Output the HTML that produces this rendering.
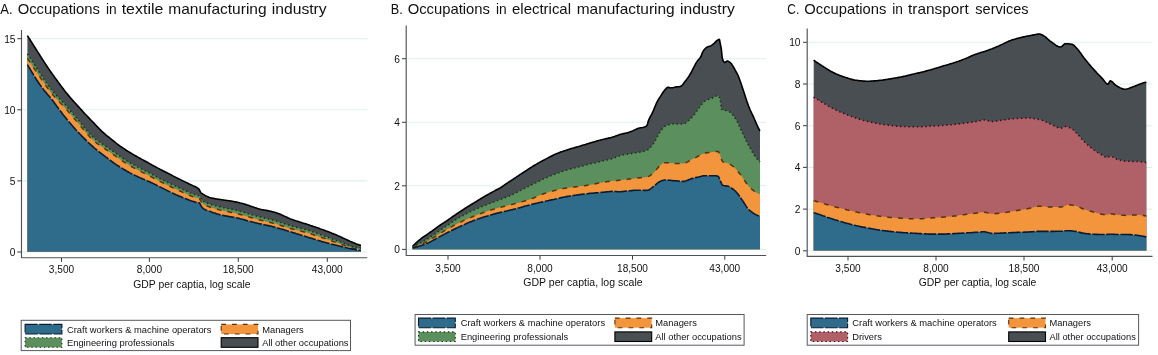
<!DOCTYPE html>
<html><head><meta charset="utf-8"><title>Occupations by industry</title>
<style>html,body{margin:0;padding:0;background:#fff;}body{width:1158px;height:355px;overflow:hidden;font-family:"Liberation Sans", sans-serif;}svg{display:block;will-change:transform;opacity:0.9999}</style>
</head><body>
<svg width="1158" height="355" viewBox="0 0 1158 355" font-family='"Liberation Sans", sans-serif'>
<rect width="1158" height="355" fill="#fff"/>
<text x="0.3" y="13.7" font-size="14.6" textLength="12.3" lengthAdjust="spacingAndGlyphs" fill="#111">A.</text>
<text x="17.7" y="13.7" font-size="14.6" textLength="82.3" lengthAdjust="spacingAndGlyphs" fill="#111">Occupations</text>
<text x="106.0" y="13.7" font-size="14.6" textLength="10.7" lengthAdjust="spacingAndGlyphs" fill="#111">in</text>
<text x="121.7" y="13.7" font-size="14.6" textLength="41.7" lengthAdjust="spacingAndGlyphs" fill="#111">textile</text>
<text x="168.3" y="13.7" font-size="14.6" textLength="98.3" lengthAdjust="spacingAndGlyphs" fill="#111">manufacturing</text>
<text x="271.7" y="13.7" font-size="14.6" textLength="55.0" lengthAdjust="spacingAndGlyphs" fill="#111">industry</text>
<text x="390.7" y="13.7" font-size="14.6" textLength="12.0" lengthAdjust="spacingAndGlyphs" fill="#111">B.</text>
<text x="407.7" y="13.7" font-size="14.6" textLength="82.3" lengthAdjust="spacingAndGlyphs" fill="#111">Occupations</text>
<text x="496.0" y="13.7" font-size="14.6" textLength="10.7" lengthAdjust="spacingAndGlyphs" fill="#111">in</text>
<text x="512.0" y="13.7" font-size="14.6" textLength="59.0" lengthAdjust="spacingAndGlyphs" fill="#111">electrical</text>
<text x="576.7" y="13.7" font-size="14.6" textLength="98.0" lengthAdjust="spacingAndGlyphs" fill="#111">manufacturing</text>
<text x="680.0" y="13.7" font-size="14.6" textLength="54.7" lengthAdjust="spacingAndGlyphs" fill="#111">industry</text>
<text x="787.3" y="13.7" font-size="14.6" textLength="12.0" lengthAdjust="spacingAndGlyphs" fill="#111">C.</text>
<text x="804.3" y="13.7" font-size="14.6" textLength="82.0" lengthAdjust="spacingAndGlyphs" fill="#111">Occupations</text>
<text x="892.3" y="13.7" font-size="14.6" textLength="10.7" lengthAdjust="spacingAndGlyphs" fill="#111">in</text>
<text x="908.0" y="13.7" font-size="14.6" textLength="60.7" lengthAdjust="spacingAndGlyphs" fill="#111">transport</text>
<text x="975.3" y="13.7" font-size="14.6" textLength="53.3" lengthAdjust="spacingAndGlyphs" fill="#111">services</text>
<line x1="22.5" y1="252.0" x2="367.3" y2="252.0" stroke="#DFEFEC" stroke-width="1.1"/>
<line x1="22.5" y1="180.9" x2="367.3" y2="180.9" stroke="#DFEFEC" stroke-width="1.1"/>
<line x1="22.5" y1="109.8" x2="367.3" y2="109.8" stroke="#DFEFEC" stroke-width="1.1"/>
<line x1="22.5" y1="38.7" x2="367.3" y2="38.7" stroke="#DFEFEC" stroke-width="1.1"/>
<path d="M27.4,35.6 L28.4,37.2 L29.4,38.8 L30.4,40.3 L31.4,41.9 L32.4,43.5 L33.4,45.1 L34.4,46.7 L35.4,48.2 L36.4,49.8 L37.4,51.4 L38.4,52.9 L39.4,54.5 L40.0,55.5 L40.4,56.1 L41.4,57.7 L42.4,59.2 L43.4,60.8 L44.4,62.4 L45.4,63.9 L46.4,65.4 L47.4,66.9 L48.4,68.4 L49.4,69.9 L50.4,71.3 L51.4,72.7 L52.4,74.1 L53.4,75.5 L54.4,76.9 L55.4,78.2 L56.4,79.6 L56.9,80.3 L57.4,81.0 L58.4,82.4 L59.4,83.8 L60.4,85.1 L61.4,86.5 L62.4,87.8 L63.4,89.1 L64.4,90.4 L65.4,91.7 L66.4,92.9 L67.4,94.1 L68.4,95.4 L69.3,96.4 L69.4,96.5 L70.4,97.7 L71.4,98.9 L72.4,100.0 L73.4,101.1 L74.4,102.2 L75.4,103.3 L76.4,104.4 L77.4,105.5 L78.4,106.6 L79.4,107.7 L80.4,108.8 L81.4,109.9 L82.4,111.0 L82.8,111.5 L83.4,112.1 L84.4,113.2 L85.4,114.3 L86.4,115.3 L87.4,116.4 L88.4,117.4 L89.4,118.4 L90.4,119.5 L91.4,120.5 L92.4,121.5 L93.4,122.5 L94.4,123.6 L95.4,124.7 L96.3,125.6 L96.4,125.7 L97.4,126.8 L98.4,127.9 L99.4,128.9 L100.0,129.5 L100.4,129.9 L101.4,130.9 L102.4,131.8 L103.4,132.7 L104.4,133.6 L105.4,134.4 L106.4,135.3 L107.4,136.1 L108.4,136.9 L109.4,137.7 L110.4,138.5 L111.3,139.2 L111.4,139.3 L112.4,140.1 L113.4,140.9 L114.4,141.7 L115.4,142.5 L116.4,143.3 L117.4,144.1 L118.4,144.8 L119.4,145.6 L120.4,146.3 L121.4,147.0 L122.4,147.7 L122.5,147.7 L123.4,148.3 L124.4,149.0 L125.4,149.7 L126.4,150.3 L127.4,151.0 L128.4,151.6 L129.4,152.2 L130.4,152.8 L131.4,153.4 L132.4,154.0 L133.4,154.6 L133.8,154.8 L134.4,155.2 L135.4,155.7 L136.4,156.3 L137.4,156.9 L138.4,157.4 L139.4,158.0 L140.4,158.5 L141.4,159.1 L142.4,159.6 L143.4,160.1 L144.4,160.7 L145.1,161.1 L145.4,161.2 L146.4,161.8 L147.4,162.3 L148.4,162.9 L149.4,163.5 L150.4,164.0 L151.4,164.6 L152.4,165.2 L153.4,165.7 L154.4,166.3 L155.4,166.8 L156.3,167.3 L156.4,167.4 L157.4,167.9 L158.4,168.4 L159.4,168.9 L160.4,169.5 L161.4,170.0 L162.4,170.5 L163.4,171.0 L164.4,171.5 L165.4,172.0 L166.4,172.5 L167.4,173.0 L167.6,173.1 L168.4,173.5 L169.4,174.0 L170.4,174.5 L171.4,175.0 L172.4,175.6 L173.4,176.1 L174.4,176.6 L175.4,177.1 L176.4,177.6 L177.4,178.1 L178.4,178.6 L178.9,178.9 L179.4,179.1 L180.4,179.6 L181.4,180.1 L182.4,180.6 L183.4,181.1 L184.4,181.6 L185.4,182.1 L186.4,182.6 L187.4,183.0 L188.4,183.5 L189.4,184.0 L190.1,184.3 L190.4,184.5 L191.4,184.9 L192.4,185.4 L193.4,185.9 L194.4,186.3 L195.4,186.8 L196.4,187.3 L197.4,187.9 L198.4,188.7 L199.0,189.2 L199.4,189.9 L200.4,191.9 L201.3,193.2 L201.4,193.3 L202.4,193.7 L203.0,194.2 L203.4,194.4 L204.4,195.0 L205.4,195.6 L206.4,196.1 L207.4,196.6 L208.4,197.0 L209.4,197.4 L210.4,197.7 L211.4,197.9 L212.4,198.2 L212.5,198.2 L213.4,198.4 L214.4,198.6 L215.4,198.8 L216.4,199.0 L217.4,199.1 L218.4,199.3 L219.4,199.4 L220.4,199.5 L221.4,199.7 L222.4,199.8 L223.4,200.0 L223.8,200.0 L224.4,200.1 L225.4,200.2 L226.4,200.4 L227.4,200.5 L228.4,200.7 L229.4,200.8 L230.4,201.0 L231.4,201.1 L232.4,201.3 L233.4,201.5 L234.4,201.7 L235.1,201.8 L235.4,201.9 L236.4,202.1 L237.4,202.3 L238.4,202.5 L239.4,202.7 L240.4,203.0 L241.4,203.2 L242.4,203.5 L243.4,203.8 L244.4,204.1 L245.4,204.4 L246.3,204.6 L246.4,204.7 L247.4,205.0 L248.4,205.3 L249.4,205.7 L250.4,206.0 L251.4,206.4 L252.4,206.8 L253.4,207.1 L254.4,207.5 L255.4,207.8 L256.4,208.1 L257.4,208.4 L257.6,208.5 L258.4,208.7 L259.4,209.0 L260.4,209.2 L261.4,209.5 L262.4,209.7 L263.4,209.9 L264.4,210.0 L265.4,210.2 L266.4,210.4 L267.4,210.6 L268.4,210.8 L268.9,210.9 L269.4,211.0 L270.4,211.2 L271.4,211.4 L272.4,211.7 L273.4,211.9 L274.4,212.2 L275.4,212.5 L276.4,212.8 L277.4,213.2 L278.4,213.5 L279.4,213.9 L280.1,214.2 L280.4,214.3 L281.4,214.8 L282.4,215.2 L283.4,215.7 L284.4,216.1 L285.4,216.6 L286.4,217.1 L287.4,217.5 L288.4,218.0 L289.4,218.4 L290.4,218.9 L291.4,219.3 L292.4,219.6 L293.4,220.0 L294.4,220.3 L295.4,220.7 L296.4,221.0 L297.4,221.3 L298.4,221.6 L299.4,221.9 L300.4,222.2 L301.4,222.5 L302.4,222.9 L303.4,223.2 L304.4,223.5 L305.4,223.8 L306.4,224.1 L306.9,224.3 L307.4,224.4 L308.4,224.7 L309.4,225.0 L310.4,225.4 L311.4,225.7 L312.4,226.0 L313.4,226.4 L314.4,226.7 L315.4,227.1 L316.4,227.4 L317.4,227.8 L318.4,228.1 L319.4,228.5 L320.4,228.9 L321.4,229.2 L322.4,229.6 L323.4,229.9 L323.8,230.1 L324.4,230.3 L325.4,230.7 L326.4,231.0 L327.4,231.4 L328.4,231.8 L329.4,232.2 L330.4,232.6 L331.4,233.0 L332.4,233.4 L333.4,233.8 L334.4,234.2 L335.4,234.6 L336.4,235.0 L337.4,235.4 L338.4,235.9 L339.4,236.3 L340.4,236.8 L340.7,236.9 L341.4,237.2 L342.4,237.7 L343.4,238.2 L344.4,238.6 L345.4,239.1 L346.4,239.6 L347.4,240.0 L348.4,240.5 L349.4,240.9 L350.4,241.4 L351.4,241.8 L352.4,242.2 L353.4,242.7 L354.2,243.0 L354.4,243.1 L355.4,243.5 L356.4,243.9 L357.4,244.2 L358.4,244.6 L359.4,244.9 L360.4,245.3 L361.0,245.4 L361.0,251.8 L27.4,251.8 Z" fill="#484E52" stroke="none"/>
<path d="M27.4,53.8 L28.4,55.4 L29.4,56.9 L30.4,58.5 L31.4,60.0 L32.4,61.6 L33.4,63.2 L34.4,64.7 L35.4,66.2 L36.4,67.8 L37.4,69.3 L38.4,70.8 L39.4,72.3 L40.4,73.8 L41.4,75.3 L42.4,76.7 L43.4,78.2 L44.4,79.7 L45.4,81.2 L45.6,81.5 L46.4,82.7 L47.4,84.1 L48.4,85.6 L49.4,87.0 L50.4,88.3 L51.4,89.6 L52.1,90.5 L52.4,90.9 L53.4,92.1 L54.4,93.2 L55.4,94.4 L56.4,95.4 L57.4,96.5 L58.4,97.5 L59.4,98.5 L60.4,99.6 L61.4,100.6 L62.4,101.7 L62.5,101.8 L63.4,102.7 L64.4,103.8 L65.4,105.0 L66.4,106.1 L67.4,107.2 L68.4,108.4 L69.4,109.6 L70.4,110.7 L71.4,111.9 L72.4,113.0 L73.4,114.2 L74.4,115.3 L75.4,116.5 L76.1,117.3 L76.4,117.6 L77.4,118.8 L78.4,120.0 L79.4,121.2 L80.4,122.5 L81.4,123.7 L82.4,125.0 L83.4,126.3 L84.4,127.5 L85.4,128.8 L86.4,130.0 L87.4,131.2 L88.4,132.3 L89.4,133.4 L90.4,134.5 L91.4,135.5 L91.8,135.9 L92.4,136.4 L93.4,137.3 L94.4,138.2 L95.4,139.0 L96.4,139.8 L97.4,140.6 L98.4,141.3 L99.4,142.0 L100.0,142.4 L100.4,142.7 L101.4,143.4 L102.4,144.1 L103.4,144.8 L104.4,145.5 L105.4,146.1 L106.4,146.8 L107.4,147.5 L108.4,148.1 L109.4,148.8 L110.4,149.5 L111.3,150.1 L111.4,150.2 L112.4,150.9 L113.4,151.6 L114.4,152.3 L115.4,153.0 L116.4,153.7 L117.4,154.5 L118.4,155.2 L119.4,155.9 L120.4,156.6 L121.4,157.4 L122.4,158.0 L122.5,158.1 L123.4,158.7 L124.4,159.4 L125.4,160.0 L126.4,160.7 L127.4,161.3 L128.4,161.9 L129.4,162.5 L130.4,163.0 L131.4,163.6 L132.4,164.1 L133.4,164.7 L133.8,164.9 L134.4,165.2 L135.4,165.8 L136.4,166.3 L137.4,166.8 L138.4,167.3 L139.4,167.8 L140.4,168.3 L141.4,168.9 L142.4,169.4 L143.4,169.9 L144.4,170.4 L145.1,170.7 L145.4,170.9 L146.4,171.4 L147.4,171.9 L148.4,172.4 L149.4,172.9 L150.4,173.4 L151.4,174.0 L152.4,174.5 L153.4,175.1 L154.4,175.6 L155.4,176.2 L156.3,176.7 L156.4,176.7 L157.4,177.3 L158.4,177.8 L159.4,178.3 L160.4,178.9 L161.4,179.4 L162.4,179.9 L163.4,180.4 L164.4,180.9 L165.4,181.3 L166.4,181.8 L167.4,182.3 L167.6,182.4 L168.4,182.8 L169.4,183.2 L170.4,183.7 L171.4,184.2 L172.4,184.6 L173.4,185.1 L174.4,185.6 L175.4,186.0 L176.4,186.5 L177.4,187.0 L178.4,187.5 L178.9,187.7 L179.4,187.9 L180.4,188.4 L181.4,188.9 L182.4,189.4 L183.4,189.8 L184.4,190.3 L185.4,190.8 L186.4,191.2 L187.4,191.7 L188.4,192.1 L189.4,192.5 L190.1,192.8 L190.4,192.9 L191.4,193.3 L192.4,193.7 L193.4,194.1 L194.4,194.4 L195.4,194.8 L196.4,195.0 L197.4,195.2 L198.4,195.4 L199.0,195.6 L199.4,195.8 L200.4,197.3 L201.4,199.2 L202.4,200.5 L203.4,201.2 L204.4,201.9 L205.4,202.4 L206.4,202.9 L207.4,203.3 L208.4,203.7 L209.4,204.0 L210.4,204.3 L211.4,204.6 L212.4,204.9 L212.5,205.0 L213.4,205.2 L214.4,205.5 L215.4,205.8 L216.4,206.0 L217.4,206.3 L218.4,206.5 L219.4,206.7 L220.4,207.0 L221.4,207.2 L222.4,207.4 L223.4,207.7 L223.8,207.7 L224.4,207.9 L225.4,208.1 L226.4,208.3 L227.4,208.5 L228.4,208.7 L229.4,208.9 L230.4,209.1 L231.4,209.3 L232.4,209.5 L233.4,209.7 L234.4,209.9 L235.1,210.0 L235.4,210.1 L236.4,210.4 L237.4,210.6 L238.4,210.9 L239.4,211.1 L240.4,211.4 L241.4,211.7 L242.4,212.0 L243.4,212.3 L244.4,212.6 L245.4,212.9 L246.3,213.1 L246.4,213.1 L247.4,213.4 L248.4,213.7 L249.4,214.0 L250.4,214.3 L251.4,214.6 L252.4,214.9 L253.4,215.2 L254.4,215.5 L255.4,215.8 L256.4,216.1 L257.4,216.3 L257.6,216.4 L258.4,216.6 L259.4,216.8 L260.4,217.1 L261.4,217.3 L262.4,217.5 L263.4,217.8 L264.4,218.0 L265.4,218.2 L266.4,218.4 L267.4,218.7 L268.4,218.9 L268.9,219.0 L269.4,219.2 L270.4,219.4 L271.4,219.7 L272.4,220.0 L273.4,220.3 L274.4,220.5 L275.4,220.8 L276.4,221.1 L277.4,221.4 L278.4,221.7 L279.4,222.1 L280.1,222.3 L280.4,222.4 L281.4,222.7 L282.4,223.0 L283.4,223.4 L284.4,223.7 L285.4,224.0 L286.4,224.4 L287.4,224.7 L288.4,225.0 L289.4,225.4 L290.4,225.7 L291.4,226.0 L292.4,226.2 L293.4,226.5 L294.4,226.8 L295.4,227.0 L296.4,227.3 L297.4,227.5 L298.4,227.8 L299.4,228.0 L300.4,228.2 L301.4,228.5 L302.4,228.7 L303.4,229.0 L304.4,229.2 L305.4,229.5 L306.4,229.8 L306.9,229.9 L307.4,230.1 L308.4,230.4 L309.4,230.7 L310.4,231.0 L311.4,231.4 L312.4,231.7 L313.4,232.0 L314.4,232.4 L315.4,232.8 L316.4,233.1 L317.4,233.5 L318.4,233.9 L319.4,234.2 L320.4,234.6 L321.4,235.0 L322.4,235.3 L323.4,235.7 L323.8,235.8 L324.4,236.1 L325.4,236.4 L326.4,236.8 L327.4,237.1 L328.4,237.5 L329.4,237.9 L330.4,238.2 L331.4,238.6 L332.4,239.0 L333.4,239.3 L334.4,239.7 L335.4,240.1 L336.4,240.5 L337.4,240.8 L338.4,241.2 L339.4,241.6 L340.4,242.0 L340.7,242.1 L341.4,242.4 L342.4,242.8 L343.4,243.2 L344.4,243.6 L345.4,244.0 L346.4,244.4 L347.4,244.9 L348.4,245.3 L349.4,245.6 L350.4,246.0 L351.4,246.3 L352.4,246.6 L353.4,246.9 L354.2,247.1 L354.4,247.1 L355.4,247.3 L356.4,247.5 L357.4,247.7 L358.4,247.8 L359.4,248.0 L360.4,248.1 L361.0,248.1 L361.0,251.8 L27.4,251.8 Z" fill="#5B905E" stroke="none"/>
<path d="M27.4,58.4 L28.4,59.9 L29.4,61.4 L30.4,62.9 L31.4,64.4 L32.4,65.9 L33.4,67.4 L34.4,68.9 L35.4,70.4 L36.4,71.9 L37.4,73.4 L38.4,74.8 L39.4,76.3 L40.4,77.7 L41.4,79.2 L42.4,80.6 L43.4,82.1 L44.4,83.5 L45.4,84.9 L45.6,85.2 L46.4,86.3 L47.4,87.7 L48.4,89.1 L49.4,90.4 L50.4,91.7 L51.4,93.0 L52.1,93.8 L52.4,94.2 L53.4,95.4 L54.4,96.5 L55.4,97.7 L56.4,98.8 L57.4,99.8 L58.4,100.9 L59.4,101.9 L60.4,103.0 L61.4,104.0 L62.4,105.1 L62.5,105.2 L63.4,106.2 L64.4,107.3 L65.4,108.4 L66.4,109.5 L67.4,110.6 L68.4,111.8 L69.4,112.9 L70.4,114.1 L71.4,115.2 L72.4,116.4 L73.4,117.5 L74.4,118.7 L75.4,119.8 L76.1,120.6 L76.4,121.0 L77.4,122.2 L78.4,123.4 L79.4,124.6 L80.4,125.8 L81.4,127.0 L82.4,128.3 L83.4,129.5 L84.4,130.7 L85.4,131.9 L86.4,133.1 L87.4,134.2 L88.4,135.3 L89.4,136.4 L90.4,137.5 L91.4,138.4 L91.8,138.8 L92.4,139.4 L93.4,140.3 L94.4,141.2 L95.4,142.0 L96.4,142.8 L97.4,143.6 L98.4,144.3 L99.4,145.0 L100.0,145.5 L100.4,145.8 L101.4,146.5 L102.4,147.1 L103.4,147.8 L104.4,148.5 L105.4,149.2 L106.4,149.9 L107.4,150.5 L108.4,151.2 L109.4,151.9 L110.4,152.6 L111.3,153.2 L111.4,153.2 L112.4,153.9 L113.4,154.6 L114.4,155.3 L115.4,156.0 L116.4,156.8 L117.4,157.5 L118.4,158.2 L119.4,158.9 L120.4,159.6 L121.4,160.3 L122.4,161.0 L122.5,161.0 L123.4,161.6 L124.4,162.3 L125.4,162.9 L126.4,163.6 L127.4,164.2 L128.4,164.8 L129.4,165.4 L130.4,165.9 L131.4,166.5 L132.4,167.1 L133.4,167.6 L133.8,167.8 L134.4,168.1 L135.4,168.7 L136.4,169.2 L137.4,169.7 L138.4,170.2 L139.4,170.8 L140.4,171.3 L141.4,171.8 L142.4,172.3 L143.4,172.8 L144.4,173.3 L145.1,173.6 L145.4,173.8 L146.4,174.3 L147.4,174.8 L148.4,175.3 L149.4,175.8 L150.4,176.4 L151.4,176.9 L152.4,177.4 L153.4,178.0 L154.4,178.5 L155.4,179.1 L156.3,179.6 L156.4,179.6 L157.4,180.1 L158.4,180.7 L159.4,181.2 L160.4,181.7 L161.4,182.2 L162.4,182.7 L163.4,183.2 L164.4,183.7 L165.4,184.2 L166.4,184.7 L167.4,185.1 L167.6,185.2 L168.4,185.6 L169.4,186.1 L170.4,186.5 L171.4,187.0 L172.4,187.5 L173.4,187.9 L174.4,188.4 L175.4,188.9 L176.4,189.3 L177.4,189.8 L178.4,190.3 L178.9,190.5 L179.4,190.8 L180.4,191.2 L181.4,191.7 L182.4,192.2 L183.4,192.6 L184.4,193.1 L185.4,193.5 L186.4,194.0 L187.4,194.4 L188.4,194.9 L189.4,195.3 L190.1,195.5 L190.4,195.7 L191.4,196.1 L192.4,196.5 L193.4,196.8 L194.4,197.2 L195.4,197.6 L196.4,197.9 L197.4,198.0 L198.4,198.2 L199.0,198.4 L199.4,198.6 L200.4,200.1 L201.4,202.0 L202.4,203.3 L203.4,204.1 L204.4,204.7 L205.4,205.3 L206.4,205.7 L207.4,206.1 L208.4,206.5 L209.4,206.8 L210.4,207.2 L211.4,207.5 L212.4,207.8 L212.5,207.8 L213.4,208.1 L214.4,208.4 L215.4,208.7 L216.4,208.9 L217.4,209.2 L218.4,209.5 L219.4,209.7 L220.4,210.0 L221.4,210.2 L222.4,210.5 L223.4,210.7 L223.8,210.8 L224.4,210.9 L225.4,211.1 L226.4,211.3 L227.4,211.6 L228.4,211.8 L229.4,212.0 L230.4,212.2 L231.4,212.4 L232.4,212.6 L233.4,212.8 L234.4,213.0 L235.1,213.2 L235.4,213.3 L236.4,213.5 L237.4,213.7 L238.4,214.0 L239.4,214.3 L240.4,214.5 L241.4,214.8 L242.4,215.1 L243.4,215.4 L244.4,215.7 L245.4,215.9 L246.3,216.2 L246.4,216.2 L247.4,216.5 L248.4,216.8 L249.4,217.1 L250.4,217.4 L251.4,217.7 L252.4,218.0 L253.4,218.3 L254.4,218.6 L255.4,218.8 L256.4,219.1 L257.4,219.4 L257.6,219.4 L258.4,219.6 L259.4,219.9 L260.4,220.1 L261.4,220.3 L262.4,220.6 L263.4,220.8 L264.4,221.0 L265.4,221.2 L266.4,221.5 L267.4,221.7 L268.4,222.0 L268.9,222.1 L269.4,222.2 L270.4,222.5 L271.4,222.7 L272.4,223.0 L273.4,223.3 L274.4,223.5 L275.4,223.8 L276.4,224.1 L277.4,224.4 L278.4,224.7 L279.4,225.0 L280.1,225.2 L280.4,225.3 L281.4,225.7 L282.4,226.0 L283.4,226.3 L284.4,226.6 L285.4,226.9 L286.4,227.3 L287.4,227.6 L288.4,227.9 L289.4,228.2 L290.4,228.5 L291.4,228.8 L292.4,229.1 L293.4,229.3 L294.4,229.6 L295.4,229.8 L296.4,230.1 L297.4,230.3 L298.4,230.6 L299.4,230.8 L300.4,231.1 L301.4,231.3 L302.4,231.5 L303.4,231.8 L304.4,232.0 L305.4,232.3 L306.4,232.6 L306.9,232.7 L307.4,232.8 L308.4,233.1 L309.4,233.4 L310.4,233.7 L311.4,234.0 L312.4,234.4 L313.4,234.7 L314.4,235.0 L315.4,235.4 L316.4,235.7 L317.4,236.0 L318.4,236.4 L319.4,236.7 L320.4,237.1 L321.4,237.4 L322.4,237.8 L323.4,238.1 L323.8,238.2 L324.4,238.4 L325.4,238.8 L326.4,239.1 L327.4,239.5 L328.4,239.8 L329.4,240.1 L330.4,240.5 L331.4,240.8 L332.4,241.2 L333.4,241.5 L334.4,241.9 L335.4,242.2 L336.4,242.6 L337.4,242.9 L338.4,243.3 L339.4,243.6 L340.4,244.0 L340.7,244.1 L341.4,244.4 L342.4,244.7 L343.4,245.1 L344.4,245.5 L345.4,245.9 L346.4,246.2 L347.4,246.6 L348.4,246.9 L349.4,247.3 L350.4,247.6 L351.4,247.8 L352.4,248.1 L353.4,248.3 L354.2,248.5 L354.4,248.6 L355.4,248.7 L356.4,248.9 L357.4,249.0 L358.4,249.2 L359.4,249.3 L360.4,249.3 L361.0,249.4 L361.0,251.8 L27.4,251.8 Z" fill="#F2953D" stroke="none"/>
<path d="M27.4,64.6 L28.4,66.3 L29.4,68.0 L30.4,69.7 L31.4,71.3 L32.4,73.0 L33.4,74.7 L34.4,76.3 L35.4,77.9 L36.4,79.5 L37.4,81.0 L38.4,82.5 L39.4,84.0 L40.0,84.8 L40.4,85.4 L41.4,86.8 L42.4,88.1 L43.4,89.4 L43.6,89.7 L44.4,90.7 L45.4,91.9 L46.4,93.0 L47.4,94.2 L48.4,95.4 L49.4,96.6 L50.4,97.8 L51.4,99.0 L52.4,100.3 L53.4,101.6 L53.5,101.8 L54.4,103.0 L55.4,104.3 L56.4,105.7 L57.4,107.0 L58.4,108.4 L59.4,109.7 L60.4,111.0 L61.4,112.3 L62.4,113.7 L63.4,115.0 L64.4,116.2 L65.4,117.5 L66.4,118.7 L67.0,119.5 L67.4,120.0 L68.4,121.2 L69.4,122.4 L70.4,123.5 L71.4,124.7 L72.4,125.8 L73.4,127.0 L74.4,128.1 L75.4,129.2 L76.4,130.3 L77.4,131.3 L78.4,132.4 L79.4,133.5 L80.4,134.5 L81.4,135.6 L82.4,136.6 L82.8,137.0 L83.4,137.6 L84.4,138.6 L85.4,139.6 L86.4,140.6 L87.4,141.6 L88.4,142.6 L89.4,143.5 L90.4,144.4 L91.4,145.3 L92.4,146.2 L93.4,147.1 L94.4,148.0 L95.4,148.8 L96.4,149.7 L97.4,150.5 L98.4,151.3 L98.6,151.5 L99.4,152.1 L100.4,152.9 L101.4,153.7 L102.4,154.5 L103.4,155.2 L104.4,156.0 L105.4,156.7 L106.4,157.5 L107.4,158.2 L108.4,159.0 L109.4,159.7 L110.4,160.5 L111.3,161.1 L111.4,161.2 L112.4,162.0 L113.4,162.7 L114.4,163.4 L115.4,164.1 L116.4,164.7 L117.4,165.4 L118.4,166.0 L119.4,166.7 L120.4,167.3 L121.4,167.9 L122.4,168.5 L122.5,168.6 L123.4,169.1 L124.4,169.7 L125.4,170.3 L126.4,170.9 L127.4,171.5 L128.4,172.0 L129.4,172.6 L130.4,173.1 L131.4,173.6 L132.4,174.1 L133.4,174.6 L133.8,174.8 L134.4,175.1 L135.4,175.6 L136.4,176.1 L137.4,176.5 L138.4,177.0 L139.4,177.4 L140.4,177.9 L141.4,178.3 L142.4,178.7 L143.4,179.2 L144.4,179.6 L145.1,179.9 L145.4,180.0 L146.4,180.4 L147.4,180.9 L148.4,181.3 L149.4,181.7 L150.4,182.2 L151.4,182.7 L152.4,183.1 L153.4,183.6 L154.4,184.1 L155.4,184.6 L156.3,185.0 L156.4,185.1 L157.4,185.6 L158.4,186.1 L159.4,186.6 L160.4,187.1 L161.4,187.6 L162.4,188.1 L163.4,188.6 L164.4,189.1 L165.4,189.6 L166.4,190.1 L167.4,190.6 L167.6,190.7 L168.4,191.1 L169.4,191.6 L170.4,192.1 L171.4,192.6 L172.4,193.1 L173.4,193.5 L174.4,194.0 L175.4,194.4 L176.4,194.9 L177.4,195.3 L178.4,195.7 L178.9,196.0 L179.4,196.2 L180.4,196.6 L181.4,197.0 L182.4,197.4 L183.4,197.8 L184.4,198.2 L185.4,198.6 L186.4,199.0 L187.4,199.4 L188.4,199.8 L189.4,200.2 L190.1,200.4 L190.4,200.5 L191.4,200.9 L192.4,201.2 L193.4,201.5 L194.4,201.8 L195.4,202.2 L196.4,202.4 L197.4,202.4 L198.4,202.6 L199.0,202.7 L199.4,203.0 L200.4,204.5 L201.4,206.5 L202.4,207.8 L203.4,208.6 L204.4,209.2 L205.4,209.7 L206.4,210.2 L207.4,210.5 L208.4,210.9 L209.4,211.3 L210.4,211.6 L211.4,212.0 L212.4,212.3 L212.5,212.4 L213.4,212.7 L214.4,213.0 L215.4,213.3 L216.4,213.7 L217.4,214.0 L218.4,214.3 L219.4,214.6 L220.4,214.8 L221.4,215.1 L222.4,215.3 L223.4,215.6 L223.8,215.6 L224.4,215.8 L225.4,215.9 L226.4,216.1 L227.4,216.3 L228.4,216.4 L229.4,216.6 L230.4,216.7 L231.4,216.9 L232.4,217.0 L233.4,217.2 L234.4,217.4 L235.1,217.5 L235.4,217.6 L236.4,217.8 L237.4,218.0 L238.4,218.2 L239.4,218.5 L240.4,218.8 L241.4,219.0 L242.4,219.3 L243.4,219.6 L244.4,219.9 L245.4,220.1 L246.3,220.4 L246.4,220.4 L247.4,220.7 L248.4,221.0 L249.4,221.2 L250.4,221.5 L251.4,221.8 L252.4,222.0 L253.4,222.3 L254.4,222.5 L255.4,222.8 L256.4,223.0 L257.4,223.3 L257.6,223.3 L258.4,223.5 L259.4,223.7 L260.4,223.9 L261.4,224.1 L262.4,224.4 L263.4,224.6 L264.4,224.8 L265.4,225.0 L266.4,225.2 L267.4,225.4 L268.4,225.6 L268.9,225.7 L269.4,225.9 L270.4,226.1 L271.4,226.3 L272.4,226.6 L273.4,226.8 L274.4,227.1 L275.4,227.4 L276.4,227.6 L277.4,227.9 L278.4,228.2 L279.4,228.5 L280.1,228.7 L280.4,228.8 L281.4,229.1 L282.4,229.3 L283.4,229.6 L284.4,229.9 L285.4,230.2 L286.4,230.6 L287.4,230.9 L288.4,231.2 L289.4,231.5 L290.4,231.8 L291.4,232.1 L292.4,232.4 L293.4,232.7 L294.4,233.0 L295.4,233.3 L296.4,233.7 L297.4,234.0 L298.4,234.3 L299.4,234.6 L300.4,234.9 L301.4,235.2 L302.4,235.5 L303.4,235.8 L304.4,236.1 L305.4,236.4 L306.4,236.7 L306.9,236.9 L307.4,237.1 L308.4,237.4 L309.4,237.7 L310.4,238.0 L311.4,238.3 L312.4,238.6 L313.4,238.9 L314.4,239.3 L315.4,239.6 L316.4,239.9 L317.4,240.2 L318.4,240.5 L319.4,240.8 L320.4,241.1 L321.4,241.4 L322.4,241.7 L323.4,242.0 L323.8,242.1 L324.4,242.2 L325.4,242.5 L326.4,242.8 L327.4,243.1 L328.4,243.3 L329.4,243.6 L330.4,243.8 L331.4,244.1 L332.4,244.3 L333.4,244.6 L334.4,244.8 L335.4,245.1 L336.4,245.3 L337.4,245.6 L338.4,245.8 L339.4,246.1 L340.4,246.3 L340.7,246.4 L341.4,246.6 L342.4,246.8 L343.4,247.0 L344.4,247.3 L345.4,247.5 L346.4,247.8 L347.4,248.0 L348.4,248.2 L349.4,248.5 L350.4,248.7 L351.4,248.9 L352.4,249.1 L353.4,249.3 L354.2,249.4 L354.4,249.4 L355.4,249.6 L356.4,249.8 L357.4,249.9 L358.4,250.1 L359.4,250.2 L360.4,250.3 L361.0,250.4 L361.0,251.8 L27.4,251.8 Z" fill="#2F6B8A" stroke="none"/>
<path d="M27.4,35.6 L28.4,37.2 L29.4,38.8 L30.4,40.3 L31.4,41.9 L32.4,43.5 L33.4,45.1 L34.4,46.7 L35.4,48.2 L36.4,49.8 L37.4,51.4 L38.4,52.9 L39.4,54.5 L40.0,55.5 L40.4,56.1 L41.4,57.7 L42.4,59.2 L43.4,60.8 L44.4,62.4 L45.4,63.9 L46.4,65.4 L47.4,66.9 L48.4,68.4 L49.4,69.9 L50.4,71.3 L51.4,72.7 L52.4,74.1 L53.4,75.5 L54.4,76.9 L55.4,78.2 L56.4,79.6 L56.9,80.3 L57.4,81.0 L58.4,82.4 L59.4,83.8 L60.4,85.1 L61.4,86.5 L62.4,87.8 L63.4,89.1 L64.4,90.4 L65.4,91.7 L66.4,92.9 L67.4,94.1 L68.4,95.4 L69.3,96.4 L69.4,96.5 L70.4,97.7 L71.4,98.9 L72.4,100.0 L73.4,101.1 L74.4,102.2 L75.4,103.3 L76.4,104.4 L77.4,105.5 L78.4,106.6 L79.4,107.7 L80.4,108.8 L81.4,109.9 L82.4,111.0 L82.8,111.5 L83.4,112.1 L84.4,113.2 L85.4,114.3 L86.4,115.3 L87.4,116.4 L88.4,117.4 L89.4,118.4 L90.4,119.5 L91.4,120.5 L92.4,121.5 L93.4,122.5 L94.4,123.6 L95.4,124.7 L96.3,125.6 L96.4,125.7 L97.4,126.8 L98.4,127.9 L99.4,128.9 L100.0,129.5 L100.4,129.9 L101.4,130.9 L102.4,131.8 L103.4,132.7 L104.4,133.6 L105.4,134.4 L106.4,135.3 L107.4,136.1 L108.4,136.9 L109.4,137.7 L110.4,138.5 L111.3,139.2 L111.4,139.3 L112.4,140.1 L113.4,140.9 L114.4,141.7 L115.4,142.5 L116.4,143.3 L117.4,144.1 L118.4,144.8 L119.4,145.6 L120.4,146.3 L121.4,147.0 L122.4,147.7 L122.5,147.7 L123.4,148.3 L124.4,149.0 L125.4,149.7 L126.4,150.3 L127.4,151.0 L128.4,151.6 L129.4,152.2 L130.4,152.8 L131.4,153.4 L132.4,154.0 L133.4,154.6 L133.8,154.8 L134.4,155.2 L135.4,155.7 L136.4,156.3 L137.4,156.9 L138.4,157.4 L139.4,158.0 L140.4,158.5 L141.4,159.1 L142.4,159.6 L143.4,160.1 L144.4,160.7 L145.1,161.1 L145.4,161.2 L146.4,161.8 L147.4,162.3 L148.4,162.9 L149.4,163.5 L150.4,164.0 L151.4,164.6 L152.4,165.2 L153.4,165.7 L154.4,166.3 L155.4,166.8 L156.3,167.3 L156.4,167.4 L157.4,167.9 L158.4,168.4 L159.4,168.9 L160.4,169.5 L161.4,170.0 L162.4,170.5 L163.4,171.0 L164.4,171.5 L165.4,172.0 L166.4,172.5 L167.4,173.0 L167.6,173.1 L168.4,173.5 L169.4,174.0 L170.4,174.5 L171.4,175.0 L172.4,175.6 L173.4,176.1 L174.4,176.6 L175.4,177.1 L176.4,177.6 L177.4,178.1 L178.4,178.6 L178.9,178.9 L179.4,179.1 L180.4,179.6 L181.4,180.1 L182.4,180.6 L183.4,181.1 L184.4,181.6 L185.4,182.1 L186.4,182.6 L187.4,183.0 L188.4,183.5 L189.4,184.0 L190.1,184.3 L190.4,184.5 L191.4,184.9 L192.4,185.4 L193.4,185.9 L194.4,186.3 L195.4,186.8 L196.4,187.3 L197.4,187.9 L198.4,188.7 L199.0,189.2 L199.4,189.9 L200.4,191.9 L201.3,193.2 L201.4,193.3 L202.4,193.7 L203.0,194.2 L203.4,194.4 L204.4,195.0 L205.4,195.6 L206.4,196.1 L207.4,196.6 L208.4,197.0 L209.4,197.4 L210.4,197.7 L211.4,197.9 L212.4,198.2 L212.5,198.2 L213.4,198.4 L214.4,198.6 L215.4,198.8 L216.4,199.0 L217.4,199.1 L218.4,199.3 L219.4,199.4 L220.4,199.5 L221.4,199.7 L222.4,199.8 L223.4,200.0 L223.8,200.0 L224.4,200.1 L225.4,200.2 L226.4,200.4 L227.4,200.5 L228.4,200.7 L229.4,200.8 L230.4,201.0 L231.4,201.1 L232.4,201.3 L233.4,201.5 L234.4,201.7 L235.1,201.8 L235.4,201.9 L236.4,202.1 L237.4,202.3 L238.4,202.5 L239.4,202.7 L240.4,203.0 L241.4,203.2 L242.4,203.5 L243.4,203.8 L244.4,204.1 L245.4,204.4 L246.3,204.6 L246.4,204.7 L247.4,205.0 L248.4,205.3 L249.4,205.7 L250.4,206.0 L251.4,206.4 L252.4,206.8 L253.4,207.1 L254.4,207.5 L255.4,207.8 L256.4,208.1 L257.4,208.4 L257.6,208.5 L258.4,208.7 L259.4,209.0 L260.4,209.2 L261.4,209.5 L262.4,209.7 L263.4,209.9 L264.4,210.0 L265.4,210.2 L266.4,210.4 L267.4,210.6 L268.4,210.8 L268.9,210.9 L269.4,211.0 L270.4,211.2 L271.4,211.4 L272.4,211.7 L273.4,211.9 L274.4,212.2 L275.4,212.5 L276.4,212.8 L277.4,213.2 L278.4,213.5 L279.4,213.9 L280.1,214.2 L280.4,214.3 L281.4,214.8 L282.4,215.2 L283.4,215.7 L284.4,216.1 L285.4,216.6 L286.4,217.1 L287.4,217.5 L288.4,218.0 L289.4,218.4 L290.4,218.9 L291.4,219.3 L292.4,219.6 L293.4,220.0 L294.4,220.3 L295.4,220.7 L296.4,221.0 L297.4,221.3 L298.4,221.6 L299.4,221.9 L300.4,222.2 L301.4,222.5 L302.4,222.9 L303.4,223.2 L304.4,223.5 L305.4,223.8 L306.4,224.1 L306.9,224.3 L307.4,224.4 L308.4,224.7 L309.4,225.0 L310.4,225.4 L311.4,225.7 L312.4,226.0 L313.4,226.4 L314.4,226.7 L315.4,227.1 L316.4,227.4 L317.4,227.8 L318.4,228.1 L319.4,228.5 L320.4,228.9 L321.4,229.2 L322.4,229.6 L323.4,229.9 L323.8,230.1 L324.4,230.3 L325.4,230.7 L326.4,231.0 L327.4,231.4 L328.4,231.8 L329.4,232.2 L330.4,232.6 L331.4,233.0 L332.4,233.4 L333.4,233.8 L334.4,234.2 L335.4,234.6 L336.4,235.0 L337.4,235.4 L338.4,235.9 L339.4,236.3 L340.4,236.8 L340.7,236.9 L341.4,237.2 L342.4,237.7 L343.4,238.2 L344.4,238.6 L345.4,239.1 L346.4,239.6 L347.4,240.0 L348.4,240.5 L349.4,240.9 L350.4,241.4 L351.4,241.8 L352.4,242.2 L353.4,242.7 L354.2,243.0 L354.4,243.1 L355.4,243.5 L356.4,243.9 L357.4,244.2 L358.4,244.6 L359.4,244.9 L360.4,245.3 L361.0,245.4" fill="none" stroke="#000000" stroke-width="1.6" stroke-linejoin="round"/>
<path d="M27.4,53.8 L28.4,55.4 L29.4,56.9 L30.4,58.5 L31.4,60.0 L32.4,61.6 L33.4,63.2 L34.4,64.7 L35.4,66.2 L36.4,67.8 L37.4,69.3 L38.4,70.8 L39.4,72.3 L40.4,73.8 L41.4,75.3 L42.4,76.7 L43.4,78.2 L44.4,79.7 L45.4,81.2 L45.6,81.5 L46.4,82.7 L47.4,84.1 L48.4,85.6 L49.4,87.0 L50.4,88.3 L51.4,89.6 L52.1,90.5 L52.4,90.9 L53.4,92.1 L54.4,93.2 L55.4,94.4 L56.4,95.4 L57.4,96.5 L58.4,97.5 L59.4,98.5 L60.4,99.6 L61.4,100.6 L62.4,101.7 L62.5,101.8 L63.4,102.7 L64.4,103.8 L65.4,105.0 L66.4,106.1 L67.4,107.2 L68.4,108.4 L69.4,109.6 L70.4,110.7 L71.4,111.9 L72.4,113.0 L73.4,114.2 L74.4,115.3 L75.4,116.5 L76.1,117.3 L76.4,117.6 L77.4,118.8 L78.4,120.0 L79.4,121.2 L80.4,122.5 L81.4,123.7 L82.4,125.0 L83.4,126.3 L84.4,127.5 L85.4,128.8 L86.4,130.0 L87.4,131.2 L88.4,132.3 L89.4,133.4 L90.4,134.5 L91.4,135.5 L91.8,135.9 L92.4,136.4 L93.4,137.3 L94.4,138.2 L95.4,139.0 L96.4,139.8 L97.4,140.6 L98.4,141.3 L99.4,142.0 L100.0,142.4 L100.4,142.7 L101.4,143.4 L102.4,144.1 L103.4,144.8 L104.4,145.5 L105.4,146.1 L106.4,146.8 L107.4,147.5 L108.4,148.1 L109.4,148.8 L110.4,149.5 L111.3,150.1 L111.4,150.2 L112.4,150.9 L113.4,151.6 L114.4,152.3 L115.4,153.0 L116.4,153.7 L117.4,154.5 L118.4,155.2 L119.4,155.9 L120.4,156.6 L121.4,157.4 L122.4,158.0 L122.5,158.1 L123.4,158.7 L124.4,159.4 L125.4,160.0 L126.4,160.7 L127.4,161.3 L128.4,161.9 L129.4,162.5 L130.4,163.0 L131.4,163.6 L132.4,164.1 L133.4,164.7 L133.8,164.9 L134.4,165.2 L135.4,165.8 L136.4,166.3 L137.4,166.8 L138.4,167.3 L139.4,167.8 L140.4,168.3 L141.4,168.9 L142.4,169.4 L143.4,169.9 L144.4,170.4 L145.1,170.7 L145.4,170.9 L146.4,171.4 L147.4,171.9 L148.4,172.4 L149.4,172.9 L150.4,173.4 L151.4,174.0 L152.4,174.5 L153.4,175.1 L154.4,175.6 L155.4,176.2 L156.3,176.7 L156.4,176.7 L157.4,177.3 L158.4,177.8 L159.4,178.3 L160.4,178.9 L161.4,179.4 L162.4,179.9 L163.4,180.4 L164.4,180.9 L165.4,181.3 L166.4,181.8 L167.4,182.3 L167.6,182.4 L168.4,182.8 L169.4,183.2 L170.4,183.7 L171.4,184.2 L172.4,184.6 L173.4,185.1 L174.4,185.6 L175.4,186.0 L176.4,186.5 L177.4,187.0 L178.4,187.5 L178.9,187.7 L179.4,187.9 L180.4,188.4 L181.4,188.9 L182.4,189.4 L183.4,189.8 L184.4,190.3 L185.4,190.8 L186.4,191.2 L187.4,191.7 L188.4,192.1 L189.4,192.5 L190.1,192.8 L190.4,192.9 L191.4,193.3 L192.4,193.7 L193.4,194.1 L194.4,194.4 L195.4,194.8 L196.4,195.0 L197.4,195.2 L198.4,195.4 L199.0,195.6 L199.4,195.8 L200.4,197.3 L201.4,199.2 L202.4,200.5 L203.4,201.2 L204.4,201.9 L205.4,202.4 L206.4,202.9 L207.4,203.3 L208.4,203.7 L209.4,204.0 L210.4,204.3 L211.4,204.6 L212.4,204.9 L212.5,205.0 L213.4,205.2 L214.4,205.5 L215.4,205.8 L216.4,206.0 L217.4,206.3 L218.4,206.5 L219.4,206.7 L220.4,207.0 L221.4,207.2 L222.4,207.4 L223.4,207.7 L223.8,207.7 L224.4,207.9 L225.4,208.1 L226.4,208.3 L227.4,208.5 L228.4,208.7 L229.4,208.9 L230.4,209.1 L231.4,209.3 L232.4,209.5 L233.4,209.7 L234.4,209.9 L235.1,210.0 L235.4,210.1 L236.4,210.4 L237.4,210.6 L238.4,210.9 L239.4,211.1 L240.4,211.4 L241.4,211.7 L242.4,212.0 L243.4,212.3 L244.4,212.6 L245.4,212.9 L246.3,213.1 L246.4,213.1 L247.4,213.4 L248.4,213.7 L249.4,214.0 L250.4,214.3 L251.4,214.6 L252.4,214.9 L253.4,215.2 L254.4,215.5 L255.4,215.8 L256.4,216.1 L257.4,216.3 L257.6,216.4 L258.4,216.6 L259.4,216.8 L260.4,217.1 L261.4,217.3 L262.4,217.5 L263.4,217.8 L264.4,218.0 L265.4,218.2 L266.4,218.4 L267.4,218.7 L268.4,218.9 L268.9,219.0 L269.4,219.2 L270.4,219.4 L271.4,219.7 L272.4,220.0 L273.4,220.3 L274.4,220.5 L275.4,220.8 L276.4,221.1 L277.4,221.4 L278.4,221.7 L279.4,222.1 L280.1,222.3 L280.4,222.4 L281.4,222.7 L282.4,223.0 L283.4,223.4 L284.4,223.7 L285.4,224.0 L286.4,224.4 L287.4,224.7 L288.4,225.0 L289.4,225.4 L290.4,225.7 L291.4,226.0 L292.4,226.2 L293.4,226.5 L294.4,226.8 L295.4,227.0 L296.4,227.3 L297.4,227.5 L298.4,227.8 L299.4,228.0 L300.4,228.2 L301.4,228.5 L302.4,228.7 L303.4,229.0 L304.4,229.2 L305.4,229.5 L306.4,229.8 L306.9,229.9 L307.4,230.1 L308.4,230.4 L309.4,230.7 L310.4,231.0 L311.4,231.4 L312.4,231.7 L313.4,232.0 L314.4,232.4 L315.4,232.8 L316.4,233.1 L317.4,233.5 L318.4,233.9 L319.4,234.2 L320.4,234.6 L321.4,235.0 L322.4,235.3 L323.4,235.7 L323.8,235.8 L324.4,236.1 L325.4,236.4 L326.4,236.8 L327.4,237.1 L328.4,237.5 L329.4,237.9 L330.4,238.2 L331.4,238.6 L332.4,239.0 L333.4,239.3 L334.4,239.7 L335.4,240.1 L336.4,240.5 L337.4,240.8 L338.4,241.2 L339.4,241.6 L340.4,242.0 L340.7,242.1 L341.4,242.4 L342.4,242.8 L343.4,243.2 L344.4,243.6 L345.4,244.0 L346.4,244.4 L347.4,244.9 L348.4,245.3 L349.4,245.6 L350.4,246.0 L351.4,246.3 L352.4,246.6 L353.4,246.9 L354.2,247.1 L354.4,247.1 L355.4,247.3 L356.4,247.5 L357.4,247.7 L358.4,247.8 L359.4,248.0 L360.4,248.1 L361.0,248.1" fill="none" stroke="#12350F" stroke-width="1.5" stroke-dasharray="1.4 2.8" stroke-linejoin="round"/>
<path d="M27.4,58.4 L28.4,59.9 L29.4,61.4 L30.4,62.9 L31.4,64.4 L32.4,65.9 L33.4,67.4 L34.4,68.9 L35.4,70.4 L36.4,71.9 L37.4,73.4 L38.4,74.8 L39.4,76.3 L40.4,77.7 L41.4,79.2 L42.4,80.6 L43.4,82.1 L44.4,83.5 L45.4,84.9 L45.6,85.2 L46.4,86.3 L47.4,87.7 L48.4,89.1 L49.4,90.4 L50.4,91.7 L51.4,93.0 L52.1,93.8 L52.4,94.2 L53.4,95.4 L54.4,96.5 L55.4,97.7 L56.4,98.8 L57.4,99.8 L58.4,100.9 L59.4,101.9 L60.4,103.0 L61.4,104.0 L62.4,105.1 L62.5,105.2 L63.4,106.2 L64.4,107.3 L65.4,108.4 L66.4,109.5 L67.4,110.6 L68.4,111.8 L69.4,112.9 L70.4,114.1 L71.4,115.2 L72.4,116.4 L73.4,117.5 L74.4,118.7 L75.4,119.8 L76.1,120.6 L76.4,121.0 L77.4,122.2 L78.4,123.4 L79.4,124.6 L80.4,125.8 L81.4,127.0 L82.4,128.3 L83.4,129.5 L84.4,130.7 L85.4,131.9 L86.4,133.1 L87.4,134.2 L88.4,135.3 L89.4,136.4 L90.4,137.5 L91.4,138.4 L91.8,138.8 L92.4,139.4 L93.4,140.3 L94.4,141.2 L95.4,142.0 L96.4,142.8 L97.4,143.6 L98.4,144.3 L99.4,145.0 L100.0,145.5 L100.4,145.8 L101.4,146.5 L102.4,147.1 L103.4,147.8 L104.4,148.5 L105.4,149.2 L106.4,149.9 L107.4,150.5 L108.4,151.2 L109.4,151.9 L110.4,152.6 L111.3,153.2 L111.4,153.2 L112.4,153.9 L113.4,154.6 L114.4,155.3 L115.4,156.0 L116.4,156.8 L117.4,157.5 L118.4,158.2 L119.4,158.9 L120.4,159.6 L121.4,160.3 L122.4,161.0 L122.5,161.0 L123.4,161.6 L124.4,162.3 L125.4,162.9 L126.4,163.6 L127.4,164.2 L128.4,164.8 L129.4,165.4 L130.4,165.9 L131.4,166.5 L132.4,167.1 L133.4,167.6 L133.8,167.8 L134.4,168.1 L135.4,168.7 L136.4,169.2 L137.4,169.7 L138.4,170.2 L139.4,170.8 L140.4,171.3 L141.4,171.8 L142.4,172.3 L143.4,172.8 L144.4,173.3 L145.1,173.6 L145.4,173.8 L146.4,174.3 L147.4,174.8 L148.4,175.3 L149.4,175.8 L150.4,176.4 L151.4,176.9 L152.4,177.4 L153.4,178.0 L154.4,178.5 L155.4,179.1 L156.3,179.6 L156.4,179.6 L157.4,180.1 L158.4,180.7 L159.4,181.2 L160.4,181.7 L161.4,182.2 L162.4,182.7 L163.4,183.2 L164.4,183.7 L165.4,184.2 L166.4,184.7 L167.4,185.1 L167.6,185.2 L168.4,185.6 L169.4,186.1 L170.4,186.5 L171.4,187.0 L172.4,187.5 L173.4,187.9 L174.4,188.4 L175.4,188.9 L176.4,189.3 L177.4,189.8 L178.4,190.3 L178.9,190.5 L179.4,190.8 L180.4,191.2 L181.4,191.7 L182.4,192.2 L183.4,192.6 L184.4,193.1 L185.4,193.5 L186.4,194.0 L187.4,194.4 L188.4,194.9 L189.4,195.3 L190.1,195.5 L190.4,195.7 L191.4,196.1 L192.4,196.5 L193.4,196.8 L194.4,197.2 L195.4,197.6 L196.4,197.9 L197.4,198.0 L198.4,198.2 L199.0,198.4 L199.4,198.6 L200.4,200.1 L201.4,202.0 L202.4,203.3 L203.4,204.1 L204.4,204.7 L205.4,205.3 L206.4,205.7 L207.4,206.1 L208.4,206.5 L209.4,206.8 L210.4,207.2 L211.4,207.5 L212.4,207.8 L212.5,207.8 L213.4,208.1 L214.4,208.4 L215.4,208.7 L216.4,208.9 L217.4,209.2 L218.4,209.5 L219.4,209.7 L220.4,210.0 L221.4,210.2 L222.4,210.5 L223.4,210.7 L223.8,210.8 L224.4,210.9 L225.4,211.1 L226.4,211.3 L227.4,211.6 L228.4,211.8 L229.4,212.0 L230.4,212.2 L231.4,212.4 L232.4,212.6 L233.4,212.8 L234.4,213.0 L235.1,213.2 L235.4,213.3 L236.4,213.5 L237.4,213.7 L238.4,214.0 L239.4,214.3 L240.4,214.5 L241.4,214.8 L242.4,215.1 L243.4,215.4 L244.4,215.7 L245.4,215.9 L246.3,216.2 L246.4,216.2 L247.4,216.5 L248.4,216.8 L249.4,217.1 L250.4,217.4 L251.4,217.7 L252.4,218.0 L253.4,218.3 L254.4,218.6 L255.4,218.8 L256.4,219.1 L257.4,219.4 L257.6,219.4 L258.4,219.6 L259.4,219.9 L260.4,220.1 L261.4,220.3 L262.4,220.6 L263.4,220.8 L264.4,221.0 L265.4,221.2 L266.4,221.5 L267.4,221.7 L268.4,222.0 L268.9,222.1 L269.4,222.2 L270.4,222.5 L271.4,222.7 L272.4,223.0 L273.4,223.3 L274.4,223.5 L275.4,223.8 L276.4,224.1 L277.4,224.4 L278.4,224.7 L279.4,225.0 L280.1,225.2 L280.4,225.3 L281.4,225.7 L282.4,226.0 L283.4,226.3 L284.4,226.6 L285.4,226.9 L286.4,227.3 L287.4,227.6 L288.4,227.9 L289.4,228.2 L290.4,228.5 L291.4,228.8 L292.4,229.1 L293.4,229.3 L294.4,229.6 L295.4,229.8 L296.4,230.1 L297.4,230.3 L298.4,230.6 L299.4,230.8 L300.4,231.1 L301.4,231.3 L302.4,231.5 L303.4,231.8 L304.4,232.0 L305.4,232.3 L306.4,232.6 L306.9,232.7 L307.4,232.8 L308.4,233.1 L309.4,233.4 L310.4,233.7 L311.4,234.0 L312.4,234.4 L313.4,234.7 L314.4,235.0 L315.4,235.4 L316.4,235.7 L317.4,236.0 L318.4,236.4 L319.4,236.7 L320.4,237.1 L321.4,237.4 L322.4,237.8 L323.4,238.1 L323.8,238.2 L324.4,238.4 L325.4,238.8 L326.4,239.1 L327.4,239.5 L328.4,239.8 L329.4,240.1 L330.4,240.5 L331.4,240.8 L332.4,241.2 L333.4,241.5 L334.4,241.9 L335.4,242.2 L336.4,242.6 L337.4,242.9 L338.4,243.3 L339.4,243.6 L340.4,244.0 L340.7,244.1 L341.4,244.4 L342.4,244.7 L343.4,245.1 L344.4,245.5 L345.4,245.9 L346.4,246.2 L347.4,246.6 L348.4,246.9 L349.4,247.3 L350.4,247.6 L351.4,247.8 L352.4,248.1 L353.4,248.3 L354.2,248.5 L354.4,248.6 L355.4,248.7 L356.4,248.9 L357.4,249.0 L358.4,249.2 L359.4,249.3 L360.4,249.3 L361.0,249.4" fill="none" stroke="#5A3208" stroke-width="1.5" stroke-dasharray="4.8 6" stroke-linejoin="round"/>
<path d="M27.4,64.6 L28.4,66.3 L29.4,68.0 L30.4,69.7 L31.4,71.3 L32.4,73.0 L33.4,74.7 L34.4,76.3 L35.4,77.9 L36.4,79.5 L37.4,81.0 L38.4,82.5 L39.4,84.0 L40.0,84.8 L40.4,85.4 L41.4,86.8 L42.4,88.1 L43.4,89.4 L43.6,89.7 L44.4,90.7 L45.4,91.9 L46.4,93.0 L47.4,94.2 L48.4,95.4 L49.4,96.6 L50.4,97.8 L51.4,99.0 L52.4,100.3 L53.4,101.6 L53.5,101.8 L54.4,103.0 L55.4,104.3 L56.4,105.7 L57.4,107.0 L58.4,108.4 L59.4,109.7 L60.4,111.0 L61.4,112.3 L62.4,113.7 L63.4,115.0 L64.4,116.2 L65.4,117.5 L66.4,118.7 L67.0,119.5 L67.4,120.0 L68.4,121.2 L69.4,122.4 L70.4,123.5 L71.4,124.7 L72.4,125.8 L73.4,127.0 L74.4,128.1 L75.4,129.2 L76.4,130.3 L77.4,131.3 L78.4,132.4 L79.4,133.5 L80.4,134.5 L81.4,135.6 L82.4,136.6 L82.8,137.0 L83.4,137.6 L84.4,138.6 L85.4,139.6 L86.4,140.6 L87.4,141.6 L88.4,142.6 L89.4,143.5 L90.4,144.4 L91.4,145.3 L92.4,146.2 L93.4,147.1 L94.4,148.0 L95.4,148.8 L96.4,149.7 L97.4,150.5 L98.4,151.3 L98.6,151.5 L99.4,152.1 L100.4,152.9 L101.4,153.7 L102.4,154.5 L103.4,155.2 L104.4,156.0 L105.4,156.7 L106.4,157.5 L107.4,158.2 L108.4,159.0 L109.4,159.7 L110.4,160.5 L111.3,161.1 L111.4,161.2 L112.4,162.0 L113.4,162.7 L114.4,163.4 L115.4,164.1 L116.4,164.7 L117.4,165.4 L118.4,166.0 L119.4,166.7 L120.4,167.3 L121.4,167.9 L122.4,168.5 L122.5,168.6 L123.4,169.1 L124.4,169.7 L125.4,170.3 L126.4,170.9 L127.4,171.5 L128.4,172.0 L129.4,172.6 L130.4,173.1 L131.4,173.6 L132.4,174.1 L133.4,174.6 L133.8,174.8 L134.4,175.1 L135.4,175.6 L136.4,176.1 L137.4,176.5 L138.4,177.0 L139.4,177.4 L140.4,177.9 L141.4,178.3 L142.4,178.7 L143.4,179.2 L144.4,179.6 L145.1,179.9 L145.4,180.0 L146.4,180.4 L147.4,180.9 L148.4,181.3 L149.4,181.7 L150.4,182.2 L151.4,182.7 L152.4,183.1 L153.4,183.6 L154.4,184.1 L155.4,184.6 L156.3,185.0 L156.4,185.1 L157.4,185.6 L158.4,186.1 L159.4,186.6 L160.4,187.1 L161.4,187.6 L162.4,188.1 L163.4,188.6 L164.4,189.1 L165.4,189.6 L166.4,190.1 L167.4,190.6 L167.6,190.7 L168.4,191.1 L169.4,191.6 L170.4,192.1 L171.4,192.6 L172.4,193.1 L173.4,193.5 L174.4,194.0 L175.4,194.4 L176.4,194.9 L177.4,195.3 L178.4,195.7 L178.9,196.0 L179.4,196.2 L180.4,196.6 L181.4,197.0 L182.4,197.4 L183.4,197.8 L184.4,198.2 L185.4,198.6 L186.4,199.0 L187.4,199.4 L188.4,199.8 L189.4,200.2 L190.1,200.4 L190.4,200.5 L191.4,200.9 L192.4,201.2 L193.4,201.5 L194.4,201.8 L195.4,202.2 L196.4,202.4 L197.4,202.4 L198.4,202.6 L199.0,202.7 L199.4,203.0 L200.4,204.5 L201.4,206.5 L202.4,207.8 L203.4,208.6 L204.4,209.2 L205.4,209.7 L206.4,210.2 L207.4,210.5 L208.4,210.9 L209.4,211.3 L210.4,211.6 L211.4,212.0 L212.4,212.3 L212.5,212.4 L213.4,212.7 L214.4,213.0 L215.4,213.3 L216.4,213.7 L217.4,214.0 L218.4,214.3 L219.4,214.6 L220.4,214.8 L221.4,215.1 L222.4,215.3 L223.4,215.6 L223.8,215.6 L224.4,215.8 L225.4,215.9 L226.4,216.1 L227.4,216.3 L228.4,216.4 L229.4,216.6 L230.4,216.7 L231.4,216.9 L232.4,217.0 L233.4,217.2 L234.4,217.4 L235.1,217.5 L235.4,217.6 L236.4,217.8 L237.4,218.0 L238.4,218.2 L239.4,218.5 L240.4,218.8 L241.4,219.0 L242.4,219.3 L243.4,219.6 L244.4,219.9 L245.4,220.1 L246.3,220.4 L246.4,220.4 L247.4,220.7 L248.4,221.0 L249.4,221.2 L250.4,221.5 L251.4,221.8 L252.4,222.0 L253.4,222.3 L254.4,222.5 L255.4,222.8 L256.4,223.0 L257.4,223.3 L257.6,223.3 L258.4,223.5 L259.4,223.7 L260.4,223.9 L261.4,224.1 L262.4,224.4 L263.4,224.6 L264.4,224.8 L265.4,225.0 L266.4,225.2 L267.4,225.4 L268.4,225.6 L268.9,225.7 L269.4,225.9 L270.4,226.1 L271.4,226.3 L272.4,226.6 L273.4,226.8 L274.4,227.1 L275.4,227.4 L276.4,227.6 L277.4,227.9 L278.4,228.2 L279.4,228.5 L280.1,228.7 L280.4,228.8 L281.4,229.1 L282.4,229.3 L283.4,229.6 L284.4,229.9 L285.4,230.2 L286.4,230.6 L287.4,230.9 L288.4,231.2 L289.4,231.5 L290.4,231.8 L291.4,232.1 L292.4,232.4 L293.4,232.7 L294.4,233.0 L295.4,233.3 L296.4,233.7 L297.4,234.0 L298.4,234.3 L299.4,234.6 L300.4,234.9 L301.4,235.2 L302.4,235.5 L303.4,235.8 L304.4,236.1 L305.4,236.4 L306.4,236.7 L306.9,236.9 L307.4,237.1 L308.4,237.4 L309.4,237.7 L310.4,238.0 L311.4,238.3 L312.4,238.6 L313.4,238.9 L314.4,239.3 L315.4,239.6 L316.4,239.9 L317.4,240.2 L318.4,240.5 L319.4,240.8 L320.4,241.1 L321.4,241.4 L322.4,241.7 L323.4,242.0 L323.8,242.1 L324.4,242.2 L325.4,242.5 L326.4,242.8 L327.4,243.1 L328.4,243.3 L329.4,243.6 L330.4,243.8 L331.4,244.1 L332.4,244.3 L333.4,244.6 L334.4,244.8 L335.4,245.1 L336.4,245.3 L337.4,245.6 L338.4,245.8 L339.4,246.1 L340.4,246.3 L340.7,246.4 L341.4,246.6 L342.4,246.8 L343.4,247.0 L344.4,247.3 L345.4,247.5 L346.4,247.8 L347.4,248.0 L348.4,248.2 L349.4,248.5 L350.4,248.7 L351.4,248.9 L352.4,249.1 L353.4,249.3 L354.2,249.4 L354.4,249.4 L355.4,249.6 L356.4,249.8 L357.4,249.9 L358.4,250.1 L359.4,250.2 L360.4,250.3 L361.0,250.4" fill="none" stroke="#0A1C33" stroke-width="1.6" stroke-dasharray="12.5 1.6" stroke-linejoin="round"/>
<path d="M21.5,29.9 L21.5,257.7 L367.3,257.7" fill="none" stroke="#4E5358" stroke-width="1.15"/>
<line x1="17.3" y1="252.0" x2="21.2" y2="252.0" stroke="#222" stroke-width="0.9"/>
<text x="15.5" y="255.8" font-size="10.2" text-anchor="end" fill="#111">0</text>
<line x1="17.3" y1="180.9" x2="21.2" y2="180.9" stroke="#222" stroke-width="0.9"/>
<text x="15.5" y="184.70000000000002" font-size="10.2" text-anchor="end" fill="#111">5</text>
<line x1="17.3" y1="109.8" x2="21.2" y2="109.8" stroke="#222" stroke-width="0.9"/>
<text x="15.5" y="113.6" font-size="10.2" text-anchor="end" fill="#111">10</text>
<line x1="17.3" y1="38.7" x2="21.2" y2="38.7" stroke="#222" stroke-width="0.9"/>
<text x="15.5" y="42.5" font-size="10.2" text-anchor="end" fill="#111">15</text>
<line x1="61.5" y1="258.0" x2="61.5" y2="261.9" stroke="#222" stroke-width="0.9"/>
<text x="61.5" y="273.2" font-size="10.1" text-anchor="middle" fill="#111">3,500</text>
<line x1="149.4" y1="258.0" x2="149.4" y2="261.9" stroke="#222" stroke-width="0.9"/>
<text x="149.4" y="273.2" font-size="10.1" text-anchor="middle" fill="#111">8,000</text>
<line x1="238.3" y1="258.0" x2="238.3" y2="261.9" stroke="#222" stroke-width="0.9"/>
<text x="238.3" y="273.2" font-size="10.1" text-anchor="middle" fill="#111">18,500</text>
<line x1="327.3" y1="258.0" x2="327.3" y2="261.9" stroke="#222" stroke-width="0.9"/>
<text x="327.3" y="273.2" font-size="10.1" text-anchor="middle" fill="#111">43,000</text>
<text x="133.3" y="288" font-size="10.3" textLength="117.3" lengthAdjust="spacingAndGlyphs" fill="#111">GDP per captia, log scale</text>
<line x1="407.2" y1="249.4" x2="766.2" y2="249.4" stroke="#DFEFEC" stroke-width="1.1"/>
<line x1="407.2" y1="185.8" x2="766.2" y2="185.8" stroke="#DFEFEC" stroke-width="1.1"/>
<line x1="407.2" y1="122.3" x2="766.2" y2="122.3" stroke="#DFEFEC" stroke-width="1.1"/>
<line x1="407.2" y1="58.7" x2="766.2" y2="58.7" stroke="#DFEFEC" stroke-width="1.1"/>
<path d="M412.6,246.2 L413.6,245.3 L414.6,244.3 L415.6,243.4 L416.6,242.4 L417.6,241.5 L418.6,240.6 L419.6,239.8 L420.6,239.0 L421.6,238.2 L422.6,237.4 L423.6,236.8 L424.6,236.1 L425.6,235.5 L426.6,234.8 L427.6,234.1 L428.6,233.4 L429.6,232.7 L430.6,232.0 L431.6,231.3 L432.6,230.6 L433.6,229.8 L434.6,229.1 L435.6,228.4 L436.6,227.6 L437.6,226.9 L438.6,226.2 L439.6,225.5 L440.6,224.8 L441.6,224.2 L442.3,223.7 L442.6,223.5 L443.6,222.9 L444.6,222.2 L445.6,221.6 L446.6,220.9 L447.6,220.3 L448.6,219.5 L449.6,218.8 L450.6,218.1 L451.6,217.4 L452.6,216.7 L453.6,216.0 L454.6,215.3 L455.6,214.6 L456.6,213.9 L457.6,213.3 L458.6,212.6 L459.6,211.9 L460.4,211.4 L460.6,211.3 L461.6,210.6 L462.6,210.0 L463.6,209.3 L464.6,208.7 L465.6,208.0 L466.6,207.4 L467.6,206.7 L468.6,206.1 L469.6,205.5 L470.6,204.9 L471.6,204.3 L472.6,203.7 L473.6,203.1 L474.6,202.5 L475.6,201.9 L476.1,201.6 L476.6,201.3 L477.6,200.6 L478.6,200.0 L479.6,199.4 L480.6,198.8 L481.6,198.2 L482.6,197.6 L483.6,197.0 L484.6,196.4 L485.6,195.8 L486.6,195.3 L487.6,194.7 L488.6,194.1 L489.6,193.6 L490.6,193.0 L491.6,192.5 L492.6,191.9 L493.6,191.4 L494.2,191.1 L494.6,190.9 L495.6,190.3 L496.6,189.8 L497.6,189.3 L498.6,188.8 L499.6,188.2 L500.0,188.0 L500.6,187.6 L501.6,187.0 L502.6,186.3 L503.6,185.6 L504.6,184.9 L505.6,184.2 L506.6,183.5 L507.6,182.9 L508.6,182.2 L509.6,181.5 L510.6,180.9 L511.3,180.4 L511.6,180.2 L512.6,179.6 L513.6,178.9 L514.6,178.2 L515.6,177.6 L516.6,176.9 L517.6,176.2 L518.6,175.6 L519.6,174.9 L520.6,174.2 L521.6,173.6 L522.5,173.0 L522.6,172.9 L523.6,172.3 L524.6,171.6 L525.6,171.0 L526.6,170.3 L527.6,169.6 L528.6,169.0 L529.6,168.3 L530.6,167.7 L531.6,167.1 L532.6,166.4 L533.6,165.8 L533.8,165.7 L534.6,165.2 L535.6,164.6 L536.6,164.1 L537.6,163.5 L538.6,162.9 L539.6,162.4 L540.6,161.8 L541.6,161.3 L542.6,160.7 L543.6,160.2 L544.6,159.7 L545.1,159.4 L545.6,159.1 L546.6,158.6 L547.6,158.1 L548.6,157.5 L549.6,157.0 L550.6,156.5 L551.6,156.0 L552.6,155.5 L553.6,155.0 L554.6,154.5 L555.6,154.1 L556.3,153.8 L556.6,153.7 L557.6,153.3 L558.6,152.9 L559.6,152.5 L560.6,152.1 L561.6,151.7 L562.6,151.4 L563.6,151.0 L564.6,150.7 L565.6,150.4 L566.6,150.0 L567.6,149.7 L568.6,149.4 L569.6,149.1 L570.6,148.8 L571.6,148.5 L572.6,148.2 L573.6,147.9 L574.6,147.6 L575.6,147.4 L576.6,147.1 L577.6,146.8 L578.6,146.5 L578.9,146.4 L579.6,146.2 L580.6,145.9 L581.6,145.6 L582.6,145.3 L583.6,145.0 L584.6,144.7 L585.6,144.4 L586.6,144.0 L587.6,143.7 L588.6,143.4 L589.6,143.1 L590.1,143.0 L590.6,142.9 L591.6,142.6 L592.6,142.3 L593.6,142.0 L594.6,141.7 L595.6,141.4 L596.6,141.1 L597.6,140.8 L598.6,140.5 L599.6,140.3 L600.6,140.0 L601.4,139.8 L601.6,139.7 L602.6,139.5 L603.6,139.3 L604.6,139.0 L605.6,138.8 L606.6,138.6 L607.6,138.4 L608.6,138.1 L609.6,137.9 L610.6,137.7 L611.6,137.4 L612.6,137.1 L612.7,137.1 L613.6,136.8 L614.6,136.5 L615.6,136.1 L616.6,135.7 L617.6,135.3 L618.6,135.0 L619.6,134.6 L620.0,134.5 L620.6,134.3 L621.6,134.1 L622.6,133.8 L623.6,133.6 L624.6,133.4 L625.6,133.2 L626.6,132.9 L627.6,132.7 L628.6,132.4 L629.0,132.3 L629.6,132.1 L630.6,131.7 L631.6,131.3 L632.6,130.9 L633.6,130.4 L634.6,129.9 L635.6,129.5 L636.6,129.0 L637.6,128.6 L638.0,128.5 L638.6,128.3 L639.6,128.0 L640.6,127.8 L641.6,127.7 L642.6,127.5 L643.6,127.2 L644.6,126.9 L645.6,126.5 L646.6,125.9 L646.8,125.8 L647.6,123.7 L648.4,120.8 L648.6,120.3 L649.6,118.1 L650.6,116.2 L651.6,114.4 L652.6,112.4 L652.7,112.2 L653.6,110.1 L654.6,107.6 L655.6,105.2 L656.6,102.9 L656.9,102.3 L657.6,101.0 L658.6,99.2 L659.6,97.6 L660.6,96.1 L661.1,95.3 L661.6,94.5 L662.6,93.0 L663.6,91.5 L664.6,90.2 L665.3,89.4 L665.6,89.1 L666.6,88.0 L667.6,87.3 L667.9,87.3 L668.6,87.4 L669.6,87.6 L670.6,87.7 L671.3,87.8 L671.6,87.8 L672.6,87.7 L673.6,87.5 L674.6,87.2 L675.6,87.0 L676.3,86.9 L676.6,86.9 L677.6,86.8 L678.6,86.7 L679.6,86.6 L680.5,86.4 L680.6,86.4 L681.6,85.8 L682.6,84.7 L683.6,83.4 L684.6,82.0 L684.8,81.8 L685.6,80.8 L686.6,79.5 L687.6,78.1 L688.6,76.7 L689.6,75.1 L690.6,73.5 L690.7,73.3 L691.6,71.6 L692.1,70.6 L692.6,69.6 L693.6,67.7 L694.6,65.8 L695.6,63.9 L696.6,62.2 L696.8,61.9 L697.6,60.8 L698.6,59.6 L699.6,58.4 L700.6,57.0 L701.3,55.7 L701.6,54.9 L702.4,52.6 L702.6,52.2 L703.6,50.6 L704.6,49.3 L705.6,48.2 L706.6,47.4 L706.9,47.2 L707.6,46.9 L708.6,46.5 L709.6,46.2 L710.6,45.9 L711.4,45.5 L711.6,45.4 L712.6,44.7 L713.6,43.8 L714.2,43.3 L714.6,42.9 L715.6,41.9 L716.6,40.9 L717.6,40.1 L718.6,39.5 L719.3,39.3 L719.6,40.0 L720.2,43.3 L720.6,45.1 L721.3,48.9 L721.6,51.8 L722.1,56.8 L722.6,59.3 L723.3,61.3 L723.6,61.6 L724.6,62.4 L724.9,62.4 L725.6,62.1 L726.6,61.3 L727.2,61.1 L727.6,61.1 L728.6,61.5 L729.6,62.1 L730.0,62.4 L730.6,62.9 L731.6,64.1 L732.6,65.6 L733.4,66.9 L733.6,67.2 L734.6,69.0 L735.6,70.9 L736.2,72.0 L736.6,72.7 L737.6,74.5 L738.6,76.8 L739.6,79.5 L740.6,82.3 L741.6,85.2 L741.7,85.5 L742.6,88.2 L743.6,91.2 L744.5,94.0 L744.6,94.3 L745.6,97.4 L746.6,100.4 L747.3,102.4 L747.6,103.2 L748.6,106.0 L749.6,108.5 L750.0,109.5 L750.6,110.9 L751.6,113.0 L752.6,115.0 L753.0,115.9 L753.6,117.2 L754.6,119.5 L755.6,121.9 L756.6,124.2 L757.5,126.1 L757.6,126.3 L758.6,128.3 L759.6,130.3 L760.0,131.0 L760.0,249.3 L412.6,249.3 Z" fill="#484E52" stroke="none"/>
<path d="M412.6,247.0 L413.6,246.5 L414.6,246.0 L415.6,245.5 L416.6,245.0 L417.6,244.5 L418.6,243.9 L419.6,243.4 L420.6,242.9 L421.6,242.3 L422.6,241.8 L423.6,241.2 L424.6,240.7 L425.6,240.1 L426.6,239.5 L427.6,238.9 L428.6,238.2 L429.6,237.6 L430.6,236.9 L431.6,236.2 L432.6,235.5 L433.6,234.9 L434.6,234.2 L435.6,233.5 L436.6,232.8 L437.6,232.1 L438.6,231.4 L439.6,230.7 L440.6,230.0 L441.6,229.4 L442.3,228.9 L442.6,228.7 L443.6,228.0 L444.6,227.3 L445.6,226.7 L446.6,226.0 L447.6,225.3 L448.6,224.6 L449.6,223.9 L450.6,223.2 L451.6,222.5 L452.6,221.9 L453.6,221.2 L454.6,220.5 L455.6,219.9 L456.6,219.3 L457.6,218.6 L458.6,218.0 L459.6,217.4 L460.4,217.0 L460.6,216.9 L461.6,216.3 L462.6,215.8 L463.6,215.2 L464.6,214.7 L465.6,214.1 L466.6,213.6 L467.6,213.1 L468.6,212.6 L469.6,212.1 L470.6,211.6 L471.6,211.1 L472.6,210.7 L473.6,210.2 L474.6,209.7 L475.6,209.3 L476.1,209.1 L476.6,208.9 L477.6,208.4 L478.6,208.0 L479.6,207.6 L480.6,207.1 L481.6,206.7 L482.6,206.3 L483.6,205.9 L484.6,205.5 L485.6,205.2 L486.6,204.8 L487.6,204.4 L488.6,204.0 L489.6,203.6 L490.6,203.2 L491.6,202.9 L492.6,202.5 L493.6,202.1 L494.2,201.9 L494.6,201.7 L495.6,201.3 L496.6,200.9 L497.6,200.6 L498.6,200.2 L499.6,199.8 L500.0,199.7 L500.6,199.4 L501.6,199.0 L502.6,198.7 L503.6,198.3 L504.6,197.9 L505.6,197.5 L506.6,197.1 L507.6,196.7 L508.6,196.3 L509.6,195.9 L510.6,195.5 L511.3,195.2 L511.6,195.0 L512.6,194.6 L513.6,194.1 L514.6,193.6 L515.6,193.1 L516.6,192.5 L517.6,192.0 L518.6,191.5 L519.6,190.9 L520.6,190.4 L521.6,189.9 L522.5,189.4 L522.6,189.4 L523.6,188.9 L524.6,188.4 L525.6,187.9 L526.6,187.4 L527.6,186.9 L528.6,186.4 L529.6,185.9 L530.6,185.4 L531.6,184.9 L532.6,184.4 L533.6,183.9 L533.8,183.8 L534.6,183.4 L535.6,182.9 L536.6,182.4 L537.6,181.9 L538.6,181.4 L539.6,180.9 L540.6,180.4 L541.6,179.9 L542.6,179.4 L543.6,178.9 L544.6,178.5 L545.1,178.2 L545.6,178.0 L546.6,177.6 L547.6,177.2 L548.6,176.7 L549.6,176.3 L550.6,175.9 L551.6,175.5 L552.6,175.1 L553.6,174.7 L554.6,174.4 L555.6,174.0 L556.3,173.7 L556.6,173.6 L557.6,173.2 L558.6,172.9 L559.6,172.5 L560.6,172.1 L561.6,171.8 L562.6,171.4 L563.6,171.1 L564.6,170.8 L565.6,170.4 L566.6,170.1 L567.6,169.8 L568.6,169.5 L569.6,169.3 L570.6,169.0 L571.6,168.7 L572.6,168.5 L573.6,168.2 L574.6,168.0 L575.6,167.7 L576.6,167.5 L577.6,167.2 L578.6,167.0 L578.9,166.9 L579.6,166.7 L580.6,166.5 L581.6,166.2 L582.6,166.0 L583.6,165.7 L584.6,165.4 L585.6,165.2 L586.6,164.9 L587.6,164.6 L588.6,164.4 L589.6,164.1 L590.1,164.0 L590.6,163.9 L591.6,163.6 L592.6,163.4 L593.6,163.2 L594.6,162.9 L595.6,162.7 L596.6,162.4 L597.6,162.2 L598.6,162.0 L599.6,161.7 L600.6,161.5 L601.4,161.3 L601.6,161.3 L602.6,161.0 L603.6,160.8 L604.6,160.6 L605.6,160.3 L606.6,160.1 L607.6,159.9 L608.6,159.6 L609.6,159.4 L610.6,159.1 L611.6,158.8 L612.6,158.5 L612.7,158.5 L613.6,158.2 L614.6,157.8 L615.6,157.4 L616.6,157.0 L617.6,156.6 L618.6,156.2 L619.6,155.8 L620.0,155.7 L620.6,155.6 L621.6,155.3 L622.6,155.1 L623.6,154.8 L624.6,154.6 L625.6,154.5 L626.6,154.3 L627.6,154.2 L628.6,154.0 L629.6,153.9 L630.6,153.7 L631.6,153.5 L632.6,153.4 L633.5,153.2 L633.6,153.2 L634.6,153.0 L635.6,152.8 L636.6,152.7 L637.6,152.5 L638.6,152.4 L639.6,152.2 L640.6,152.0 L641.6,151.8 L642.6,151.6 L643.6,151.4 L644.6,151.1 L645.6,150.8 L646.6,150.5 L647.0,150.3 L647.6,150.0 L648.6,149.3 L649.6,148.4 L650.6,147.3 L651.6,146.0 L652.6,144.7 L653.6,143.4 L653.8,143.1 L654.6,141.9 L655.6,140.1 L656.6,138.1 L657.6,136.1 L658.6,134.3 L659.4,133.0 L659.6,132.7 L660.6,131.2 L661.6,129.8 L662.6,128.4 L663.6,127.3 L664.6,126.5 L665.1,126.2 L665.6,126.0 L666.6,125.6 L667.6,125.2 L668.6,124.8 L669.6,124.6 L670.6,124.3 L671.6,124.1 L672.6,124.0 L673.6,123.9 L674.1,123.9 L674.6,123.9 L675.6,123.9 L676.6,123.9 L677.6,123.9 L678.6,123.9 L679.6,123.9 L680.6,123.9 L681.6,123.9 L682.6,123.9 L683.1,123.9 L683.6,123.9 L684.6,123.6 L685.6,123.1 L686.6,122.5 L687.6,121.6 L688.6,120.7 L689.6,119.7 L690.6,118.7 L691.6,117.7 L692.1,117.2 L692.6,116.7 L693.6,115.5 L694.6,114.2 L695.6,112.8 L696.6,111.4 L697.6,109.9 L698.6,108.6 L698.9,108.2 L699.6,107.3 L700.6,105.9 L701.6,104.5 L702.6,103.2 L703.6,102.1 L704.5,101.4 L704.6,101.3 L705.6,100.7 L706.6,100.2 L707.6,99.8 L708.6,99.4 L709.6,99.1 L710.6,98.7 L711.6,98.3 L712.4,98.0 L712.6,97.9 L713.6,97.4 L714.6,96.8 L715.6,96.3 L716.6,95.9 L717.6,95.6 L718.0,95.6 L718.6,96.0 L719.6,97.9 L720.3,100.0 L720.6,102.2 L721.4,109.3 L721.6,109.4 L722.6,109.9 L723.6,110.2 L724.6,110.4 L725.6,110.5 L726.6,110.6 L727.6,110.9 L728.2,111.1 L728.6,111.3 L729.6,111.9 L730.6,112.8 L731.6,113.7 L732.6,114.8 L732.7,114.9 L733.6,116.0 L734.6,117.4 L735.6,118.9 L736.6,120.6 L737.2,121.7 L737.6,122.4 L738.6,124.5 L739.6,126.8 L740.6,129.1 L741.6,131.3 L741.7,131.5 L742.6,133.4 L743.6,135.5 L744.6,137.5 L745.6,139.6 L746.6,141.6 L747.6,143.5 L748.5,145.2 L748.6,145.4 L749.6,147.2 L750.6,149.0 L751.6,150.8 L752.6,152.5 L753.6,154.2 L754.6,155.7 L755.2,156.5 L755.6,157.0 L756.6,158.3 L757.6,159.5 L758.6,160.6 L759.6,161.6 L760.0,162.0 L760.0,249.3 L412.6,249.3 Z" fill="#5B905E" stroke="none"/>
<path d="M412.6,247.5 L413.6,247.2 L414.6,246.8 L415.6,246.5 L416.6,246.1 L417.6,245.7 L418.6,245.3 L419.6,244.9 L420.6,244.5 L421.6,244.1 L422.6,243.6 L423.6,243.2 L424.6,242.8 L425.6,242.3 L426.6,241.8 L427.6,241.3 L428.6,240.7 L429.6,240.1 L430.6,239.5 L431.6,238.9 L432.6,238.2 L433.6,237.6 L434.6,236.9 L435.6,236.3 L436.6,235.6 L437.6,235.0 L438.6,234.4 L439.6,233.7 L440.6,233.1 L441.6,232.5 L442.3,232.1 L442.6,231.9 L443.6,231.3 L444.6,230.7 L445.6,230.2 L446.6,229.6 L447.6,229.0 L448.6,228.4 L449.6,227.9 L450.6,227.3 L451.6,226.8 L452.6,226.2 L453.6,225.7 L454.6,225.1 L455.6,224.6 L456.6,224.1 L457.6,223.6 L458.6,223.0 L459.6,222.6 L460.4,222.2 L460.6,222.1 L461.6,221.6 L462.6,221.1 L463.6,220.6 L464.6,220.2 L465.6,219.7 L466.6,219.3 L467.6,218.9 L468.6,218.4 L469.6,218.0 L470.6,217.6 L471.6,217.1 L472.6,216.7 L473.6,216.3 L474.6,215.9 L475.6,215.5 L476.1,215.3 L476.6,215.2 L477.6,214.8 L478.6,214.4 L479.6,214.0 L480.6,213.6 L481.6,213.3 L482.6,212.9 L483.6,212.5 L484.6,212.2 L485.6,211.8 L486.6,211.5 L487.6,211.1 L488.6,210.8 L489.6,210.5 L490.6,210.1 L491.6,209.8 L492.6,209.5 L493.6,209.2 L494.2,209.0 L494.6,208.9 L495.6,208.6 L496.6,208.3 L497.6,208.1 L498.6,207.8 L499.6,207.5 L500.6,207.3 L501.6,207.0 L502.6,206.8 L503.6,206.5 L504.6,206.3 L505.6,206.0 L506.6,205.8 L507.6,205.5 L508.6,205.3 L509.6,205.0 L510.6,204.8 L511.6,204.6 L512.6,204.3 L513.6,204.0 L514.6,203.8 L515.6,203.5 L516.0,203.4 L516.6,203.2 L517.6,203.0 L518.6,202.7 L519.6,202.4 L520.6,202.2 L521.6,201.9 L522.6,201.6 L523.6,201.3 L524.6,201.0 L525.6,200.7 L526.6,200.4 L527.6,200.1 L528.6,199.8 L529.3,199.6 L529.6,199.5 L530.6,199.1 L531.6,198.8 L532.6,198.4 L533.6,198.0 L534.6,197.5 L535.6,197.1 L536.6,196.7 L537.6,196.3 L538.6,195.8 L539.6,195.4 L540.6,195.0 L541.6,194.6 L542.6,194.2 L543.6,193.8 L544.6,193.4 L545.1,193.3 L545.6,193.1 L546.6,192.8 L547.6,192.5 L548.6,192.2 L549.6,191.9 L550.6,191.6 L551.6,191.3 L552.6,191.0 L553.6,190.7 L554.6,190.5 L555.6,190.2 L556.3,190.1 L556.6,190.0 L557.6,189.8 L558.6,189.5 L559.6,189.3 L560.6,189.1 L561.6,188.9 L562.6,188.7 L563.6,188.5 L564.6,188.3 L565.6,188.2 L566.6,188.0 L567.6,187.8 L568.6,187.7 L569.6,187.6 L570.6,187.4 L571.6,187.3 L572.6,187.2 L573.6,187.1 L574.6,187.0 L575.6,186.8 L576.6,186.7 L577.6,186.6 L578.6,186.5 L578.9,186.4 L579.6,186.3 L580.6,186.2 L581.6,186.1 L582.6,185.9 L583.6,185.8 L584.6,185.7 L585.6,185.5 L586.6,185.4 L587.6,185.2 L588.6,185.1 L589.6,184.9 L590.1,184.8 L590.6,184.7 L591.6,184.6 L592.6,184.4 L593.6,184.2 L594.6,184.0 L595.6,183.7 L596.6,183.5 L597.6,183.3 L598.6,183.1 L599.6,182.9 L600.6,182.7 L601.4,182.6 L601.6,182.6 L602.6,182.4 L603.6,182.2 L604.6,182.1 L605.6,181.9 L606.6,181.7 L607.6,181.6 L608.6,181.5 L609.6,181.3 L610.6,181.2 L611.6,181.0 L612.6,180.9 L612.7,180.9 L613.6,180.8 L614.6,180.7 L615.6,180.6 L616.6,180.5 L617.6,180.4 L618.6,180.3 L619.6,180.2 L620.0,180.2 L620.6,180.1 L621.6,180.0 L622.6,179.9 L623.6,179.7 L624.6,179.6 L625.6,179.5 L626.6,179.4 L627.6,179.3 L628.6,179.1 L629.0,179.1 L629.6,179.0 L630.6,178.9 L631.6,178.8 L632.6,178.7 L633.6,178.6 L634.6,178.4 L635.6,178.3 L636.6,178.2 L637.6,178.0 L638.0,178.0 L638.6,177.9 L639.6,177.8 L640.6,177.7 L641.6,177.6 L642.6,177.5 L643.6,177.4 L644.6,177.3 L645.6,177.2 L646.6,177.0 L647.0,176.9 L647.6,176.7 L648.6,176.4 L649.6,175.8 L650.6,175.2 L651.6,174.5 L652.6,173.8 L653.6,173.0 L653.8,172.8 L654.6,172.0 L655.6,170.8 L656.6,169.4 L657.6,168.1 L658.6,166.9 L659.4,166.1 L659.6,165.9 L660.6,165.1 L661.6,164.3 L662.6,163.6 L663.6,163.1 L664.6,162.7 L665.1,162.7 L665.6,162.7 L666.6,162.8 L667.6,162.8 L668.6,162.9 L669.6,163.0 L670.6,163.2 L671.6,163.3 L672.6,163.3 L673.6,163.4 L674.1,163.4 L674.6,163.4 L675.6,163.4 L676.6,163.4 L677.6,163.4 L678.6,163.4 L679.6,163.4 L680.6,163.4 L681.6,163.4 L682.6,163.4 L683.1,163.4 L683.6,163.4 L684.6,163.2 L685.6,162.9 L686.6,162.4 L687.6,161.9 L688.6,161.3 L689.6,160.7 L690.6,160.1 L691.6,159.5 L692.1,159.3 L692.6,159.1 L693.6,158.6 L694.6,158.1 L695.6,157.6 L696.6,157.1 L697.6,156.5 L698.6,156.0 L698.9,155.9 L699.6,155.5 L700.6,155.0 L701.6,154.4 L702.6,153.9 L703.6,153.5 L704.5,153.2 L704.6,153.2 L705.6,153.0 L706.6,152.8 L707.6,152.7 L708.6,152.5 L709.6,152.4 L710.6,152.3 L711.6,152.2 L712.4,152.1 L712.6,152.1 L713.6,151.9 L714.6,151.8 L715.6,151.6 L716.6,151.5 L717.6,151.4 L718.0,151.4 L718.6,151.9 L719.6,154.2 L720.3,155.9 L720.6,156.7 L721.6,159.7 L722.5,161.5 L722.6,161.6 L723.6,162.1 L724.6,162.4 L725.6,162.7 L726.6,162.9 L727.6,163.2 L728.2,163.4 L728.6,163.6 L729.6,164.1 L730.6,164.7 L731.6,165.3 L732.6,166.0 L732.7,166.1 L733.6,166.8 L734.6,167.8 L735.6,168.8 L736.6,169.9 L737.2,170.6 L737.6,171.1 L738.6,172.2 L739.6,173.5 L740.6,174.8 L741.6,176.1 L741.7,176.2 L742.6,177.4 L743.6,178.9 L744.6,180.5 L745.6,182.0 L746.6,183.5 L747.6,184.9 L748.6,186.2 L749.6,187.2 L750.6,188.1 L751.6,189.0 L752.6,189.9 L753.6,190.7 L754.6,191.5 L755.6,192.2 L756.6,192.8 L757.6,193.3 L758.6,193.8 L759.6,194.2 L760.0,194.3 L760.0,249.3 L412.6,249.3 Z" fill="#F2953D" stroke="none"/>
<path d="M412.6,248.0 L413.6,247.8 L414.6,247.5 L415.6,247.2 L416.6,246.9 L417.6,246.7 L418.6,246.4 L419.6,246.1 L420.6,245.7 L421.6,245.4 L422.6,245.1 L423.6,244.7 L424.6,244.4 L425.6,244.0 L426.6,243.6 L427.6,243.1 L428.6,242.7 L429.6,242.2 L430.6,241.7 L431.6,241.1 L432.6,240.6 L433.6,240.0 L434.6,239.5 L435.6,238.9 L436.6,238.4 L437.6,237.8 L438.6,237.2 L439.6,236.7 L440.6,236.1 L441.6,235.6 L442.3,235.2 L442.6,235.1 L443.6,234.6 L444.6,234.1 L445.6,233.6 L446.6,233.0 L447.6,232.5 L448.6,232.0 L449.6,231.5 L450.6,231.0 L451.6,230.5 L452.6,230.0 L453.6,229.5 L454.6,229.0 L455.6,228.5 L456.6,228.1 L457.6,227.6 L458.6,227.1 L459.6,226.7 L460.4,226.3 L460.6,226.2 L461.6,225.7 L462.6,225.3 L463.6,224.8 L464.6,224.4 L465.6,223.9 L466.6,223.5 L467.6,223.1 L468.6,222.6 L469.6,222.2 L470.6,221.8 L471.6,221.4 L472.6,221.0 L473.6,220.6 L474.6,220.2 L475.6,219.8 L476.1,219.6 L476.6,219.5 L477.6,219.1 L478.6,218.8 L479.6,218.4 L480.6,218.1 L481.6,217.7 L482.6,217.4 L483.6,217.1 L484.6,216.8 L485.6,216.5 L486.6,216.2 L487.6,215.9 L488.6,215.6 L489.6,215.3 L490.6,215.0 L491.6,214.7 L492.6,214.4 L493.6,214.1 L494.2,214.0 L494.6,213.9 L495.6,213.6 L496.6,213.4 L497.6,213.1 L498.6,212.9 L499.6,212.6 L500.6,212.4 L501.6,212.1 L502.6,211.9 L503.6,211.7 L504.6,211.4 L505.6,211.2 L506.6,211.0 L507.6,210.8 L508.6,210.5 L509.6,210.3 L510.6,210.1 L511.6,209.8 L512.6,209.6 L513.6,209.3 L514.6,209.1 L515.6,208.8 L516.0,208.7 L516.6,208.6 L517.6,208.3 L518.6,208.0 L519.6,207.8 L520.6,207.5 L521.6,207.2 L522.6,206.9 L523.6,206.6 L524.6,206.3 L525.6,206.0 L526.6,205.8 L527.6,205.5 L528.6,205.2 L529.6,204.9 L530.6,204.7 L531.6,204.4 L532.6,204.1 L533.0,204.1 L533.6,203.9 L534.6,203.7 L535.6,203.4 L536.6,203.2 L537.6,203.0 L538.6,202.7 L539.6,202.5 L540.6,202.3 L541.6,202.1 L542.6,201.9 L543.6,201.6 L544.6,201.4 L545.6,201.2 L546.6,201.0 L547.6,200.8 L548.6,200.6 L549.6,200.3 L550.6,200.1 L551.6,199.9 L551.8,199.9 L552.6,199.7 L553.6,199.5 L554.6,199.2 L555.6,199.0 L556.6,198.8 L557.6,198.5 L558.6,198.3 L559.6,198.1 L560.6,197.8 L561.6,197.6 L562.6,197.4 L563.6,197.2 L564.6,197.0 L565.6,196.8 L566.6,196.6 L567.6,196.4 L568.6,196.2 L569.6,196.1 L570.6,195.9 L571.6,195.7 L572.6,195.6 L573.6,195.5 L574.6,195.3 L575.6,195.2 L576.6,195.0 L577.6,194.9 L578.6,194.8 L578.9,194.7 L579.6,194.6 L580.6,194.5 L581.6,194.4 L582.6,194.3 L583.6,194.1 L584.6,194.0 L585.6,193.9 L586.6,193.8 L587.6,193.7 L588.6,193.5 L589.6,193.4 L590.1,193.4 L590.6,193.3 L591.6,193.2 L592.6,193.2 L593.6,193.1 L594.6,193.0 L595.6,192.9 L596.6,192.8 L597.6,192.7 L598.6,192.7 L599.6,192.6 L600.6,192.5 L601.4,192.4 L601.6,192.4 L602.6,192.3 L603.6,192.2 L604.6,192.1 L605.6,192.0 L606.6,191.9 L607.6,191.8 L608.6,191.7 L609.6,191.6 L610.6,191.5 L611.6,191.4 L612.6,191.4 L612.7,191.4 L613.6,191.4 L614.6,191.4 L615.6,191.5 L616.6,191.6 L617.6,191.7 L618.6,191.7 L619.6,191.7 L620.0,191.7 L620.6,191.7 L621.6,191.6 L622.6,191.5 L623.6,191.4 L624.6,191.2 L625.6,191.1 L626.6,191.0 L627.6,190.9 L628.6,190.8 L629.0,190.8 L629.6,190.8 L630.6,190.7 L631.6,190.6 L632.6,190.5 L633.6,190.4 L634.6,190.3 L635.6,190.3 L636.6,190.2 L637.6,190.2 L638.0,190.2 L638.6,190.2 L639.6,190.2 L640.6,190.2 L641.6,190.3 L642.6,190.3 L643.6,190.3 L644.6,190.4 L645.6,190.4 L646.6,190.4 L647.0,190.4 L647.6,190.3 L648.6,190.0 L649.6,189.5 L650.6,188.8 L651.6,188.0 L652.6,187.2 L653.6,186.4 L653.8,186.3 L654.6,185.7 L655.6,184.8 L656.6,183.9 L657.6,183.0 L658.6,182.2 L659.4,181.8 L659.6,181.7 L660.6,181.3 L661.6,180.8 L662.6,180.5 L663.6,180.2 L664.6,180.0 L665.1,180.0 L665.6,180.0 L666.6,180.0 L667.6,180.1 L668.6,180.2 L669.6,180.3 L670.6,180.4 L671.6,180.5 L672.6,180.6 L673.6,180.7 L674.1,180.7 L674.6,180.7 L675.6,180.8 L676.6,180.9 L677.6,181.0 L678.6,181.1 L679.6,181.2 L680.6,181.3 L681.6,181.4 L682.6,181.4 L683.1,181.4 L683.6,181.4 L684.6,181.2 L685.6,181.0 L686.6,180.6 L687.6,180.3 L688.6,179.8 L689.6,179.4 L690.6,179.0 L691.6,178.6 L692.1,178.5 L692.6,178.4 L693.6,178.1 L694.6,177.9 L695.6,177.6 L696.6,177.4 L697.6,177.2 L698.6,177.0 L698.9,176.9 L699.6,176.7 L700.6,176.5 L701.6,176.2 L702.6,175.9 L703.6,175.8 L704.5,175.7 L704.6,175.7 L705.6,175.7 L706.6,175.7 L707.6,175.7 L708.6,175.7 L709.6,175.7 L710.6,175.7 L711.6,175.7 L712.4,175.7 L712.6,175.7 L713.6,175.7 L714.6,175.8 L715.6,175.8 L716.6,176.0 L717.6,176.1 L718.0,176.2 L718.6,176.8 L719.6,179.1 L720.3,180.7 L720.6,181.4 L721.6,183.9 L722.5,185.2 L722.6,185.2 L723.6,185.5 L724.6,185.7 L725.6,185.9 L726.6,186.0 L727.6,186.1 L728.2,186.3 L728.6,186.4 L729.6,186.9 L730.6,187.5 L731.6,188.2 L732.6,188.9 L732.7,189.0 L733.6,189.7 L734.6,190.5 L735.6,191.4 L736.6,192.5 L737.2,193.1 L737.6,193.6 L738.6,194.9 L739.6,196.3 L740.6,197.8 L741.6,199.3 L741.7,199.4 L742.6,200.7 L743.6,202.3 L744.6,203.8 L745.6,205.4 L746.6,206.9 L747.6,208.3 L748.6,209.5 L749.6,210.4 L750.6,211.2 L751.6,212.0 L752.6,212.7 L753.6,213.4 L754.6,214.0 L755.6,214.6 L756.6,215.1 L757.6,215.5 L758.6,215.8 L759.6,216.0 L760.0,216.0 L760.0,249.3 L412.6,249.3 Z" fill="#2F6B8A" stroke="none"/>
<path d="M412.6,246.2 L413.6,245.3 L414.6,244.3 L415.6,243.4 L416.6,242.4 L417.6,241.5 L418.6,240.6 L419.6,239.8 L420.6,239.0 L421.6,238.2 L422.6,237.4 L423.6,236.8 L424.6,236.1 L425.6,235.5 L426.6,234.8 L427.6,234.1 L428.6,233.4 L429.6,232.7 L430.6,232.0 L431.6,231.3 L432.6,230.6 L433.6,229.8 L434.6,229.1 L435.6,228.4 L436.6,227.6 L437.6,226.9 L438.6,226.2 L439.6,225.5 L440.6,224.8 L441.6,224.2 L442.3,223.7 L442.6,223.5 L443.6,222.9 L444.6,222.2 L445.6,221.6 L446.6,220.9 L447.6,220.3 L448.6,219.5 L449.6,218.8 L450.6,218.1 L451.6,217.4 L452.6,216.7 L453.6,216.0 L454.6,215.3 L455.6,214.6 L456.6,213.9 L457.6,213.3 L458.6,212.6 L459.6,211.9 L460.4,211.4 L460.6,211.3 L461.6,210.6 L462.6,210.0 L463.6,209.3 L464.6,208.7 L465.6,208.0 L466.6,207.4 L467.6,206.7 L468.6,206.1 L469.6,205.5 L470.6,204.9 L471.6,204.3 L472.6,203.7 L473.6,203.1 L474.6,202.5 L475.6,201.9 L476.1,201.6 L476.6,201.3 L477.6,200.6 L478.6,200.0 L479.6,199.4 L480.6,198.8 L481.6,198.2 L482.6,197.6 L483.6,197.0 L484.6,196.4 L485.6,195.8 L486.6,195.3 L487.6,194.7 L488.6,194.1 L489.6,193.6 L490.6,193.0 L491.6,192.5 L492.6,191.9 L493.6,191.4 L494.2,191.1 L494.6,190.9 L495.6,190.3 L496.6,189.8 L497.6,189.3 L498.6,188.8 L499.6,188.2 L500.0,188.0 L500.6,187.6 L501.6,187.0 L502.6,186.3 L503.6,185.6 L504.6,184.9 L505.6,184.2 L506.6,183.5 L507.6,182.9 L508.6,182.2 L509.6,181.5 L510.6,180.9 L511.3,180.4 L511.6,180.2 L512.6,179.6 L513.6,178.9 L514.6,178.2 L515.6,177.6 L516.6,176.9 L517.6,176.2 L518.6,175.6 L519.6,174.9 L520.6,174.2 L521.6,173.6 L522.5,173.0 L522.6,172.9 L523.6,172.3 L524.6,171.6 L525.6,171.0 L526.6,170.3 L527.6,169.6 L528.6,169.0 L529.6,168.3 L530.6,167.7 L531.6,167.1 L532.6,166.4 L533.6,165.8 L533.8,165.7 L534.6,165.2 L535.6,164.6 L536.6,164.1 L537.6,163.5 L538.6,162.9 L539.6,162.4 L540.6,161.8 L541.6,161.3 L542.6,160.7 L543.6,160.2 L544.6,159.7 L545.1,159.4 L545.6,159.1 L546.6,158.6 L547.6,158.1 L548.6,157.5 L549.6,157.0 L550.6,156.5 L551.6,156.0 L552.6,155.5 L553.6,155.0 L554.6,154.5 L555.6,154.1 L556.3,153.8 L556.6,153.7 L557.6,153.3 L558.6,152.9 L559.6,152.5 L560.6,152.1 L561.6,151.7 L562.6,151.4 L563.6,151.0 L564.6,150.7 L565.6,150.4 L566.6,150.0 L567.6,149.7 L568.6,149.4 L569.6,149.1 L570.6,148.8 L571.6,148.5 L572.6,148.2 L573.6,147.9 L574.6,147.6 L575.6,147.4 L576.6,147.1 L577.6,146.8 L578.6,146.5 L578.9,146.4 L579.6,146.2 L580.6,145.9 L581.6,145.6 L582.6,145.3 L583.6,145.0 L584.6,144.7 L585.6,144.4 L586.6,144.0 L587.6,143.7 L588.6,143.4 L589.6,143.1 L590.1,143.0 L590.6,142.9 L591.6,142.6 L592.6,142.3 L593.6,142.0 L594.6,141.7 L595.6,141.4 L596.6,141.1 L597.6,140.8 L598.6,140.5 L599.6,140.3 L600.6,140.0 L601.4,139.8 L601.6,139.7 L602.6,139.5 L603.6,139.3 L604.6,139.0 L605.6,138.8 L606.6,138.6 L607.6,138.4 L608.6,138.1 L609.6,137.9 L610.6,137.7 L611.6,137.4 L612.6,137.1 L612.7,137.1 L613.6,136.8 L614.6,136.5 L615.6,136.1 L616.6,135.7 L617.6,135.3 L618.6,135.0 L619.6,134.6 L620.0,134.5 L620.6,134.3 L621.6,134.1 L622.6,133.8 L623.6,133.6 L624.6,133.4 L625.6,133.2 L626.6,132.9 L627.6,132.7 L628.6,132.4 L629.0,132.3 L629.6,132.1 L630.6,131.7 L631.6,131.3 L632.6,130.9 L633.6,130.4 L634.6,129.9 L635.6,129.5 L636.6,129.0 L637.6,128.6 L638.0,128.5 L638.6,128.3 L639.6,128.0 L640.6,127.8 L641.6,127.7 L642.6,127.5 L643.6,127.2 L644.6,126.9 L645.6,126.5 L646.6,125.9 L646.8,125.8 L647.6,123.7 L648.4,120.8 L648.6,120.3 L649.6,118.1 L650.6,116.2 L651.6,114.4 L652.6,112.4 L652.7,112.2 L653.6,110.1 L654.6,107.6 L655.6,105.2 L656.6,102.9 L656.9,102.3 L657.6,101.0 L658.6,99.2 L659.6,97.6 L660.6,96.1 L661.1,95.3 L661.6,94.5 L662.6,93.0 L663.6,91.5 L664.6,90.2 L665.3,89.4 L665.6,89.1 L666.6,88.0 L667.6,87.3 L667.9,87.3 L668.6,87.4 L669.6,87.6 L670.6,87.7 L671.3,87.8 L671.6,87.8 L672.6,87.7 L673.6,87.5 L674.6,87.2 L675.6,87.0 L676.3,86.9 L676.6,86.9 L677.6,86.8 L678.6,86.7 L679.6,86.6 L680.5,86.4 L680.6,86.4 L681.6,85.8 L682.6,84.7 L683.6,83.4 L684.6,82.0 L684.8,81.8 L685.6,80.8 L686.6,79.5 L687.6,78.1 L688.6,76.7 L689.6,75.1 L690.6,73.5 L690.7,73.3 L691.6,71.6 L692.1,70.6 L692.6,69.6 L693.6,67.7 L694.6,65.8 L695.6,63.9 L696.6,62.2 L696.8,61.9 L697.6,60.8 L698.6,59.6 L699.6,58.4 L700.6,57.0 L701.3,55.7 L701.6,54.9 L702.4,52.6 L702.6,52.2 L703.6,50.6 L704.6,49.3 L705.6,48.2 L706.6,47.4 L706.9,47.2 L707.6,46.9 L708.6,46.5 L709.6,46.2 L710.6,45.9 L711.4,45.5 L711.6,45.4 L712.6,44.7 L713.6,43.8 L714.2,43.3 L714.6,42.9 L715.6,41.9 L716.6,40.9 L717.6,40.1 L718.6,39.5 L719.3,39.3 L719.6,40.0 L720.2,43.3 L720.6,45.1 L721.3,48.9 L721.6,51.8 L722.1,56.8 L722.6,59.3 L723.3,61.3 L723.6,61.6 L724.6,62.4 L724.9,62.4 L725.6,62.1 L726.6,61.3 L727.2,61.1 L727.6,61.1 L728.6,61.5 L729.6,62.1 L730.0,62.4 L730.6,62.9 L731.6,64.1 L732.6,65.6 L733.4,66.9 L733.6,67.2 L734.6,69.0 L735.6,70.9 L736.2,72.0 L736.6,72.7 L737.6,74.5 L738.6,76.8 L739.6,79.5 L740.6,82.3 L741.6,85.2 L741.7,85.5 L742.6,88.2 L743.6,91.2 L744.5,94.0 L744.6,94.3 L745.6,97.4 L746.6,100.4 L747.3,102.4 L747.6,103.2 L748.6,106.0 L749.6,108.5 L750.0,109.5 L750.6,110.9 L751.6,113.0 L752.6,115.0 L753.0,115.9 L753.6,117.2 L754.6,119.5 L755.6,121.9 L756.6,124.2 L757.5,126.1 L757.6,126.3 L758.6,128.3 L759.6,130.3 L760.0,131.0" fill="none" stroke="#000000" stroke-width="1.6" stroke-linejoin="round"/>
<path d="M412.6,247.0 L413.6,246.5 L414.6,246.0 L415.6,245.5 L416.6,245.0 L417.6,244.5 L418.6,243.9 L419.6,243.4 L420.6,242.9 L421.6,242.3 L422.6,241.8 L423.6,241.2 L424.6,240.7 L425.6,240.1 L426.6,239.5 L427.6,238.9 L428.6,238.2 L429.6,237.6 L430.6,236.9 L431.6,236.2 L432.6,235.5 L433.6,234.9 L434.6,234.2 L435.6,233.5 L436.6,232.8 L437.6,232.1 L438.6,231.4 L439.6,230.7 L440.6,230.0 L441.6,229.4 L442.3,228.9 L442.6,228.7 L443.6,228.0 L444.6,227.3 L445.6,226.7 L446.6,226.0 L447.6,225.3 L448.6,224.6 L449.6,223.9 L450.6,223.2 L451.6,222.5 L452.6,221.9 L453.6,221.2 L454.6,220.5 L455.6,219.9 L456.6,219.3 L457.6,218.6 L458.6,218.0 L459.6,217.4 L460.4,217.0 L460.6,216.9 L461.6,216.3 L462.6,215.8 L463.6,215.2 L464.6,214.7 L465.6,214.1 L466.6,213.6 L467.6,213.1 L468.6,212.6 L469.6,212.1 L470.6,211.6 L471.6,211.1 L472.6,210.7 L473.6,210.2 L474.6,209.7 L475.6,209.3 L476.1,209.1 L476.6,208.9 L477.6,208.4 L478.6,208.0 L479.6,207.6 L480.6,207.1 L481.6,206.7 L482.6,206.3 L483.6,205.9 L484.6,205.5 L485.6,205.2 L486.6,204.8 L487.6,204.4 L488.6,204.0 L489.6,203.6 L490.6,203.2 L491.6,202.9 L492.6,202.5 L493.6,202.1 L494.2,201.9 L494.6,201.7 L495.6,201.3 L496.6,200.9 L497.6,200.6 L498.6,200.2 L499.6,199.8 L500.0,199.7 L500.6,199.4 L501.6,199.0 L502.6,198.7 L503.6,198.3 L504.6,197.9 L505.6,197.5 L506.6,197.1 L507.6,196.7 L508.6,196.3 L509.6,195.9 L510.6,195.5 L511.3,195.2 L511.6,195.0 L512.6,194.6 L513.6,194.1 L514.6,193.6 L515.6,193.1 L516.6,192.5 L517.6,192.0 L518.6,191.5 L519.6,190.9 L520.6,190.4 L521.6,189.9 L522.5,189.4 L522.6,189.4 L523.6,188.9 L524.6,188.4 L525.6,187.9 L526.6,187.4 L527.6,186.9 L528.6,186.4 L529.6,185.9 L530.6,185.4 L531.6,184.9 L532.6,184.4 L533.6,183.9 L533.8,183.8 L534.6,183.4 L535.6,182.9 L536.6,182.4 L537.6,181.9 L538.6,181.4 L539.6,180.9 L540.6,180.4 L541.6,179.9 L542.6,179.4 L543.6,178.9 L544.6,178.5 L545.1,178.2 L545.6,178.0 L546.6,177.6 L547.6,177.2 L548.6,176.7 L549.6,176.3 L550.6,175.9 L551.6,175.5 L552.6,175.1 L553.6,174.7 L554.6,174.4 L555.6,174.0 L556.3,173.7 L556.6,173.6 L557.6,173.2 L558.6,172.9 L559.6,172.5 L560.6,172.1 L561.6,171.8 L562.6,171.4 L563.6,171.1 L564.6,170.8 L565.6,170.4 L566.6,170.1 L567.6,169.8 L568.6,169.5 L569.6,169.3 L570.6,169.0 L571.6,168.7 L572.6,168.5 L573.6,168.2 L574.6,168.0 L575.6,167.7 L576.6,167.5 L577.6,167.2 L578.6,167.0 L578.9,166.9 L579.6,166.7 L580.6,166.5 L581.6,166.2 L582.6,166.0 L583.6,165.7 L584.6,165.4 L585.6,165.2 L586.6,164.9 L587.6,164.6 L588.6,164.4 L589.6,164.1 L590.1,164.0 L590.6,163.9 L591.6,163.6 L592.6,163.4 L593.6,163.2 L594.6,162.9 L595.6,162.7 L596.6,162.4 L597.6,162.2 L598.6,162.0 L599.6,161.7 L600.6,161.5 L601.4,161.3 L601.6,161.3 L602.6,161.0 L603.6,160.8 L604.6,160.6 L605.6,160.3 L606.6,160.1 L607.6,159.9 L608.6,159.6 L609.6,159.4 L610.6,159.1 L611.6,158.8 L612.6,158.5 L612.7,158.5 L613.6,158.2 L614.6,157.8 L615.6,157.4 L616.6,157.0 L617.6,156.6 L618.6,156.2 L619.6,155.8 L620.0,155.7 L620.6,155.6 L621.6,155.3 L622.6,155.1 L623.6,154.8 L624.6,154.6 L625.6,154.5 L626.6,154.3 L627.6,154.2 L628.6,154.0 L629.6,153.9 L630.6,153.7 L631.6,153.5 L632.6,153.4 L633.5,153.2 L633.6,153.2 L634.6,153.0 L635.6,152.8 L636.6,152.7 L637.6,152.5 L638.6,152.4 L639.6,152.2 L640.6,152.0 L641.6,151.8 L642.6,151.6 L643.6,151.4 L644.6,151.1 L645.6,150.8 L646.6,150.5 L647.0,150.3 L647.6,150.0 L648.6,149.3 L649.6,148.4 L650.6,147.3 L651.6,146.0 L652.6,144.7 L653.6,143.4 L653.8,143.1 L654.6,141.9 L655.6,140.1 L656.6,138.1 L657.6,136.1 L658.6,134.3 L659.4,133.0 L659.6,132.7 L660.6,131.2 L661.6,129.8 L662.6,128.4 L663.6,127.3 L664.6,126.5 L665.1,126.2 L665.6,126.0 L666.6,125.6 L667.6,125.2 L668.6,124.8 L669.6,124.6 L670.6,124.3 L671.6,124.1 L672.6,124.0 L673.6,123.9 L674.1,123.9 L674.6,123.9 L675.6,123.9 L676.6,123.9 L677.6,123.9 L678.6,123.9 L679.6,123.9 L680.6,123.9 L681.6,123.9 L682.6,123.9 L683.1,123.9 L683.6,123.9 L684.6,123.6 L685.6,123.1 L686.6,122.5 L687.6,121.6 L688.6,120.7 L689.6,119.7 L690.6,118.7 L691.6,117.7 L692.1,117.2 L692.6,116.7 L693.6,115.5 L694.6,114.2 L695.6,112.8 L696.6,111.4 L697.6,109.9 L698.6,108.6 L698.9,108.2 L699.6,107.3 L700.6,105.9 L701.6,104.5 L702.6,103.2 L703.6,102.1 L704.5,101.4 L704.6,101.3 L705.6,100.7 L706.6,100.2 L707.6,99.8 L708.6,99.4 L709.6,99.1 L710.6,98.7 L711.6,98.3 L712.4,98.0 L712.6,97.9 L713.6,97.4 L714.6,96.8 L715.6,96.3 L716.6,95.9 L717.6,95.6 L718.0,95.6 L718.6,96.0 L719.6,97.9 L720.3,100.0 L720.6,102.2 L721.4,109.3 L721.6,109.4 L722.6,109.9 L723.6,110.2 L724.6,110.4 L725.6,110.5 L726.6,110.6 L727.6,110.9 L728.2,111.1 L728.6,111.3 L729.6,111.9 L730.6,112.8 L731.6,113.7 L732.6,114.8 L732.7,114.9 L733.6,116.0 L734.6,117.4 L735.6,118.9 L736.6,120.6 L737.2,121.7 L737.6,122.4 L738.6,124.5 L739.6,126.8 L740.6,129.1 L741.6,131.3 L741.7,131.5 L742.6,133.4 L743.6,135.5 L744.6,137.5 L745.6,139.6 L746.6,141.6 L747.6,143.5 L748.5,145.2 L748.6,145.4 L749.6,147.2 L750.6,149.0 L751.6,150.8 L752.6,152.5 L753.6,154.2 L754.6,155.7 L755.2,156.5 L755.6,157.0 L756.6,158.3 L757.6,159.5 L758.6,160.6 L759.6,161.6 L760.0,162.0" fill="none" stroke="#12350F" stroke-width="1.5" stroke-dasharray="1.4 2.8" stroke-linejoin="round"/>
<path d="M412.6,247.5 L413.6,247.2 L414.6,246.8 L415.6,246.5 L416.6,246.1 L417.6,245.7 L418.6,245.3 L419.6,244.9 L420.6,244.5 L421.6,244.1 L422.6,243.6 L423.6,243.2 L424.6,242.8 L425.6,242.3 L426.6,241.8 L427.6,241.3 L428.6,240.7 L429.6,240.1 L430.6,239.5 L431.6,238.9 L432.6,238.2 L433.6,237.6 L434.6,236.9 L435.6,236.3 L436.6,235.6 L437.6,235.0 L438.6,234.4 L439.6,233.7 L440.6,233.1 L441.6,232.5 L442.3,232.1 L442.6,231.9 L443.6,231.3 L444.6,230.7 L445.6,230.2 L446.6,229.6 L447.6,229.0 L448.6,228.4 L449.6,227.9 L450.6,227.3 L451.6,226.8 L452.6,226.2 L453.6,225.7 L454.6,225.1 L455.6,224.6 L456.6,224.1 L457.6,223.6 L458.6,223.0 L459.6,222.6 L460.4,222.2 L460.6,222.1 L461.6,221.6 L462.6,221.1 L463.6,220.6 L464.6,220.2 L465.6,219.7 L466.6,219.3 L467.6,218.9 L468.6,218.4 L469.6,218.0 L470.6,217.6 L471.6,217.1 L472.6,216.7 L473.6,216.3 L474.6,215.9 L475.6,215.5 L476.1,215.3 L476.6,215.2 L477.6,214.8 L478.6,214.4 L479.6,214.0 L480.6,213.6 L481.6,213.3 L482.6,212.9 L483.6,212.5 L484.6,212.2 L485.6,211.8 L486.6,211.5 L487.6,211.1 L488.6,210.8 L489.6,210.5 L490.6,210.1 L491.6,209.8 L492.6,209.5 L493.6,209.2 L494.2,209.0 L494.6,208.9 L495.6,208.6 L496.6,208.3 L497.6,208.1 L498.6,207.8 L499.6,207.5 L500.6,207.3 L501.6,207.0 L502.6,206.8 L503.6,206.5 L504.6,206.3 L505.6,206.0 L506.6,205.8 L507.6,205.5 L508.6,205.3 L509.6,205.0 L510.6,204.8 L511.6,204.6 L512.6,204.3 L513.6,204.0 L514.6,203.8 L515.6,203.5 L516.0,203.4 L516.6,203.2 L517.6,203.0 L518.6,202.7 L519.6,202.4 L520.6,202.2 L521.6,201.9 L522.6,201.6 L523.6,201.3 L524.6,201.0 L525.6,200.7 L526.6,200.4 L527.6,200.1 L528.6,199.8 L529.3,199.6 L529.6,199.5 L530.6,199.1 L531.6,198.8 L532.6,198.4 L533.6,198.0 L534.6,197.5 L535.6,197.1 L536.6,196.7 L537.6,196.3 L538.6,195.8 L539.6,195.4 L540.6,195.0 L541.6,194.6 L542.6,194.2 L543.6,193.8 L544.6,193.4 L545.1,193.3 L545.6,193.1 L546.6,192.8 L547.6,192.5 L548.6,192.2 L549.6,191.9 L550.6,191.6 L551.6,191.3 L552.6,191.0 L553.6,190.7 L554.6,190.5 L555.6,190.2 L556.3,190.1 L556.6,190.0 L557.6,189.8 L558.6,189.5 L559.6,189.3 L560.6,189.1 L561.6,188.9 L562.6,188.7 L563.6,188.5 L564.6,188.3 L565.6,188.2 L566.6,188.0 L567.6,187.8 L568.6,187.7 L569.6,187.6 L570.6,187.4 L571.6,187.3 L572.6,187.2 L573.6,187.1 L574.6,187.0 L575.6,186.8 L576.6,186.7 L577.6,186.6 L578.6,186.5 L578.9,186.4 L579.6,186.3 L580.6,186.2 L581.6,186.1 L582.6,185.9 L583.6,185.8 L584.6,185.7 L585.6,185.5 L586.6,185.4 L587.6,185.2 L588.6,185.1 L589.6,184.9 L590.1,184.8 L590.6,184.7 L591.6,184.6 L592.6,184.4 L593.6,184.2 L594.6,184.0 L595.6,183.7 L596.6,183.5 L597.6,183.3 L598.6,183.1 L599.6,182.9 L600.6,182.7 L601.4,182.6 L601.6,182.6 L602.6,182.4 L603.6,182.2 L604.6,182.1 L605.6,181.9 L606.6,181.7 L607.6,181.6 L608.6,181.5 L609.6,181.3 L610.6,181.2 L611.6,181.0 L612.6,180.9 L612.7,180.9 L613.6,180.8 L614.6,180.7 L615.6,180.6 L616.6,180.5 L617.6,180.4 L618.6,180.3 L619.6,180.2 L620.0,180.2 L620.6,180.1 L621.6,180.0 L622.6,179.9 L623.6,179.7 L624.6,179.6 L625.6,179.5 L626.6,179.4 L627.6,179.3 L628.6,179.1 L629.0,179.1 L629.6,179.0 L630.6,178.9 L631.6,178.8 L632.6,178.7 L633.6,178.6 L634.6,178.4 L635.6,178.3 L636.6,178.2 L637.6,178.0 L638.0,178.0 L638.6,177.9 L639.6,177.8 L640.6,177.7 L641.6,177.6 L642.6,177.5 L643.6,177.4 L644.6,177.3 L645.6,177.2 L646.6,177.0 L647.0,176.9 L647.6,176.7 L648.6,176.4 L649.6,175.8 L650.6,175.2 L651.6,174.5 L652.6,173.8 L653.6,173.0 L653.8,172.8 L654.6,172.0 L655.6,170.8 L656.6,169.4 L657.6,168.1 L658.6,166.9 L659.4,166.1 L659.6,165.9 L660.6,165.1 L661.6,164.3 L662.6,163.6 L663.6,163.1 L664.6,162.7 L665.1,162.7 L665.6,162.7 L666.6,162.8 L667.6,162.8 L668.6,162.9 L669.6,163.0 L670.6,163.2 L671.6,163.3 L672.6,163.3 L673.6,163.4 L674.1,163.4 L674.6,163.4 L675.6,163.4 L676.6,163.4 L677.6,163.4 L678.6,163.4 L679.6,163.4 L680.6,163.4 L681.6,163.4 L682.6,163.4 L683.1,163.4 L683.6,163.4 L684.6,163.2 L685.6,162.9 L686.6,162.4 L687.6,161.9 L688.6,161.3 L689.6,160.7 L690.6,160.1 L691.6,159.5 L692.1,159.3 L692.6,159.1 L693.6,158.6 L694.6,158.1 L695.6,157.6 L696.6,157.1 L697.6,156.5 L698.6,156.0 L698.9,155.9 L699.6,155.5 L700.6,155.0 L701.6,154.4 L702.6,153.9 L703.6,153.5 L704.5,153.2 L704.6,153.2 L705.6,153.0 L706.6,152.8 L707.6,152.7 L708.6,152.5 L709.6,152.4 L710.6,152.3 L711.6,152.2 L712.4,152.1 L712.6,152.1 L713.6,151.9 L714.6,151.8 L715.6,151.6 L716.6,151.5 L717.6,151.4 L718.0,151.4 L718.6,151.9 L719.6,154.2 L720.3,155.9 L720.6,156.7 L721.6,159.7 L722.5,161.5 L722.6,161.6 L723.6,162.1 L724.6,162.4 L725.6,162.7 L726.6,162.9 L727.6,163.2 L728.2,163.4 L728.6,163.6 L729.6,164.1 L730.6,164.7 L731.6,165.3 L732.6,166.0 L732.7,166.1 L733.6,166.8 L734.6,167.8 L735.6,168.8 L736.6,169.9 L737.2,170.6 L737.6,171.1 L738.6,172.2 L739.6,173.5 L740.6,174.8 L741.6,176.1 L741.7,176.2 L742.6,177.4 L743.6,178.9 L744.6,180.5 L745.6,182.0 L746.6,183.5 L747.6,184.9 L748.6,186.2 L749.6,187.2 L750.6,188.1 L751.6,189.0 L752.6,189.9 L753.6,190.7 L754.6,191.5 L755.6,192.2 L756.6,192.8 L757.6,193.3 L758.6,193.8 L759.6,194.2 L760.0,194.3" fill="none" stroke="#5A3208" stroke-width="1.5" stroke-dasharray="4.8 6" stroke-linejoin="round"/>
<path d="M412.6,248.0 L413.6,247.8 L414.6,247.5 L415.6,247.2 L416.6,246.9 L417.6,246.7 L418.6,246.4 L419.6,246.1 L420.6,245.7 L421.6,245.4 L422.6,245.1 L423.6,244.7 L424.6,244.4 L425.6,244.0 L426.6,243.6 L427.6,243.1 L428.6,242.7 L429.6,242.2 L430.6,241.7 L431.6,241.1 L432.6,240.6 L433.6,240.0 L434.6,239.5 L435.6,238.9 L436.6,238.4 L437.6,237.8 L438.6,237.2 L439.6,236.7 L440.6,236.1 L441.6,235.6 L442.3,235.2 L442.6,235.1 L443.6,234.6 L444.6,234.1 L445.6,233.6 L446.6,233.0 L447.6,232.5 L448.6,232.0 L449.6,231.5 L450.6,231.0 L451.6,230.5 L452.6,230.0 L453.6,229.5 L454.6,229.0 L455.6,228.5 L456.6,228.1 L457.6,227.6 L458.6,227.1 L459.6,226.7 L460.4,226.3 L460.6,226.2 L461.6,225.7 L462.6,225.3 L463.6,224.8 L464.6,224.4 L465.6,223.9 L466.6,223.5 L467.6,223.1 L468.6,222.6 L469.6,222.2 L470.6,221.8 L471.6,221.4 L472.6,221.0 L473.6,220.6 L474.6,220.2 L475.6,219.8 L476.1,219.6 L476.6,219.5 L477.6,219.1 L478.6,218.8 L479.6,218.4 L480.6,218.1 L481.6,217.7 L482.6,217.4 L483.6,217.1 L484.6,216.8 L485.6,216.5 L486.6,216.2 L487.6,215.9 L488.6,215.6 L489.6,215.3 L490.6,215.0 L491.6,214.7 L492.6,214.4 L493.6,214.1 L494.2,214.0 L494.6,213.9 L495.6,213.6 L496.6,213.4 L497.6,213.1 L498.6,212.9 L499.6,212.6 L500.6,212.4 L501.6,212.1 L502.6,211.9 L503.6,211.7 L504.6,211.4 L505.6,211.2 L506.6,211.0 L507.6,210.8 L508.6,210.5 L509.6,210.3 L510.6,210.1 L511.6,209.8 L512.6,209.6 L513.6,209.3 L514.6,209.1 L515.6,208.8 L516.0,208.7 L516.6,208.6 L517.6,208.3 L518.6,208.0 L519.6,207.8 L520.6,207.5 L521.6,207.2 L522.6,206.9 L523.6,206.6 L524.6,206.3 L525.6,206.0 L526.6,205.8 L527.6,205.5 L528.6,205.2 L529.6,204.9 L530.6,204.7 L531.6,204.4 L532.6,204.1 L533.0,204.1 L533.6,203.9 L534.6,203.7 L535.6,203.4 L536.6,203.2 L537.6,203.0 L538.6,202.7 L539.6,202.5 L540.6,202.3 L541.6,202.1 L542.6,201.9 L543.6,201.6 L544.6,201.4 L545.6,201.2 L546.6,201.0 L547.6,200.8 L548.6,200.6 L549.6,200.3 L550.6,200.1 L551.6,199.9 L551.8,199.9 L552.6,199.7 L553.6,199.5 L554.6,199.2 L555.6,199.0 L556.6,198.8 L557.6,198.5 L558.6,198.3 L559.6,198.1 L560.6,197.8 L561.6,197.6 L562.6,197.4 L563.6,197.2 L564.6,197.0 L565.6,196.8 L566.6,196.6 L567.6,196.4 L568.6,196.2 L569.6,196.1 L570.6,195.9 L571.6,195.7 L572.6,195.6 L573.6,195.5 L574.6,195.3 L575.6,195.2 L576.6,195.0 L577.6,194.9 L578.6,194.8 L578.9,194.7 L579.6,194.6 L580.6,194.5 L581.6,194.4 L582.6,194.3 L583.6,194.1 L584.6,194.0 L585.6,193.9 L586.6,193.8 L587.6,193.7 L588.6,193.5 L589.6,193.4 L590.1,193.4 L590.6,193.3 L591.6,193.2 L592.6,193.2 L593.6,193.1 L594.6,193.0 L595.6,192.9 L596.6,192.8 L597.6,192.7 L598.6,192.7 L599.6,192.6 L600.6,192.5 L601.4,192.4 L601.6,192.4 L602.6,192.3 L603.6,192.2 L604.6,192.1 L605.6,192.0 L606.6,191.9 L607.6,191.8 L608.6,191.7 L609.6,191.6 L610.6,191.5 L611.6,191.4 L612.6,191.4 L612.7,191.4 L613.6,191.4 L614.6,191.4 L615.6,191.5 L616.6,191.6 L617.6,191.7 L618.6,191.7 L619.6,191.7 L620.0,191.7 L620.6,191.7 L621.6,191.6 L622.6,191.5 L623.6,191.4 L624.6,191.2 L625.6,191.1 L626.6,191.0 L627.6,190.9 L628.6,190.8 L629.0,190.8 L629.6,190.8 L630.6,190.7 L631.6,190.6 L632.6,190.5 L633.6,190.4 L634.6,190.3 L635.6,190.3 L636.6,190.2 L637.6,190.2 L638.0,190.2 L638.6,190.2 L639.6,190.2 L640.6,190.2 L641.6,190.3 L642.6,190.3 L643.6,190.3 L644.6,190.4 L645.6,190.4 L646.6,190.4 L647.0,190.4 L647.6,190.3 L648.6,190.0 L649.6,189.5 L650.6,188.8 L651.6,188.0 L652.6,187.2 L653.6,186.4 L653.8,186.3 L654.6,185.7 L655.6,184.8 L656.6,183.9 L657.6,183.0 L658.6,182.2 L659.4,181.8 L659.6,181.7 L660.6,181.3 L661.6,180.8 L662.6,180.5 L663.6,180.2 L664.6,180.0 L665.1,180.0 L665.6,180.0 L666.6,180.0 L667.6,180.1 L668.6,180.2 L669.6,180.3 L670.6,180.4 L671.6,180.5 L672.6,180.6 L673.6,180.7 L674.1,180.7 L674.6,180.7 L675.6,180.8 L676.6,180.9 L677.6,181.0 L678.6,181.1 L679.6,181.2 L680.6,181.3 L681.6,181.4 L682.6,181.4 L683.1,181.4 L683.6,181.4 L684.6,181.2 L685.6,181.0 L686.6,180.6 L687.6,180.3 L688.6,179.8 L689.6,179.4 L690.6,179.0 L691.6,178.6 L692.1,178.5 L692.6,178.4 L693.6,178.1 L694.6,177.9 L695.6,177.6 L696.6,177.4 L697.6,177.2 L698.6,177.0 L698.9,176.9 L699.6,176.7 L700.6,176.5 L701.6,176.2 L702.6,175.9 L703.6,175.8 L704.5,175.7 L704.6,175.7 L705.6,175.7 L706.6,175.7 L707.6,175.7 L708.6,175.7 L709.6,175.7 L710.6,175.7 L711.6,175.7 L712.4,175.7 L712.6,175.7 L713.6,175.7 L714.6,175.8 L715.6,175.8 L716.6,176.0 L717.6,176.1 L718.0,176.2 L718.6,176.8 L719.6,179.1 L720.3,180.7 L720.6,181.4 L721.6,183.9 L722.5,185.2 L722.6,185.2 L723.6,185.5 L724.6,185.7 L725.6,185.9 L726.6,186.0 L727.6,186.1 L728.2,186.3 L728.6,186.4 L729.6,186.9 L730.6,187.5 L731.6,188.2 L732.6,188.9 L732.7,189.0 L733.6,189.7 L734.6,190.5 L735.6,191.4 L736.6,192.5 L737.2,193.1 L737.6,193.6 L738.6,194.9 L739.6,196.3 L740.6,197.8 L741.6,199.3 L741.7,199.4 L742.6,200.7 L743.6,202.3 L744.6,203.8 L745.6,205.4 L746.6,206.9 L747.6,208.3 L748.6,209.5 L749.6,210.4 L750.6,211.2 L751.6,212.0 L752.6,212.7 L753.6,213.4 L754.6,214.0 L755.6,214.6 L756.6,215.1 L757.6,215.5 L758.6,215.8 L759.6,216.0 L760.0,216.0" fill="none" stroke="#0A1C33" stroke-width="1.6" stroke-dasharray="12.5 1.6" stroke-linejoin="round"/>
<path d="M406.2,25.6 L406.2,255.5 L766.2,255.5" fill="none" stroke="#4E5358" stroke-width="1.15"/>
<line x1="402.0" y1="249.4" x2="405.9" y2="249.4" stroke="#222" stroke-width="0.9"/>
<text x="400" y="253.20000000000002" font-size="10.2" text-anchor="end" fill="#111">0</text>
<line x1="402.0" y1="185.8" x2="405.9" y2="185.8" stroke="#222" stroke-width="0.9"/>
<text x="400" y="189.60000000000002" font-size="10.2" text-anchor="end" fill="#111">2</text>
<line x1="402.0" y1="122.3" x2="405.9" y2="122.3" stroke="#222" stroke-width="0.9"/>
<text x="400" y="126.1" font-size="10.2" text-anchor="end" fill="#111">4</text>
<line x1="402.0" y1="58.7" x2="405.9" y2="58.7" stroke="#222" stroke-width="0.9"/>
<text x="400" y="62.5" font-size="10.2" text-anchor="end" fill="#111">6</text>
<line x1="448" y1="255.8" x2="448" y2="259.7" stroke="#222" stroke-width="0.9"/>
<text x="448" y="271.6" font-size="10.1" text-anchor="middle" fill="#111">3,500</text>
<line x1="540" y1="255.8" x2="540" y2="259.7" stroke="#222" stroke-width="0.9"/>
<text x="540" y="271.6" font-size="10.1" text-anchor="middle" fill="#111">8,000</text>
<line x1="632.5" y1="255.8" x2="632.5" y2="259.7" stroke="#222" stroke-width="0.9"/>
<text x="632.5" y="271.6" font-size="10.1" text-anchor="middle" fill="#111">18,500</text>
<line x1="724.8" y1="255.8" x2="724.8" y2="259.7" stroke="#222" stroke-width="0.9"/>
<text x="724.8" y="271.6" font-size="10.1" text-anchor="middle" fill="#111">43,000</text>
<text x="523.3" y="286.4" font-size="10.3" textLength="119.3" lengthAdjust="spacingAndGlyphs" fill="#111">GDP per captia, log scale</text>
<line x1="808.2" y1="250.8" x2="1152.5" y2="250.8" stroke="#DFEFEC" stroke-width="1.1"/>
<line x1="808.2" y1="209.1" x2="1152.5" y2="209.1" stroke="#DFEFEC" stroke-width="1.1"/>
<line x1="808.2" y1="167.4" x2="1152.5" y2="167.4" stroke="#DFEFEC" stroke-width="1.1"/>
<line x1="808.2" y1="125.7" x2="1152.5" y2="125.7" stroke="#DFEFEC" stroke-width="1.1"/>
<line x1="808.2" y1="84.0" x2="1152.5" y2="84.0" stroke="#DFEFEC" stroke-width="1.1"/>
<line x1="808.2" y1="42.3" x2="1152.5" y2="42.3" stroke="#DFEFEC" stroke-width="1.1"/>
<path d="M813.7,60.2 L814.0,60.4 L814.7,60.9 L815.7,61.6 L816.7,62.3 L817.7,63.0 L818.7,63.6 L819.7,64.3 L820.7,64.9 L821.7,65.6 L822.5,66.1 L822.7,66.2 L823.7,66.9 L824.7,67.5 L825.7,68.1 L826.7,68.8 L827.7,69.4 L828.7,70.0 L829.7,70.6 L830.7,71.2 L831.7,71.7 L832.7,72.3 L833.7,72.8 L833.8,72.8 L834.7,73.2 L835.7,73.7 L836.7,74.1 L837.7,74.6 L838.7,75.0 L839.7,75.4 L840.7,75.8 L841.7,76.1 L842.7,76.5 L843.7,76.8 L844.7,77.2 L845.1,77.3 L845.7,77.5 L846.7,77.8 L847.7,78.1 L848.7,78.5 L849.7,78.8 L850.7,79.1 L851.7,79.4 L852.7,79.6 L853.7,79.9 L854.7,80.1 L855.7,80.2 L856.3,80.3 L856.7,80.3 L857.7,80.5 L858.7,80.6 L859.7,80.7 L860.7,80.8 L861.7,80.9 L862.7,81.0 L863.7,81.1 L864.7,81.1 L865.7,81.2 L866.7,81.2 L867.6,81.2 L867.7,81.2 L868.7,81.2 L869.7,81.2 L870.7,81.1 L871.7,81.1 L872.7,81.0 L873.7,80.9 L874.7,80.9 L875.7,80.8 L876.7,80.7 L877.7,80.6 L878.7,80.5 L878.9,80.5 L879.7,80.4 L880.7,80.3 L881.7,80.2 L882.7,80.1 L883.7,79.9 L884.7,79.8 L885.7,79.6 L886.7,79.5 L887.7,79.3 L888.7,79.1 L889.7,79.0 L890.1,78.9 L890.7,78.8 L891.7,78.6 L892.7,78.5 L893.7,78.3 L894.7,78.1 L895.7,78.0 L896.7,77.8 L897.7,77.6 L898.7,77.4 L899.7,77.2 L900.7,77.0 L901.4,76.9 L901.7,76.8 L902.7,76.6 L903.7,76.4 L904.7,76.2 L905.7,75.9 L906.7,75.7 L907.7,75.4 L908.7,75.2 L909.7,74.9 L910.7,74.7 L911.7,74.4 L912.7,74.2 L913.7,74.0 L914.7,73.8 L915.7,73.5 L916.7,73.3 L917.7,73.1 L918.7,72.9 L919.7,72.7 L920.0,72.6 L920.7,72.4 L921.7,72.2 L922.7,71.9 L923.7,71.7 L924.7,71.4 L925.7,71.1 L926.7,70.9 L927.7,70.6 L928.7,70.3 L929.7,70.1 L930.7,69.8 L931.3,69.6 L931.7,69.5 L932.7,69.2 L933.7,68.9 L934.7,68.6 L935.7,68.3 L936.7,68.0 L937.7,67.7 L938.7,67.4 L939.7,67.1 L940.7,66.7 L941.7,66.4 L942.5,66.2 L942.7,66.1 L943.7,65.8 L944.7,65.5 L945.7,65.3 L946.7,65.0 L947.7,64.7 L948.7,64.4 L949.7,64.1 L950.7,63.8 L951.7,63.5 L952.7,63.2 L953.7,62.8 L953.8,62.8 L954.7,62.5 L955.7,62.2 L956.7,61.8 L957.7,61.5 L958.7,61.2 L959.7,60.8 L960.7,60.5 L961.7,60.1 L962.7,59.7 L963.7,59.3 L964.7,59.0 L965.1,58.8 L965.7,58.6 L966.7,58.1 L967.7,57.7 L968.7,57.2 L969.7,56.7 L970.7,56.3 L971.7,55.8 L972.7,55.4 L973.7,55.0 L974.1,54.8 L974.7,54.6 L975.7,54.2 L976.7,53.9 L977.7,53.5 L978.7,53.2 L979.7,52.9 L980.7,52.6 L981.7,52.3 L982.7,52.0 L983.7,51.7 L984.7,51.4 L985.7,51.1 L986.7,50.7 L987.6,50.4 L987.7,50.4 L988.7,50.0 L989.7,49.6 L990.7,49.2 L991.7,48.9 L992.7,48.5 L993.7,48.1 L994.7,47.7 L995.7,47.2 L996.7,46.8 L997.7,46.4 L998.7,46.0 L998.9,45.9 L999.7,45.5 L1000.7,45.1 L1001.7,44.6 L1002.7,44.1 L1003.7,43.6 L1004.7,43.1 L1005.7,42.6 L1006.7,42.1 L1007.7,41.7 L1008.7,41.2 L1009.7,40.8 L1010.1,40.7 L1010.7,40.5 L1011.7,40.1 L1012.7,39.8 L1013.7,39.5 L1014.7,39.2 L1015.7,38.9 L1016.7,38.6 L1017.7,38.3 L1018.7,38.1 L1019.7,37.8 L1020.7,37.6 L1021.4,37.4 L1021.7,37.3 L1022.7,37.1 L1023.7,36.9 L1024.7,36.7 L1025.7,36.4 L1026.7,36.2 L1027.7,36.0 L1028.7,35.8 L1029.7,35.7 L1030.7,35.5 L1031.7,35.3 L1032.7,35.1 L1033.7,34.9 L1034.7,34.7 L1035.7,34.5 L1036.7,34.3 L1037.7,34.1 L1038.7,34.0 L1039.4,34.0 L1039.7,34.0 L1040.7,34.2 L1041.7,34.7 L1042.7,35.2 L1043.7,35.7 L1043.8,35.8 L1044.7,36.4 L1045.7,37.2 L1046.7,38.1 L1047.7,39.0 L1048.7,39.9 L1049.7,40.8 L1050.5,41.4 L1050.7,41.5 L1051.7,42.2 L1052.7,43.0 L1053.7,43.7 L1054.7,44.4 L1055.7,45.1 L1056.7,45.7 L1057.7,46.3 L1058.7,46.7 L1059.7,46.9 L1060.7,47.0 L1061.7,46.6 L1062.7,45.6 L1063.7,44.6 L1064.7,43.8 L1065.2,43.7 L1065.7,43.7 L1066.7,43.7 L1067.7,43.8 L1068.7,43.9 L1069.7,44.0 L1070.7,44.1 L1071.7,44.3 L1071.9,44.3 L1072.7,44.6 L1073.7,45.2 L1074.7,46.1 L1075.7,47.2 L1076.7,48.3 L1077.6,49.3 L1077.7,49.4 L1078.7,50.6 L1079.7,51.9 L1080.7,53.3 L1081.7,54.7 L1082.7,56.1 L1083.7,57.5 L1084.3,58.3 L1084.7,58.8 L1085.7,60.1 L1086.7,61.3 L1087.7,62.5 L1088.7,63.7 L1089.7,64.9 L1090.7,66.0 L1091.7,67.2 L1092.7,68.3 L1093.4,69.1 L1093.7,69.4 L1094.7,70.5 L1095.7,71.6 L1096.7,72.7 L1097.7,73.7 L1098.7,74.8 L1099.7,75.8 L1100.7,76.9 L1101.7,77.9 L1102.4,78.6 L1102.7,78.9 L1103.7,80.2 L1104.7,81.5 L1105.7,82.7 L1106.7,83.7 L1107.7,84.2 L1108.0,84.2 L1108.7,83.4 L1109.7,81.4 L1110.3,80.8 L1110.7,80.9 L1111.7,81.4 L1112.7,82.3 L1113.7,83.4 L1114.7,84.4 L1115.7,85.3 L1115.9,85.4 L1116.7,85.9 L1117.7,86.5 L1118.7,87.0 L1119.7,87.6 L1120.7,88.1 L1121.7,88.5 L1122.7,88.9 L1123.7,89.1 L1124.7,89.2 L1124.9,89.2 L1125.7,89.2 L1126.7,89.0 L1127.7,88.8 L1128.7,88.5 L1129.7,88.1 L1130.7,87.7 L1131.7,87.3 L1132.7,86.9 L1133.7,86.6 L1133.9,86.5 L1134.7,86.2 L1135.7,85.8 L1136.7,85.4 L1137.7,85.0 L1138.7,84.6 L1139.7,84.2 L1140.7,83.8 L1141.7,83.5 L1142.7,83.1 L1143.7,82.8 L1144.7,82.5 L1145.7,82.2 L1146.3,82.0 L1146.3,250.6 L813.7,250.6 Z" fill="#484E52" stroke="none"/>
<path d="M813.7,97.1 L814.0,97.3 L814.7,97.8 L815.7,98.4 L816.7,99.0 L817.7,99.7 L818.7,100.3 L819.7,100.9 L820.7,101.5 L821.7,102.1 L822.5,102.6 L822.7,102.7 L823.7,103.3 L824.7,103.9 L825.7,104.5 L826.7,105.1 L827.7,105.7 L828.7,106.2 L829.7,106.8 L830.7,107.4 L831.7,107.9 L832.7,108.4 L833.7,108.9 L833.8,109.0 L834.7,109.4 L835.7,109.9 L836.7,110.4 L837.7,110.9 L838.7,111.3 L839.7,111.8 L840.7,112.2 L841.7,112.7 L842.7,113.1 L843.7,113.5 L844.7,113.9 L845.1,114.1 L845.7,114.3 L846.7,114.7 L847.7,115.1 L848.7,115.5 L849.7,115.9 L850.7,116.3 L851.7,116.6 L852.7,117.0 L853.7,117.3 L854.7,117.7 L855.7,118.0 L856.3,118.2 L856.7,118.3 L857.7,118.7 L858.7,119.0 L859.7,119.3 L860.7,119.6 L861.7,119.9 L862.7,120.2 L863.7,120.5 L864.7,120.8 L865.7,121.0 L866.7,121.3 L867.6,121.5 L867.7,121.5 L868.7,121.8 L869.7,122.0 L870.7,122.2 L871.7,122.4 L872.7,122.6 L873.7,122.8 L874.7,123.0 L875.7,123.2 L876.7,123.4 L877.7,123.6 L878.7,123.8 L878.9,123.8 L879.7,123.9 L880.7,124.1 L881.7,124.3 L882.7,124.4 L883.7,124.6 L884.7,124.7 L885.7,124.8 L886.7,125.0 L887.7,125.1 L888.7,125.2 L889.7,125.4 L890.1,125.4 L890.7,125.5 L891.7,125.6 L892.7,125.7 L893.7,125.8 L894.7,126.0 L895.7,126.1 L896.7,126.2 L897.7,126.3 L898.7,126.4 L899.7,126.4 L900.7,126.5 L901.4,126.5 L901.7,126.5 L902.7,126.5 L903.7,126.6 L904.7,126.6 L905.7,126.6 L906.7,126.6 L907.7,126.7 L908.7,126.7 L909.7,126.7 L910.7,126.7 L911.7,126.7 L912.7,126.7 L913.7,126.7 L914.7,126.7 L915.7,126.7 L916.7,126.7 L917.7,126.7 L918.7,126.7 L919.7,126.7 L920.0,126.7 L920.7,126.7 L921.7,126.7 L922.7,126.6 L923.7,126.6 L924.7,126.5 L925.7,126.5 L926.7,126.4 L927.7,126.3 L928.7,126.3 L929.7,126.2 L930.7,126.1 L931.3,126.1 L931.7,126.1 L932.7,126.0 L933.7,126.0 L934.7,125.9 L935.7,125.8 L936.7,125.8 L937.7,125.7 L938.7,125.7 L939.7,125.6 L940.7,125.5 L941.7,125.5 L942.5,125.4 L942.7,125.4 L943.7,125.3 L944.7,125.2 L945.7,125.2 L946.7,125.1 L947.7,125.0 L948.7,124.9 L949.7,124.9 L950.7,124.8 L951.7,124.7 L952.7,124.6 L953.7,124.5 L953.8,124.5 L954.7,124.4 L955.7,124.3 L956.7,124.2 L957.7,124.1 L958.7,123.9 L959.7,123.8 L960.7,123.7 L961.7,123.6 L962.7,123.4 L963.7,123.3 L964.7,123.2 L965.1,123.1 L965.7,123.0 L966.7,122.9 L967.7,122.8 L968.7,122.6 L969.7,122.5 L970.7,122.3 L971.7,122.2 L972.7,122.1 L973.7,121.9 L974.7,121.8 L975.7,121.6 L976.3,121.5 L976.7,121.4 L977.7,121.2 L978.7,121.0 L979.7,120.7 L980.7,120.5 L981.7,120.3 L982.7,120.1 L983.7,120.0 L984.2,120.0 L984.7,120.0 L985.7,120.1 L986.7,120.4 L987.7,120.6 L988.7,120.9 L989.7,121.2 L990.7,121.4 L991.7,121.5 L992.1,121.5 L992.7,121.5 L993.7,121.4 L994.7,121.4 L995.7,121.2 L996.7,121.1 L997.7,120.9 L998.7,120.8 L999.7,120.6 L1000.7,120.4 L1001.7,120.2 L1002.7,120.1 L1003.4,120.0 L1003.7,120.0 L1004.7,119.8 L1005.7,119.7 L1006.7,119.5 L1007.7,119.4 L1008.7,119.2 L1009.7,119.1 L1010.7,119.0 L1011.7,118.9 L1012.7,118.7 L1013.7,118.7 L1014.6,118.6 L1014.7,118.6 L1015.7,118.5 L1016.7,118.5 L1017.7,118.4 L1018.7,118.4 L1019.7,118.3 L1020.7,118.3 L1021.7,118.2 L1022.7,118.2 L1023.7,118.2 L1024.7,118.1 L1025.7,118.1 L1026.7,118.1 L1027.7,118.1 L1028.2,118.1 L1028.7,118.1 L1029.7,118.1 L1030.7,118.2 L1031.7,118.3 L1032.7,118.4 L1033.7,118.5 L1034.7,118.7 L1035.7,118.8 L1036.7,119.0 L1037.7,119.2 L1038.7,119.4 L1039.4,119.5 L1039.7,119.6 L1040.7,119.8 L1041.7,120.1 L1042.7,120.5 L1043.7,120.9 L1044.7,121.3 L1045.7,121.8 L1046.7,122.3 L1047.7,122.7 L1048.7,123.2 L1049.7,123.7 L1050.5,124.0 L1050.7,124.1 L1051.7,124.5 L1052.7,125.1 L1053.7,125.6 L1054.7,126.1 L1055.7,126.7 L1056.7,127.2 L1057.7,127.6 L1058.7,127.9 L1059.7,128.1 L1060.7,128.2 L1061.7,128.0 L1062.7,127.5 L1063.7,127.0 L1064.7,126.7 L1065.2,126.6 L1065.7,126.6 L1066.7,126.8 L1067.7,127.0 L1068.7,127.3 L1069.7,127.8 L1070.7,128.2 L1071.7,128.7 L1071.9,128.8 L1072.7,129.3 L1073.7,130.1 L1074.7,131.1 L1075.7,132.2 L1076.7,133.3 L1077.6,134.3 L1077.7,134.4 L1078.7,135.5 L1079.7,136.6 L1080.7,137.8 L1081.7,138.9 L1082.7,140.0 L1083.7,141.1 L1084.3,141.7 L1084.7,142.1 L1085.7,143.1 L1086.7,144.0 L1087.7,144.9 L1088.7,145.8 L1089.7,146.7 L1090.7,147.5 L1091.7,148.3 L1092.7,149.1 L1093.4,149.6 L1093.7,149.8 L1094.7,150.5 L1095.7,151.2 L1096.7,151.8 L1097.7,152.5 L1098.7,153.1 L1099.7,153.7 L1100.7,154.2 L1101.7,154.8 L1102.4,155.2 L1102.7,155.4 L1103.7,156.0 L1104.7,156.7 L1105.7,157.2 L1106.7,157.5 L1106.9,157.5 L1107.7,157.3 L1108.7,156.8 L1109.7,156.4 L1110.3,156.3 L1110.7,156.3 L1111.7,156.5 L1112.7,156.9 L1113.7,157.5 L1114.7,158.1 L1115.7,158.6 L1116.7,159.2 L1117.7,159.6 L1118.1,159.7 L1118.7,159.9 L1119.7,160.1 L1120.7,160.3 L1121.7,160.6 L1122.7,160.8 L1123.7,160.9 L1124.7,161.1 L1125.7,161.2 L1126.7,161.3 L1127.2,161.3 L1127.7,161.3 L1128.7,161.3 L1129.7,161.4 L1130.7,161.4 L1131.7,161.4 L1132.7,161.4 L1133.7,161.4 L1134.7,161.5 L1135.7,161.5 L1136.2,161.5 L1136.7,161.5 L1137.7,161.6 L1138.7,161.6 L1139.7,161.7 L1140.7,161.8 L1141.7,162.0 L1142.7,162.1 L1143.7,162.2 L1144.7,162.4 L1145.7,162.5 L1146.3,162.6 L1146.3,250.6 L813.7,250.6 Z" fill="#B06067" stroke="none"/>
<path d="M813.7,200.6 L814.0,200.7 L814.7,200.9 L815.7,201.2 L816.7,201.5 L817.7,201.8 L818.7,202.1 L819.7,202.4 L820.7,202.7 L821.7,203.0 L822.5,203.2 L822.7,203.3 L823.7,203.6 L824.7,203.9 L825.7,204.2 L826.7,204.5 L827.7,204.8 L828.7,205.1 L829.7,205.4 L830.7,205.7 L831.7,206.0 L832.7,206.3 L833.7,206.6 L833.8,206.6 L834.7,206.8 L835.7,207.1 L836.7,207.3 L837.7,207.6 L838.7,207.8 L839.7,208.0 L840.7,208.3 L841.7,208.5 L842.7,208.7 L843.7,209.0 L844.7,209.2 L845.1,209.3 L845.7,209.4 L846.7,209.7 L847.7,209.9 L848.7,210.2 L849.7,210.4 L850.7,210.7 L851.7,210.9 L852.7,211.2 L853.7,211.4 L854.7,211.6 L855.7,211.9 L856.3,212.0 L856.7,212.1 L857.7,212.3 L858.7,212.5 L859.7,212.7 L860.7,212.9 L861.7,213.2 L862.7,213.4 L863.7,213.6 L864.7,213.8 L865.7,214.0 L866.7,214.1 L867.6,214.3 L867.7,214.3 L868.7,214.5 L869.7,214.7 L870.7,214.8 L871.7,215.0 L872.7,215.2 L873.7,215.3 L874.7,215.5 L875.7,215.6 L876.7,215.8 L877.7,215.9 L878.7,216.1 L878.9,216.1 L879.7,216.2 L880.7,216.3 L881.7,216.5 L882.7,216.6 L883.7,216.7 L884.7,216.8 L885.7,216.9 L886.7,217.1 L887.7,217.2 L888.7,217.3 L889.7,217.4 L890.1,217.4 L890.7,217.5 L891.7,217.5 L892.7,217.6 L893.7,217.7 L894.7,217.8 L895.7,217.9 L896.7,218.0 L897.7,218.1 L898.7,218.1 L899.7,218.2 L900.7,218.3 L901.4,218.3 L901.7,218.3 L902.7,218.4 L903.7,218.4 L904.7,218.5 L905.7,218.6 L906.7,218.6 L907.7,218.7 L908.7,218.7 L909.7,218.7 L910.7,218.8 L911.7,218.8 L912.7,218.8 L913.7,218.8 L914.7,218.8 L915.7,218.8 L916.7,218.8 L917.7,218.8 L918.7,218.8 L919.7,218.8 L920.0,218.8 L920.7,218.8 L921.7,218.8 L922.7,218.7 L923.7,218.6 L924.7,218.5 L925.7,218.4 L926.7,218.3 L927.7,218.2 L928.7,218.1 L929.7,218.0 L930.7,217.9 L931.3,217.9 L931.7,217.9 L932.7,217.8 L933.7,217.7 L934.7,217.7 L935.7,217.6 L936.7,217.6 L937.7,217.5 L938.7,217.5 L939.7,217.4 L940.7,217.3 L941.7,217.3 L942.5,217.2 L942.7,217.2 L943.7,217.1 L944.7,217.0 L945.7,216.9 L946.7,216.8 L947.7,216.7 L948.7,216.7 L949.7,216.5 L950.7,216.4 L951.7,216.3 L952.7,216.2 L953.7,216.1 L953.8,216.1 L954.7,216.0 L955.7,215.9 L956.7,215.7 L957.7,215.6 L958.7,215.4 L959.7,215.3 L960.7,215.1 L961.7,215.0 L962.7,214.8 L963.7,214.7 L964.7,214.6 L965.1,214.5 L965.7,214.4 L966.7,214.3 L967.7,214.2 L968.7,214.0 L969.7,213.9 L970.7,213.8 L971.7,213.7 L972.7,213.5 L973.7,213.4 L974.7,213.3 L975.7,213.2 L976.3,213.1 L976.7,213.1 L977.7,212.9 L978.7,212.8 L979.7,212.6 L980.7,212.5 L981.7,212.3 L982.7,212.3 L983.7,212.2 L984.2,212.2 L984.7,212.2 L985.7,212.4 L986.7,212.6 L987.7,212.9 L988.7,213.2 L989.7,213.4 L990.7,213.7 L991.7,213.8 L992.1,213.8 L992.7,213.8 L993.7,213.8 L994.7,213.7 L995.7,213.6 L996.7,213.5 L997.7,213.4 L998.7,213.3 L999.7,213.2 L1000.7,213.0 L1001.7,212.9 L1002.7,212.8 L1003.4,212.7 L1003.7,212.7 L1004.7,212.5 L1005.7,212.4 L1006.7,212.2 L1007.7,212.1 L1008.7,211.9 L1009.7,211.7 L1010.7,211.6 L1011.7,211.4 L1012.7,211.2 L1013.7,211.1 L1014.6,210.9 L1014.7,210.9 L1015.7,210.7 L1016.7,210.6 L1017.7,210.4 L1018.7,210.2 L1019.7,210.1 L1020.7,209.9 L1021.7,209.7 L1022.7,209.6 L1023.7,209.4 L1024.7,209.2 L1025.7,209.1 L1026.7,208.9 L1027.7,208.7 L1028.2,208.6 L1028.7,208.5 L1029.7,208.3 L1030.7,208.0 L1031.7,207.7 L1032.7,207.4 L1033.7,207.2 L1034.7,206.9 L1035.7,206.7 L1036.7,206.5 L1037.7,206.3 L1038.7,206.2 L1039.4,206.2 L1039.7,206.2 L1040.7,206.2 L1041.7,206.3 L1042.7,206.4 L1043.7,206.5 L1044.7,206.6 L1045.7,206.7 L1046.7,206.8 L1047.7,206.9 L1048.7,206.9 L1049.7,207.0 L1050.5,207.0 L1050.7,207.0 L1051.7,207.0 L1052.7,207.0 L1053.7,207.0 L1054.7,207.0 L1055.7,207.0 L1056.7,207.0 L1057.7,207.0 L1058.7,207.0 L1059.7,207.0 L1060.7,207.0 L1061.7,206.9 L1062.7,206.6 L1063.7,206.3 L1064.7,205.9 L1065.7,205.5 L1066.7,205.1 L1067.7,204.9 L1068.6,204.8 L1068.7,204.8 L1069.7,204.8 L1070.7,205.0 L1071.7,205.1 L1072.7,205.3 L1073.7,205.5 L1074.7,205.8 L1075.3,205.9 L1075.7,206.0 L1076.7,206.3 L1077.7,206.6 L1078.7,207.0 L1079.7,207.4 L1080.7,207.9 L1081.7,208.3 L1082.7,208.7 L1083.7,209.1 L1084.3,209.3 L1084.7,209.4 L1085.7,209.8 L1086.7,210.1 L1087.7,210.4 L1088.7,210.7 L1089.7,211.0 L1090.7,211.2 L1091.7,211.5 L1092.7,211.8 L1093.4,212.0 L1093.7,212.1 L1094.7,212.4 L1095.7,212.6 L1096.7,212.9 L1097.7,213.2 L1098.7,213.5 L1099.7,213.7 L1100.7,214.0 L1101.7,214.2 L1102.4,214.3 L1102.7,214.4 L1103.7,214.5 L1104.7,214.7 L1105.7,214.8 L1106.7,214.9 L1106.9,214.9 L1107.7,214.7 L1108.7,214.3 L1109.7,213.9 L1110.3,213.8 L1110.7,213.8 L1111.7,213.9 L1112.7,214.0 L1113.7,214.2 L1114.7,214.4 L1115.7,214.6 L1116.7,214.7 L1117.7,214.9 L1118.1,214.9 L1118.7,214.9 L1119.7,215.0 L1120.7,215.1 L1121.7,215.2 L1122.7,215.2 L1123.7,215.3 L1124.7,215.3 L1125.7,215.4 L1126.7,215.4 L1127.2,215.4 L1127.7,215.4 L1128.7,215.4 L1129.7,215.3 L1130.7,215.2 L1131.7,215.2 L1132.7,215.1 L1133.7,215.0 L1134.7,214.9 L1135.7,214.9 L1136.2,214.9 L1136.7,214.9 L1137.7,214.9 L1138.7,215.0 L1139.7,215.1 L1140.7,215.2 L1141.7,215.3 L1142.7,215.4 L1143.7,215.6 L1144.7,215.8 L1145.7,216.0 L1146.3,216.1 L1146.3,250.6 L813.7,250.6 Z" fill="#F2953D" stroke="none"/>
<path d="M813.7,212.6 L814.0,212.7 L814.7,212.9 L815.7,213.3 L816.7,213.6 L817.7,214.0 L818.7,214.3 L819.7,214.6 L820.7,215.0 L821.7,215.3 L822.5,215.6 L822.7,215.7 L823.7,216.0 L824.7,216.3 L825.7,216.7 L826.7,217.0 L827.7,217.4 L828.7,217.7 L829.7,218.1 L830.7,218.4 L831.7,218.7 L832.7,219.0 L833.7,219.4 L833.8,219.4 L834.7,219.7 L835.7,220.0 L836.7,220.3 L837.7,220.6 L838.7,220.9 L839.7,221.2 L840.7,221.5 L841.7,221.8 L842.7,222.1 L843.7,222.4 L844.7,222.7 L845.1,222.8 L845.7,223.0 L846.7,223.2 L847.7,223.5 L848.7,223.8 L849.7,224.1 L850.7,224.3 L851.7,224.6 L852.7,224.8 L853.7,225.1 L854.7,225.3 L855.7,225.6 L856.3,225.7 L856.7,225.8 L857.7,226.0 L858.7,226.2 L859.7,226.4 L860.7,226.7 L861.7,226.9 L862.7,227.1 L863.7,227.3 L864.7,227.4 L865.7,227.6 L866.7,227.8 L867.6,228.0 L867.7,228.0 L868.7,228.2 L869.7,228.4 L870.7,228.6 L871.7,228.8 L872.7,229.0 L873.7,229.1 L874.7,229.3 L875.7,229.5 L876.7,229.7 L877.7,229.8 L878.7,230.0 L878.9,230.0 L879.7,230.1 L880.7,230.3 L881.7,230.4 L882.7,230.5 L883.7,230.7 L884.7,230.8 L885.7,230.9 L886.7,231.0 L887.7,231.1 L888.7,231.2 L889.7,231.4 L890.1,231.4 L890.7,231.5 L891.7,231.6 L892.7,231.7 L893.7,231.8 L894.7,231.9 L895.7,232.0 L896.7,232.1 L897.7,232.2 L898.7,232.3 L899.7,232.4 L900.7,232.4 L901.4,232.5 L901.7,232.5 L902.7,232.6 L903.7,232.7 L904.7,232.7 L905.7,232.8 L906.7,232.9 L907.7,232.9 L908.7,233.0 L909.7,233.0 L910.7,233.1 L911.7,233.1 L912.7,233.2 L913.7,233.3 L914.7,233.3 L915.7,233.4 L916.7,233.4 L917.7,233.5 L918.7,233.5 L919.7,233.6 L920.0,233.6 L920.7,233.6 L921.7,233.7 L922.7,233.7 L923.7,233.8 L924.7,233.9 L925.7,233.9 L926.7,234.0 L927.7,234.0 L928.7,234.1 L929.7,234.1 L930.7,234.1 L931.3,234.1 L931.7,234.1 L932.7,234.1 L933.7,234.1 L934.7,234.1 L935.7,234.1 L936.7,234.1 L937.7,234.1 L938.7,234.1 L939.7,234.1 L940.7,234.1 L941.7,234.1 L942.5,234.1 L942.7,234.1 L943.7,234.1 L944.7,234.1 L945.7,234.0 L946.7,234.0 L947.7,233.9 L948.7,233.9 L949.7,233.8 L950.7,233.8 L951.7,233.7 L952.7,233.7 L953.7,233.6 L953.8,233.6 L954.7,233.6 L955.7,233.5 L956.7,233.5 L957.7,233.4 L958.7,233.4 L959.7,233.3 L960.7,233.2 L961.7,233.2 L962.7,233.1 L963.7,233.1 L964.7,233.0 L965.1,233.0 L965.7,233.0 L966.7,232.9 L967.7,232.8 L968.7,232.8 L969.7,232.7 L970.7,232.7 L971.7,232.6 L972.7,232.5 L973.7,232.5 L974.7,232.4 L975.7,232.3 L976.3,232.3 L976.7,232.3 L977.7,232.2 L978.7,232.1 L979.7,232.0 L980.7,232.0 L981.7,231.9 L982.7,231.8 L983.7,231.8 L984.2,231.8 L984.7,231.8 L985.7,232.0 L986.7,232.2 L987.7,232.5 L988.7,232.8 L989.7,233.0 L990.7,233.3 L991.7,233.4 L992.1,233.4 L992.7,233.4 L993.7,233.4 L994.7,233.4 L995.7,233.3 L996.7,233.3 L997.7,233.3 L998.7,233.2 L999.7,233.2 L1000.7,233.1 L1001.7,233.1 L1002.7,233.0 L1003.4,233.0 L1003.7,233.0 L1004.7,232.9 L1005.7,232.9 L1006.7,232.9 L1007.7,232.8 L1008.7,232.8 L1009.7,232.7 L1010.7,232.7 L1011.7,232.6 L1012.7,232.6 L1013.7,232.5 L1014.6,232.5 L1014.7,232.5 L1015.7,232.5 L1016.7,232.4 L1017.7,232.4 L1018.7,232.3 L1019.7,232.3 L1020.7,232.3 L1021.7,232.2 L1022.7,232.2 L1023.7,232.2 L1024.7,232.1 L1025.7,232.1 L1026.7,232.1 L1027.7,232.0 L1028.2,232.0 L1028.7,232.0 L1029.7,231.9 L1030.7,231.9 L1031.7,231.8 L1032.7,231.7 L1033.7,231.6 L1034.7,231.6 L1035.7,231.5 L1036.7,231.5 L1037.7,231.4 L1038.7,231.4 L1039.4,231.4 L1039.7,231.4 L1040.7,231.4 L1041.7,231.4 L1042.7,231.4 L1043.7,231.4 L1044.7,231.4 L1045.7,231.4 L1046.7,231.4 L1047.7,231.4 L1048.7,231.4 L1049.7,231.4 L1050.5,231.4 L1050.7,231.4 L1051.7,231.4 L1052.7,231.4 L1053.7,231.4 L1054.7,231.4 L1055.7,231.3 L1056.7,231.3 L1057.7,231.3 L1058.7,231.3 L1059.7,231.2 L1060.7,231.2 L1061.7,231.2 L1062.7,231.1 L1063.7,231.0 L1064.7,230.9 L1065.7,230.8 L1066.7,230.8 L1067.7,230.7 L1068.6,230.7 L1068.7,230.7 L1069.7,230.7 L1070.7,230.8 L1071.7,230.9 L1072.7,231.0 L1073.7,231.2 L1074.7,231.3 L1075.3,231.4 L1075.7,231.5 L1076.7,231.6 L1077.7,231.9 L1078.7,232.1 L1079.7,232.4 L1080.7,232.6 L1081.7,232.9 L1082.7,233.1 L1083.7,233.3 L1084.3,233.4 L1084.7,233.5 L1085.7,233.6 L1086.7,233.7 L1087.7,233.8 L1088.7,233.9 L1089.7,234.0 L1090.7,234.1 L1091.7,234.2 L1092.7,234.3 L1093.4,234.3 L1093.7,234.3 L1094.7,234.3 L1095.7,234.4 L1096.7,234.4 L1097.7,234.4 L1098.7,234.5 L1099.7,234.5 L1100.7,234.5 L1101.7,234.5 L1102.4,234.5 L1102.7,234.5 L1103.7,234.5 L1104.7,234.5 L1105.7,234.4 L1106.7,234.4 L1107.7,234.4 L1108.7,234.3 L1109.7,234.3 L1110.3,234.3 L1110.7,234.3 L1111.7,234.3 L1112.7,234.3 L1113.7,234.4 L1114.7,234.4 L1115.7,234.5 L1116.7,234.5 L1117.7,234.5 L1118.1,234.5 L1118.7,234.5 L1119.7,234.5 L1120.7,234.5 L1121.7,234.5 L1122.7,234.5 L1123.7,234.5 L1124.7,234.5 L1125.7,234.5 L1126.7,234.5 L1127.2,234.5 L1127.7,234.5 L1128.7,234.5 L1129.7,234.6 L1130.7,234.6 L1131.7,234.7 L1132.7,234.8 L1133.7,234.9 L1134.7,235.0 L1135.7,235.1 L1136.2,235.2 L1136.7,235.3 L1137.7,235.4 L1138.7,235.5 L1139.7,235.7 L1140.7,235.8 L1141.7,236.0 L1142.7,236.2 L1143.7,236.4 L1144.7,236.6 L1145.7,236.9 L1146.3,237.0 L1146.3,250.6 L813.7,250.6 Z" fill="#2F6B8A" stroke="none"/>
<path d="M813.7,60.2 L814.0,60.4 L814.7,60.9 L815.7,61.6 L816.7,62.3 L817.7,63.0 L818.7,63.6 L819.7,64.3 L820.7,64.9 L821.7,65.6 L822.5,66.1 L822.7,66.2 L823.7,66.9 L824.7,67.5 L825.7,68.1 L826.7,68.8 L827.7,69.4 L828.7,70.0 L829.7,70.6 L830.7,71.2 L831.7,71.7 L832.7,72.3 L833.7,72.8 L833.8,72.8 L834.7,73.2 L835.7,73.7 L836.7,74.1 L837.7,74.6 L838.7,75.0 L839.7,75.4 L840.7,75.8 L841.7,76.1 L842.7,76.5 L843.7,76.8 L844.7,77.2 L845.1,77.3 L845.7,77.5 L846.7,77.8 L847.7,78.1 L848.7,78.5 L849.7,78.8 L850.7,79.1 L851.7,79.4 L852.7,79.6 L853.7,79.9 L854.7,80.1 L855.7,80.2 L856.3,80.3 L856.7,80.3 L857.7,80.5 L858.7,80.6 L859.7,80.7 L860.7,80.8 L861.7,80.9 L862.7,81.0 L863.7,81.1 L864.7,81.1 L865.7,81.2 L866.7,81.2 L867.6,81.2 L867.7,81.2 L868.7,81.2 L869.7,81.2 L870.7,81.1 L871.7,81.1 L872.7,81.0 L873.7,80.9 L874.7,80.9 L875.7,80.8 L876.7,80.7 L877.7,80.6 L878.7,80.5 L878.9,80.5 L879.7,80.4 L880.7,80.3 L881.7,80.2 L882.7,80.1 L883.7,79.9 L884.7,79.8 L885.7,79.6 L886.7,79.5 L887.7,79.3 L888.7,79.1 L889.7,79.0 L890.1,78.9 L890.7,78.8 L891.7,78.6 L892.7,78.5 L893.7,78.3 L894.7,78.1 L895.7,78.0 L896.7,77.8 L897.7,77.6 L898.7,77.4 L899.7,77.2 L900.7,77.0 L901.4,76.9 L901.7,76.8 L902.7,76.6 L903.7,76.4 L904.7,76.2 L905.7,75.9 L906.7,75.7 L907.7,75.4 L908.7,75.2 L909.7,74.9 L910.7,74.7 L911.7,74.4 L912.7,74.2 L913.7,74.0 L914.7,73.8 L915.7,73.5 L916.7,73.3 L917.7,73.1 L918.7,72.9 L919.7,72.7 L920.0,72.6 L920.7,72.4 L921.7,72.2 L922.7,71.9 L923.7,71.7 L924.7,71.4 L925.7,71.1 L926.7,70.9 L927.7,70.6 L928.7,70.3 L929.7,70.1 L930.7,69.8 L931.3,69.6 L931.7,69.5 L932.7,69.2 L933.7,68.9 L934.7,68.6 L935.7,68.3 L936.7,68.0 L937.7,67.7 L938.7,67.4 L939.7,67.1 L940.7,66.7 L941.7,66.4 L942.5,66.2 L942.7,66.1 L943.7,65.8 L944.7,65.5 L945.7,65.3 L946.7,65.0 L947.7,64.7 L948.7,64.4 L949.7,64.1 L950.7,63.8 L951.7,63.5 L952.7,63.2 L953.7,62.8 L953.8,62.8 L954.7,62.5 L955.7,62.2 L956.7,61.8 L957.7,61.5 L958.7,61.2 L959.7,60.8 L960.7,60.5 L961.7,60.1 L962.7,59.7 L963.7,59.3 L964.7,59.0 L965.1,58.8 L965.7,58.6 L966.7,58.1 L967.7,57.7 L968.7,57.2 L969.7,56.7 L970.7,56.3 L971.7,55.8 L972.7,55.4 L973.7,55.0 L974.1,54.8 L974.7,54.6 L975.7,54.2 L976.7,53.9 L977.7,53.5 L978.7,53.2 L979.7,52.9 L980.7,52.6 L981.7,52.3 L982.7,52.0 L983.7,51.7 L984.7,51.4 L985.7,51.1 L986.7,50.7 L987.6,50.4 L987.7,50.4 L988.7,50.0 L989.7,49.6 L990.7,49.2 L991.7,48.9 L992.7,48.5 L993.7,48.1 L994.7,47.7 L995.7,47.2 L996.7,46.8 L997.7,46.4 L998.7,46.0 L998.9,45.9 L999.7,45.5 L1000.7,45.1 L1001.7,44.6 L1002.7,44.1 L1003.7,43.6 L1004.7,43.1 L1005.7,42.6 L1006.7,42.1 L1007.7,41.7 L1008.7,41.2 L1009.7,40.8 L1010.1,40.7 L1010.7,40.5 L1011.7,40.1 L1012.7,39.8 L1013.7,39.5 L1014.7,39.2 L1015.7,38.9 L1016.7,38.6 L1017.7,38.3 L1018.7,38.1 L1019.7,37.8 L1020.7,37.6 L1021.4,37.4 L1021.7,37.3 L1022.7,37.1 L1023.7,36.9 L1024.7,36.7 L1025.7,36.4 L1026.7,36.2 L1027.7,36.0 L1028.7,35.8 L1029.7,35.7 L1030.7,35.5 L1031.7,35.3 L1032.7,35.1 L1033.7,34.9 L1034.7,34.7 L1035.7,34.5 L1036.7,34.3 L1037.7,34.1 L1038.7,34.0 L1039.4,34.0 L1039.7,34.0 L1040.7,34.2 L1041.7,34.7 L1042.7,35.2 L1043.7,35.7 L1043.8,35.8 L1044.7,36.4 L1045.7,37.2 L1046.7,38.1 L1047.7,39.0 L1048.7,39.9 L1049.7,40.8 L1050.5,41.4 L1050.7,41.5 L1051.7,42.2 L1052.7,43.0 L1053.7,43.7 L1054.7,44.4 L1055.7,45.1 L1056.7,45.7 L1057.7,46.3 L1058.7,46.7 L1059.7,46.9 L1060.7,47.0 L1061.7,46.6 L1062.7,45.6 L1063.7,44.6 L1064.7,43.8 L1065.2,43.7 L1065.7,43.7 L1066.7,43.7 L1067.7,43.8 L1068.7,43.9 L1069.7,44.0 L1070.7,44.1 L1071.7,44.3 L1071.9,44.3 L1072.7,44.6 L1073.7,45.2 L1074.7,46.1 L1075.7,47.2 L1076.7,48.3 L1077.6,49.3 L1077.7,49.4 L1078.7,50.6 L1079.7,51.9 L1080.7,53.3 L1081.7,54.7 L1082.7,56.1 L1083.7,57.5 L1084.3,58.3 L1084.7,58.8 L1085.7,60.1 L1086.7,61.3 L1087.7,62.5 L1088.7,63.7 L1089.7,64.9 L1090.7,66.0 L1091.7,67.2 L1092.7,68.3 L1093.4,69.1 L1093.7,69.4 L1094.7,70.5 L1095.7,71.6 L1096.7,72.7 L1097.7,73.7 L1098.7,74.8 L1099.7,75.8 L1100.7,76.9 L1101.7,77.9 L1102.4,78.6 L1102.7,78.9 L1103.7,80.2 L1104.7,81.5 L1105.7,82.7 L1106.7,83.7 L1107.7,84.2 L1108.0,84.2 L1108.7,83.4 L1109.7,81.4 L1110.3,80.8 L1110.7,80.9 L1111.7,81.4 L1112.7,82.3 L1113.7,83.4 L1114.7,84.4 L1115.7,85.3 L1115.9,85.4 L1116.7,85.9 L1117.7,86.5 L1118.7,87.0 L1119.7,87.6 L1120.7,88.1 L1121.7,88.5 L1122.7,88.9 L1123.7,89.1 L1124.7,89.2 L1124.9,89.2 L1125.7,89.2 L1126.7,89.0 L1127.7,88.8 L1128.7,88.5 L1129.7,88.1 L1130.7,87.7 L1131.7,87.3 L1132.7,86.9 L1133.7,86.6 L1133.9,86.5 L1134.7,86.2 L1135.7,85.8 L1136.7,85.4 L1137.7,85.0 L1138.7,84.6 L1139.7,84.2 L1140.7,83.8 L1141.7,83.5 L1142.7,83.1 L1143.7,82.8 L1144.7,82.5 L1145.7,82.2 L1146.3,82.0" fill="none" stroke="#000000" stroke-width="1.6" stroke-linejoin="round"/>
<path d="M813.7,97.1 L814.0,97.3 L814.7,97.8 L815.7,98.4 L816.7,99.0 L817.7,99.7 L818.7,100.3 L819.7,100.9 L820.7,101.5 L821.7,102.1 L822.5,102.6 L822.7,102.7 L823.7,103.3 L824.7,103.9 L825.7,104.5 L826.7,105.1 L827.7,105.7 L828.7,106.2 L829.7,106.8 L830.7,107.4 L831.7,107.9 L832.7,108.4 L833.7,108.9 L833.8,109.0 L834.7,109.4 L835.7,109.9 L836.7,110.4 L837.7,110.9 L838.7,111.3 L839.7,111.8 L840.7,112.2 L841.7,112.7 L842.7,113.1 L843.7,113.5 L844.7,113.9 L845.1,114.1 L845.7,114.3 L846.7,114.7 L847.7,115.1 L848.7,115.5 L849.7,115.9 L850.7,116.3 L851.7,116.6 L852.7,117.0 L853.7,117.3 L854.7,117.7 L855.7,118.0 L856.3,118.2 L856.7,118.3 L857.7,118.7 L858.7,119.0 L859.7,119.3 L860.7,119.6 L861.7,119.9 L862.7,120.2 L863.7,120.5 L864.7,120.8 L865.7,121.0 L866.7,121.3 L867.6,121.5 L867.7,121.5 L868.7,121.8 L869.7,122.0 L870.7,122.2 L871.7,122.4 L872.7,122.6 L873.7,122.8 L874.7,123.0 L875.7,123.2 L876.7,123.4 L877.7,123.6 L878.7,123.8 L878.9,123.8 L879.7,123.9 L880.7,124.1 L881.7,124.3 L882.7,124.4 L883.7,124.6 L884.7,124.7 L885.7,124.8 L886.7,125.0 L887.7,125.1 L888.7,125.2 L889.7,125.4 L890.1,125.4 L890.7,125.5 L891.7,125.6 L892.7,125.7 L893.7,125.8 L894.7,126.0 L895.7,126.1 L896.7,126.2 L897.7,126.3 L898.7,126.4 L899.7,126.4 L900.7,126.5 L901.4,126.5 L901.7,126.5 L902.7,126.5 L903.7,126.6 L904.7,126.6 L905.7,126.6 L906.7,126.6 L907.7,126.7 L908.7,126.7 L909.7,126.7 L910.7,126.7 L911.7,126.7 L912.7,126.7 L913.7,126.7 L914.7,126.7 L915.7,126.7 L916.7,126.7 L917.7,126.7 L918.7,126.7 L919.7,126.7 L920.0,126.7 L920.7,126.7 L921.7,126.7 L922.7,126.6 L923.7,126.6 L924.7,126.5 L925.7,126.5 L926.7,126.4 L927.7,126.3 L928.7,126.3 L929.7,126.2 L930.7,126.1 L931.3,126.1 L931.7,126.1 L932.7,126.0 L933.7,126.0 L934.7,125.9 L935.7,125.8 L936.7,125.8 L937.7,125.7 L938.7,125.7 L939.7,125.6 L940.7,125.5 L941.7,125.5 L942.5,125.4 L942.7,125.4 L943.7,125.3 L944.7,125.2 L945.7,125.2 L946.7,125.1 L947.7,125.0 L948.7,124.9 L949.7,124.9 L950.7,124.8 L951.7,124.7 L952.7,124.6 L953.7,124.5 L953.8,124.5 L954.7,124.4 L955.7,124.3 L956.7,124.2 L957.7,124.1 L958.7,123.9 L959.7,123.8 L960.7,123.7 L961.7,123.6 L962.7,123.4 L963.7,123.3 L964.7,123.2 L965.1,123.1 L965.7,123.0 L966.7,122.9 L967.7,122.8 L968.7,122.6 L969.7,122.5 L970.7,122.3 L971.7,122.2 L972.7,122.1 L973.7,121.9 L974.7,121.8 L975.7,121.6 L976.3,121.5 L976.7,121.4 L977.7,121.2 L978.7,121.0 L979.7,120.7 L980.7,120.5 L981.7,120.3 L982.7,120.1 L983.7,120.0 L984.2,120.0 L984.7,120.0 L985.7,120.1 L986.7,120.4 L987.7,120.6 L988.7,120.9 L989.7,121.2 L990.7,121.4 L991.7,121.5 L992.1,121.5 L992.7,121.5 L993.7,121.4 L994.7,121.4 L995.7,121.2 L996.7,121.1 L997.7,120.9 L998.7,120.8 L999.7,120.6 L1000.7,120.4 L1001.7,120.2 L1002.7,120.1 L1003.4,120.0 L1003.7,120.0 L1004.7,119.8 L1005.7,119.7 L1006.7,119.5 L1007.7,119.4 L1008.7,119.2 L1009.7,119.1 L1010.7,119.0 L1011.7,118.9 L1012.7,118.7 L1013.7,118.7 L1014.6,118.6 L1014.7,118.6 L1015.7,118.5 L1016.7,118.5 L1017.7,118.4 L1018.7,118.4 L1019.7,118.3 L1020.7,118.3 L1021.7,118.2 L1022.7,118.2 L1023.7,118.2 L1024.7,118.1 L1025.7,118.1 L1026.7,118.1 L1027.7,118.1 L1028.2,118.1 L1028.7,118.1 L1029.7,118.1 L1030.7,118.2 L1031.7,118.3 L1032.7,118.4 L1033.7,118.5 L1034.7,118.7 L1035.7,118.8 L1036.7,119.0 L1037.7,119.2 L1038.7,119.4 L1039.4,119.5 L1039.7,119.6 L1040.7,119.8 L1041.7,120.1 L1042.7,120.5 L1043.7,120.9 L1044.7,121.3 L1045.7,121.8 L1046.7,122.3 L1047.7,122.7 L1048.7,123.2 L1049.7,123.7 L1050.5,124.0 L1050.7,124.1 L1051.7,124.5 L1052.7,125.1 L1053.7,125.6 L1054.7,126.1 L1055.7,126.7 L1056.7,127.2 L1057.7,127.6 L1058.7,127.9 L1059.7,128.1 L1060.7,128.2 L1061.7,128.0 L1062.7,127.5 L1063.7,127.0 L1064.7,126.7 L1065.2,126.6 L1065.7,126.6 L1066.7,126.8 L1067.7,127.0 L1068.7,127.3 L1069.7,127.8 L1070.7,128.2 L1071.7,128.7 L1071.9,128.8 L1072.7,129.3 L1073.7,130.1 L1074.7,131.1 L1075.7,132.2 L1076.7,133.3 L1077.6,134.3 L1077.7,134.4 L1078.7,135.5 L1079.7,136.6 L1080.7,137.8 L1081.7,138.9 L1082.7,140.0 L1083.7,141.1 L1084.3,141.7 L1084.7,142.1 L1085.7,143.1 L1086.7,144.0 L1087.7,144.9 L1088.7,145.8 L1089.7,146.7 L1090.7,147.5 L1091.7,148.3 L1092.7,149.1 L1093.4,149.6 L1093.7,149.8 L1094.7,150.5 L1095.7,151.2 L1096.7,151.8 L1097.7,152.5 L1098.7,153.1 L1099.7,153.7 L1100.7,154.2 L1101.7,154.8 L1102.4,155.2 L1102.7,155.4 L1103.7,156.0 L1104.7,156.7 L1105.7,157.2 L1106.7,157.5 L1106.9,157.5 L1107.7,157.3 L1108.7,156.8 L1109.7,156.4 L1110.3,156.3 L1110.7,156.3 L1111.7,156.5 L1112.7,156.9 L1113.7,157.5 L1114.7,158.1 L1115.7,158.6 L1116.7,159.2 L1117.7,159.6 L1118.1,159.7 L1118.7,159.9 L1119.7,160.1 L1120.7,160.3 L1121.7,160.6 L1122.7,160.8 L1123.7,160.9 L1124.7,161.1 L1125.7,161.2 L1126.7,161.3 L1127.2,161.3 L1127.7,161.3 L1128.7,161.3 L1129.7,161.4 L1130.7,161.4 L1131.7,161.4 L1132.7,161.4 L1133.7,161.4 L1134.7,161.5 L1135.7,161.5 L1136.2,161.5 L1136.7,161.5 L1137.7,161.6 L1138.7,161.6 L1139.7,161.7 L1140.7,161.8 L1141.7,162.0 L1142.7,162.1 L1143.7,162.2 L1144.7,162.4 L1145.7,162.5 L1146.3,162.6" fill="none" stroke="#3A0815" stroke-width="1.5" stroke-dasharray="1.4 2.8" stroke-linejoin="round"/>
<path d="M813.7,200.6 L814.0,200.7 L814.7,200.9 L815.7,201.2 L816.7,201.5 L817.7,201.8 L818.7,202.1 L819.7,202.4 L820.7,202.7 L821.7,203.0 L822.5,203.2 L822.7,203.3 L823.7,203.6 L824.7,203.9 L825.7,204.2 L826.7,204.5 L827.7,204.8 L828.7,205.1 L829.7,205.4 L830.7,205.7 L831.7,206.0 L832.7,206.3 L833.7,206.6 L833.8,206.6 L834.7,206.8 L835.7,207.1 L836.7,207.3 L837.7,207.6 L838.7,207.8 L839.7,208.0 L840.7,208.3 L841.7,208.5 L842.7,208.7 L843.7,209.0 L844.7,209.2 L845.1,209.3 L845.7,209.4 L846.7,209.7 L847.7,209.9 L848.7,210.2 L849.7,210.4 L850.7,210.7 L851.7,210.9 L852.7,211.2 L853.7,211.4 L854.7,211.6 L855.7,211.9 L856.3,212.0 L856.7,212.1 L857.7,212.3 L858.7,212.5 L859.7,212.7 L860.7,212.9 L861.7,213.2 L862.7,213.4 L863.7,213.6 L864.7,213.8 L865.7,214.0 L866.7,214.1 L867.6,214.3 L867.7,214.3 L868.7,214.5 L869.7,214.7 L870.7,214.8 L871.7,215.0 L872.7,215.2 L873.7,215.3 L874.7,215.5 L875.7,215.6 L876.7,215.8 L877.7,215.9 L878.7,216.1 L878.9,216.1 L879.7,216.2 L880.7,216.3 L881.7,216.5 L882.7,216.6 L883.7,216.7 L884.7,216.8 L885.7,216.9 L886.7,217.1 L887.7,217.2 L888.7,217.3 L889.7,217.4 L890.1,217.4 L890.7,217.5 L891.7,217.5 L892.7,217.6 L893.7,217.7 L894.7,217.8 L895.7,217.9 L896.7,218.0 L897.7,218.1 L898.7,218.1 L899.7,218.2 L900.7,218.3 L901.4,218.3 L901.7,218.3 L902.7,218.4 L903.7,218.4 L904.7,218.5 L905.7,218.6 L906.7,218.6 L907.7,218.7 L908.7,218.7 L909.7,218.7 L910.7,218.8 L911.7,218.8 L912.7,218.8 L913.7,218.8 L914.7,218.8 L915.7,218.8 L916.7,218.8 L917.7,218.8 L918.7,218.8 L919.7,218.8 L920.0,218.8 L920.7,218.8 L921.7,218.8 L922.7,218.7 L923.7,218.6 L924.7,218.5 L925.7,218.4 L926.7,218.3 L927.7,218.2 L928.7,218.1 L929.7,218.0 L930.7,217.9 L931.3,217.9 L931.7,217.9 L932.7,217.8 L933.7,217.7 L934.7,217.7 L935.7,217.6 L936.7,217.6 L937.7,217.5 L938.7,217.5 L939.7,217.4 L940.7,217.3 L941.7,217.3 L942.5,217.2 L942.7,217.2 L943.7,217.1 L944.7,217.0 L945.7,216.9 L946.7,216.8 L947.7,216.7 L948.7,216.7 L949.7,216.5 L950.7,216.4 L951.7,216.3 L952.7,216.2 L953.7,216.1 L953.8,216.1 L954.7,216.0 L955.7,215.9 L956.7,215.7 L957.7,215.6 L958.7,215.4 L959.7,215.3 L960.7,215.1 L961.7,215.0 L962.7,214.8 L963.7,214.7 L964.7,214.6 L965.1,214.5 L965.7,214.4 L966.7,214.3 L967.7,214.2 L968.7,214.0 L969.7,213.9 L970.7,213.8 L971.7,213.7 L972.7,213.5 L973.7,213.4 L974.7,213.3 L975.7,213.2 L976.3,213.1 L976.7,213.1 L977.7,212.9 L978.7,212.8 L979.7,212.6 L980.7,212.5 L981.7,212.3 L982.7,212.3 L983.7,212.2 L984.2,212.2 L984.7,212.2 L985.7,212.4 L986.7,212.6 L987.7,212.9 L988.7,213.2 L989.7,213.4 L990.7,213.7 L991.7,213.8 L992.1,213.8 L992.7,213.8 L993.7,213.8 L994.7,213.7 L995.7,213.6 L996.7,213.5 L997.7,213.4 L998.7,213.3 L999.7,213.2 L1000.7,213.0 L1001.7,212.9 L1002.7,212.8 L1003.4,212.7 L1003.7,212.7 L1004.7,212.5 L1005.7,212.4 L1006.7,212.2 L1007.7,212.1 L1008.7,211.9 L1009.7,211.7 L1010.7,211.6 L1011.7,211.4 L1012.7,211.2 L1013.7,211.1 L1014.6,210.9 L1014.7,210.9 L1015.7,210.7 L1016.7,210.6 L1017.7,210.4 L1018.7,210.2 L1019.7,210.1 L1020.7,209.9 L1021.7,209.7 L1022.7,209.6 L1023.7,209.4 L1024.7,209.2 L1025.7,209.1 L1026.7,208.9 L1027.7,208.7 L1028.2,208.6 L1028.7,208.5 L1029.7,208.3 L1030.7,208.0 L1031.7,207.7 L1032.7,207.4 L1033.7,207.2 L1034.7,206.9 L1035.7,206.7 L1036.7,206.5 L1037.7,206.3 L1038.7,206.2 L1039.4,206.2 L1039.7,206.2 L1040.7,206.2 L1041.7,206.3 L1042.7,206.4 L1043.7,206.5 L1044.7,206.6 L1045.7,206.7 L1046.7,206.8 L1047.7,206.9 L1048.7,206.9 L1049.7,207.0 L1050.5,207.0 L1050.7,207.0 L1051.7,207.0 L1052.7,207.0 L1053.7,207.0 L1054.7,207.0 L1055.7,207.0 L1056.7,207.0 L1057.7,207.0 L1058.7,207.0 L1059.7,207.0 L1060.7,207.0 L1061.7,206.9 L1062.7,206.6 L1063.7,206.3 L1064.7,205.9 L1065.7,205.5 L1066.7,205.1 L1067.7,204.9 L1068.6,204.8 L1068.7,204.8 L1069.7,204.8 L1070.7,205.0 L1071.7,205.1 L1072.7,205.3 L1073.7,205.5 L1074.7,205.8 L1075.3,205.9 L1075.7,206.0 L1076.7,206.3 L1077.7,206.6 L1078.7,207.0 L1079.7,207.4 L1080.7,207.9 L1081.7,208.3 L1082.7,208.7 L1083.7,209.1 L1084.3,209.3 L1084.7,209.4 L1085.7,209.8 L1086.7,210.1 L1087.7,210.4 L1088.7,210.7 L1089.7,211.0 L1090.7,211.2 L1091.7,211.5 L1092.7,211.8 L1093.4,212.0 L1093.7,212.1 L1094.7,212.4 L1095.7,212.6 L1096.7,212.9 L1097.7,213.2 L1098.7,213.5 L1099.7,213.7 L1100.7,214.0 L1101.7,214.2 L1102.4,214.3 L1102.7,214.4 L1103.7,214.5 L1104.7,214.7 L1105.7,214.8 L1106.7,214.9 L1106.9,214.9 L1107.7,214.7 L1108.7,214.3 L1109.7,213.9 L1110.3,213.8 L1110.7,213.8 L1111.7,213.9 L1112.7,214.0 L1113.7,214.2 L1114.7,214.4 L1115.7,214.6 L1116.7,214.7 L1117.7,214.9 L1118.1,214.9 L1118.7,214.9 L1119.7,215.0 L1120.7,215.1 L1121.7,215.2 L1122.7,215.2 L1123.7,215.3 L1124.7,215.3 L1125.7,215.4 L1126.7,215.4 L1127.2,215.4 L1127.7,215.4 L1128.7,215.4 L1129.7,215.3 L1130.7,215.2 L1131.7,215.2 L1132.7,215.1 L1133.7,215.0 L1134.7,214.9 L1135.7,214.9 L1136.2,214.9 L1136.7,214.9 L1137.7,214.9 L1138.7,215.0 L1139.7,215.1 L1140.7,215.2 L1141.7,215.3 L1142.7,215.4 L1143.7,215.6 L1144.7,215.8 L1145.7,216.0 L1146.3,216.1" fill="none" stroke="#5A3208" stroke-width="1.5" stroke-dasharray="4.8 6" stroke-linejoin="round"/>
<path d="M813.7,212.6 L814.0,212.7 L814.7,212.9 L815.7,213.3 L816.7,213.6 L817.7,214.0 L818.7,214.3 L819.7,214.6 L820.7,215.0 L821.7,215.3 L822.5,215.6 L822.7,215.7 L823.7,216.0 L824.7,216.3 L825.7,216.7 L826.7,217.0 L827.7,217.4 L828.7,217.7 L829.7,218.1 L830.7,218.4 L831.7,218.7 L832.7,219.0 L833.7,219.4 L833.8,219.4 L834.7,219.7 L835.7,220.0 L836.7,220.3 L837.7,220.6 L838.7,220.9 L839.7,221.2 L840.7,221.5 L841.7,221.8 L842.7,222.1 L843.7,222.4 L844.7,222.7 L845.1,222.8 L845.7,223.0 L846.7,223.2 L847.7,223.5 L848.7,223.8 L849.7,224.1 L850.7,224.3 L851.7,224.6 L852.7,224.8 L853.7,225.1 L854.7,225.3 L855.7,225.6 L856.3,225.7 L856.7,225.8 L857.7,226.0 L858.7,226.2 L859.7,226.4 L860.7,226.7 L861.7,226.9 L862.7,227.1 L863.7,227.3 L864.7,227.4 L865.7,227.6 L866.7,227.8 L867.6,228.0 L867.7,228.0 L868.7,228.2 L869.7,228.4 L870.7,228.6 L871.7,228.8 L872.7,229.0 L873.7,229.1 L874.7,229.3 L875.7,229.5 L876.7,229.7 L877.7,229.8 L878.7,230.0 L878.9,230.0 L879.7,230.1 L880.7,230.3 L881.7,230.4 L882.7,230.5 L883.7,230.7 L884.7,230.8 L885.7,230.9 L886.7,231.0 L887.7,231.1 L888.7,231.2 L889.7,231.4 L890.1,231.4 L890.7,231.5 L891.7,231.6 L892.7,231.7 L893.7,231.8 L894.7,231.9 L895.7,232.0 L896.7,232.1 L897.7,232.2 L898.7,232.3 L899.7,232.4 L900.7,232.4 L901.4,232.5 L901.7,232.5 L902.7,232.6 L903.7,232.7 L904.7,232.7 L905.7,232.8 L906.7,232.9 L907.7,232.9 L908.7,233.0 L909.7,233.0 L910.7,233.1 L911.7,233.1 L912.7,233.2 L913.7,233.3 L914.7,233.3 L915.7,233.4 L916.7,233.4 L917.7,233.5 L918.7,233.5 L919.7,233.6 L920.0,233.6 L920.7,233.6 L921.7,233.7 L922.7,233.7 L923.7,233.8 L924.7,233.9 L925.7,233.9 L926.7,234.0 L927.7,234.0 L928.7,234.1 L929.7,234.1 L930.7,234.1 L931.3,234.1 L931.7,234.1 L932.7,234.1 L933.7,234.1 L934.7,234.1 L935.7,234.1 L936.7,234.1 L937.7,234.1 L938.7,234.1 L939.7,234.1 L940.7,234.1 L941.7,234.1 L942.5,234.1 L942.7,234.1 L943.7,234.1 L944.7,234.1 L945.7,234.0 L946.7,234.0 L947.7,233.9 L948.7,233.9 L949.7,233.8 L950.7,233.8 L951.7,233.7 L952.7,233.7 L953.7,233.6 L953.8,233.6 L954.7,233.6 L955.7,233.5 L956.7,233.5 L957.7,233.4 L958.7,233.4 L959.7,233.3 L960.7,233.2 L961.7,233.2 L962.7,233.1 L963.7,233.1 L964.7,233.0 L965.1,233.0 L965.7,233.0 L966.7,232.9 L967.7,232.8 L968.7,232.8 L969.7,232.7 L970.7,232.7 L971.7,232.6 L972.7,232.5 L973.7,232.5 L974.7,232.4 L975.7,232.3 L976.3,232.3 L976.7,232.3 L977.7,232.2 L978.7,232.1 L979.7,232.0 L980.7,232.0 L981.7,231.9 L982.7,231.8 L983.7,231.8 L984.2,231.8 L984.7,231.8 L985.7,232.0 L986.7,232.2 L987.7,232.5 L988.7,232.8 L989.7,233.0 L990.7,233.3 L991.7,233.4 L992.1,233.4 L992.7,233.4 L993.7,233.4 L994.7,233.4 L995.7,233.3 L996.7,233.3 L997.7,233.3 L998.7,233.2 L999.7,233.2 L1000.7,233.1 L1001.7,233.1 L1002.7,233.0 L1003.4,233.0 L1003.7,233.0 L1004.7,232.9 L1005.7,232.9 L1006.7,232.9 L1007.7,232.8 L1008.7,232.8 L1009.7,232.7 L1010.7,232.7 L1011.7,232.6 L1012.7,232.6 L1013.7,232.5 L1014.6,232.5 L1014.7,232.5 L1015.7,232.5 L1016.7,232.4 L1017.7,232.4 L1018.7,232.3 L1019.7,232.3 L1020.7,232.3 L1021.7,232.2 L1022.7,232.2 L1023.7,232.2 L1024.7,232.1 L1025.7,232.1 L1026.7,232.1 L1027.7,232.0 L1028.2,232.0 L1028.7,232.0 L1029.7,231.9 L1030.7,231.9 L1031.7,231.8 L1032.7,231.7 L1033.7,231.6 L1034.7,231.6 L1035.7,231.5 L1036.7,231.5 L1037.7,231.4 L1038.7,231.4 L1039.4,231.4 L1039.7,231.4 L1040.7,231.4 L1041.7,231.4 L1042.7,231.4 L1043.7,231.4 L1044.7,231.4 L1045.7,231.4 L1046.7,231.4 L1047.7,231.4 L1048.7,231.4 L1049.7,231.4 L1050.5,231.4 L1050.7,231.4 L1051.7,231.4 L1052.7,231.4 L1053.7,231.4 L1054.7,231.4 L1055.7,231.3 L1056.7,231.3 L1057.7,231.3 L1058.7,231.3 L1059.7,231.2 L1060.7,231.2 L1061.7,231.2 L1062.7,231.1 L1063.7,231.0 L1064.7,230.9 L1065.7,230.8 L1066.7,230.8 L1067.7,230.7 L1068.6,230.7 L1068.7,230.7 L1069.7,230.7 L1070.7,230.8 L1071.7,230.9 L1072.7,231.0 L1073.7,231.2 L1074.7,231.3 L1075.3,231.4 L1075.7,231.5 L1076.7,231.6 L1077.7,231.9 L1078.7,232.1 L1079.7,232.4 L1080.7,232.6 L1081.7,232.9 L1082.7,233.1 L1083.7,233.3 L1084.3,233.4 L1084.7,233.5 L1085.7,233.6 L1086.7,233.7 L1087.7,233.8 L1088.7,233.9 L1089.7,234.0 L1090.7,234.1 L1091.7,234.2 L1092.7,234.3 L1093.4,234.3 L1093.7,234.3 L1094.7,234.3 L1095.7,234.4 L1096.7,234.4 L1097.7,234.4 L1098.7,234.5 L1099.7,234.5 L1100.7,234.5 L1101.7,234.5 L1102.4,234.5 L1102.7,234.5 L1103.7,234.5 L1104.7,234.5 L1105.7,234.4 L1106.7,234.4 L1107.7,234.4 L1108.7,234.3 L1109.7,234.3 L1110.3,234.3 L1110.7,234.3 L1111.7,234.3 L1112.7,234.3 L1113.7,234.4 L1114.7,234.4 L1115.7,234.5 L1116.7,234.5 L1117.7,234.5 L1118.1,234.5 L1118.7,234.5 L1119.7,234.5 L1120.7,234.5 L1121.7,234.5 L1122.7,234.5 L1123.7,234.5 L1124.7,234.5 L1125.7,234.5 L1126.7,234.5 L1127.2,234.5 L1127.7,234.5 L1128.7,234.5 L1129.7,234.6 L1130.7,234.6 L1131.7,234.7 L1132.7,234.8 L1133.7,234.9 L1134.7,235.0 L1135.7,235.1 L1136.2,235.2 L1136.7,235.3 L1137.7,235.4 L1138.7,235.5 L1139.7,235.7 L1140.7,235.8 L1141.7,236.0 L1142.7,236.2 L1143.7,236.4 L1144.7,236.6 L1145.7,236.9 L1146.3,237.0" fill="none" stroke="#0A1C33" stroke-width="1.6" stroke-dasharray="12.5 1.6" stroke-linejoin="round"/>
<path d="M807.2,28.5 L807.2,256.3 L1152.5,256.3" fill="none" stroke="#4E5358" stroke-width="1.15"/>
<line x1="803.0" y1="250.8" x2="806.9000000000001" y2="250.8" stroke="#222" stroke-width="0.9"/>
<text x="800.5" y="254.60000000000002" font-size="10.2" text-anchor="end" fill="#111">0</text>
<line x1="803.0" y1="209.1" x2="806.9000000000001" y2="209.1" stroke="#222" stroke-width="0.9"/>
<text x="800.5" y="212.9" font-size="10.2" text-anchor="end" fill="#111">2</text>
<line x1="803.0" y1="167.4" x2="806.9000000000001" y2="167.4" stroke="#222" stroke-width="0.9"/>
<text x="800.5" y="171.20000000000002" font-size="10.2" text-anchor="end" fill="#111">4</text>
<line x1="803.0" y1="125.7" x2="806.9000000000001" y2="125.7" stroke="#222" stroke-width="0.9"/>
<text x="800.5" y="129.5" font-size="10.2" text-anchor="end" fill="#111">6</text>
<line x1="803.0" y1="84.0" x2="806.9000000000001" y2="84.0" stroke="#222" stroke-width="0.9"/>
<text x="800.5" y="87.8" font-size="10.2" text-anchor="end" fill="#111">8</text>
<line x1="803.0" y1="42.3" x2="806.9000000000001" y2="42.3" stroke="#222" stroke-width="0.9"/>
<text x="800.5" y="46.099999999999994" font-size="10.2" text-anchor="end" fill="#111">10</text>
<line x1="848" y1="256.6" x2="848" y2="260.5" stroke="#222" stroke-width="0.9"/>
<text x="848" y="272.3" font-size="10.1" text-anchor="middle" fill="#111">3,500</text>
<line x1="936" y1="256.6" x2="936" y2="260.5" stroke="#222" stroke-width="0.9"/>
<text x="936" y="272.3" font-size="10.1" text-anchor="middle" fill="#111">8,000</text>
<line x1="1024" y1="256.6" x2="1024" y2="260.5" stroke="#222" stroke-width="0.9"/>
<text x="1024" y="272.3" font-size="10.1" text-anchor="middle" fill="#111">18,500</text>
<line x1="1112.2" y1="256.6" x2="1112.2" y2="260.5" stroke="#222" stroke-width="0.9"/>
<text x="1112.2" y="272.3" font-size="10.1" text-anchor="middle" fill="#111">43,000</text>
<text x="918.7" y="286.4" font-size="10.3" textLength="117.6" lengthAdjust="spacingAndGlyphs" fill="#111">GDP per captia, log scale</text>
<rect x="21.2" y="320.3" width="329.3" height="30.3" fill="#fff" stroke="#55595E" stroke-width="1.0"/>
<rect x="25.099999999999998" y="324.40000000000003" width="36.8" height="9.6" fill="#2F6B8A" stroke="#0A1C33" stroke-width="1.1" stroke-dasharray="12.5 1.6"/>
<text x="67.0" y="332.6" font-size="9.5" textLength="144.4" lengthAdjust="spacingAndGlyphs" fill="#111">Craft workers &amp; machine operators</text>
<rect x="25.099999999999998" y="337.7" width="36.8" height="9.6" fill="#5B905E" stroke="#12350F" stroke-width="1.1" stroke-dasharray="1.4 2.8"/>
<text x="67.0" y="345.9" font-size="9.5" textLength="107.5" lengthAdjust="spacingAndGlyphs" fill="#111">Engineering professionals</text>
<rect x="221.2" y="324.40000000000003" width="36.8" height="9.6" fill="#F2953D" stroke="#5A3208" stroke-width="1.1" stroke-dasharray="4.8 6"/>
<text x="262.2" y="332.6" font-size="9.5" textLength="41.5" lengthAdjust="spacingAndGlyphs" fill="#111">Managers</text>
<rect x="221.2" y="337.7" width="36.8" height="9.6" fill="#484E52" stroke="#000000" stroke-width="1.1"/>
<text x="262.2" y="345.9" font-size="9.5" textLength="86.3" lengthAdjust="spacingAndGlyphs" fill="#111">All other occupations</text>
<rect x="415.1" y="314.5" width="329.0" height="30.7" fill="#fff" stroke="#55595E" stroke-width="1.0"/>
<rect x="418.5" y="318.1" width="36.8" height="9.6" fill="#2F6B8A" stroke="#0A1C33" stroke-width="1.1" stroke-dasharray="12.5 1.6"/>
<text x="460.70000000000005" y="326.3" font-size="9.5" textLength="144.4" lengthAdjust="spacingAndGlyphs" fill="#111">Craft workers &amp; machine operators</text>
<rect x="418.5" y="331.9" width="36.8" height="9.6" fill="#5B905E" stroke="#12350F" stroke-width="1.1" stroke-dasharray="1.4 2.8"/>
<text x="460.70000000000005" y="340.09999999999997" font-size="9.5" textLength="107.5" lengthAdjust="spacingAndGlyphs" fill="#111">Engineering professionals</text>
<rect x="614.9000000000001" y="318.1" width="36.8" height="9.6" fill="#F2953D" stroke="#5A3208" stroke-width="1.1" stroke-dasharray="4.8 6"/>
<text x="655.3" y="326.3" font-size="9.5" textLength="41.5" lengthAdjust="spacingAndGlyphs" fill="#111">Managers</text>
<rect x="614.9000000000001" y="331.9" width="36.8" height="9.6" fill="#484E52" stroke="#000000" stroke-width="1.1"/>
<text x="655.3" y="340.09999999999997" font-size="9.5" textLength="86.3" lengthAdjust="spacingAndGlyphs" fill="#111">All other occupations</text>
<rect x="807.2" y="314.5" width="331.4" height="30.7" fill="#fff" stroke="#55595E" stroke-width="1.0"/>
<rect x="810.8000000000001" y="318.1" width="36.8" height="9.6" fill="#2F6B8A" stroke="#0A1C33" stroke-width="1.1" stroke-dasharray="12.5 1.6"/>
<text x="852.3000000000001" y="326.3" font-size="9.5" textLength="144.4" lengthAdjust="spacingAndGlyphs" fill="#111">Craft workers &amp; machine operators</text>
<rect x="810.8000000000001" y="331.9" width="36.8" height="9.6" fill="#B06067" stroke="#3A0815" stroke-width="1.1" stroke-dasharray="1.4 2.8"/>
<text x="852.3000000000001" y="340.09999999999997" font-size="9.5" textLength="29.5" lengthAdjust="spacingAndGlyphs" fill="#111">Drivers</text>
<rect x="1008.7" y="318.1" width="36.8" height="9.6" fill="#F2953D" stroke="#5A3208" stroke-width="1.1" stroke-dasharray="4.8 6"/>
<text x="1049.5" y="326.3" font-size="9.5" textLength="41.5" lengthAdjust="spacingAndGlyphs" fill="#111">Managers</text>
<rect x="1008.7" y="331.9" width="36.8" height="9.6" fill="#484E52" stroke="#000000" stroke-width="1.1"/>
<text x="1049.5" y="340.09999999999997" font-size="9.5" textLength="86.3" lengthAdjust="spacingAndGlyphs" fill="#111">All other occupations</text>
</svg>
</body></html>
